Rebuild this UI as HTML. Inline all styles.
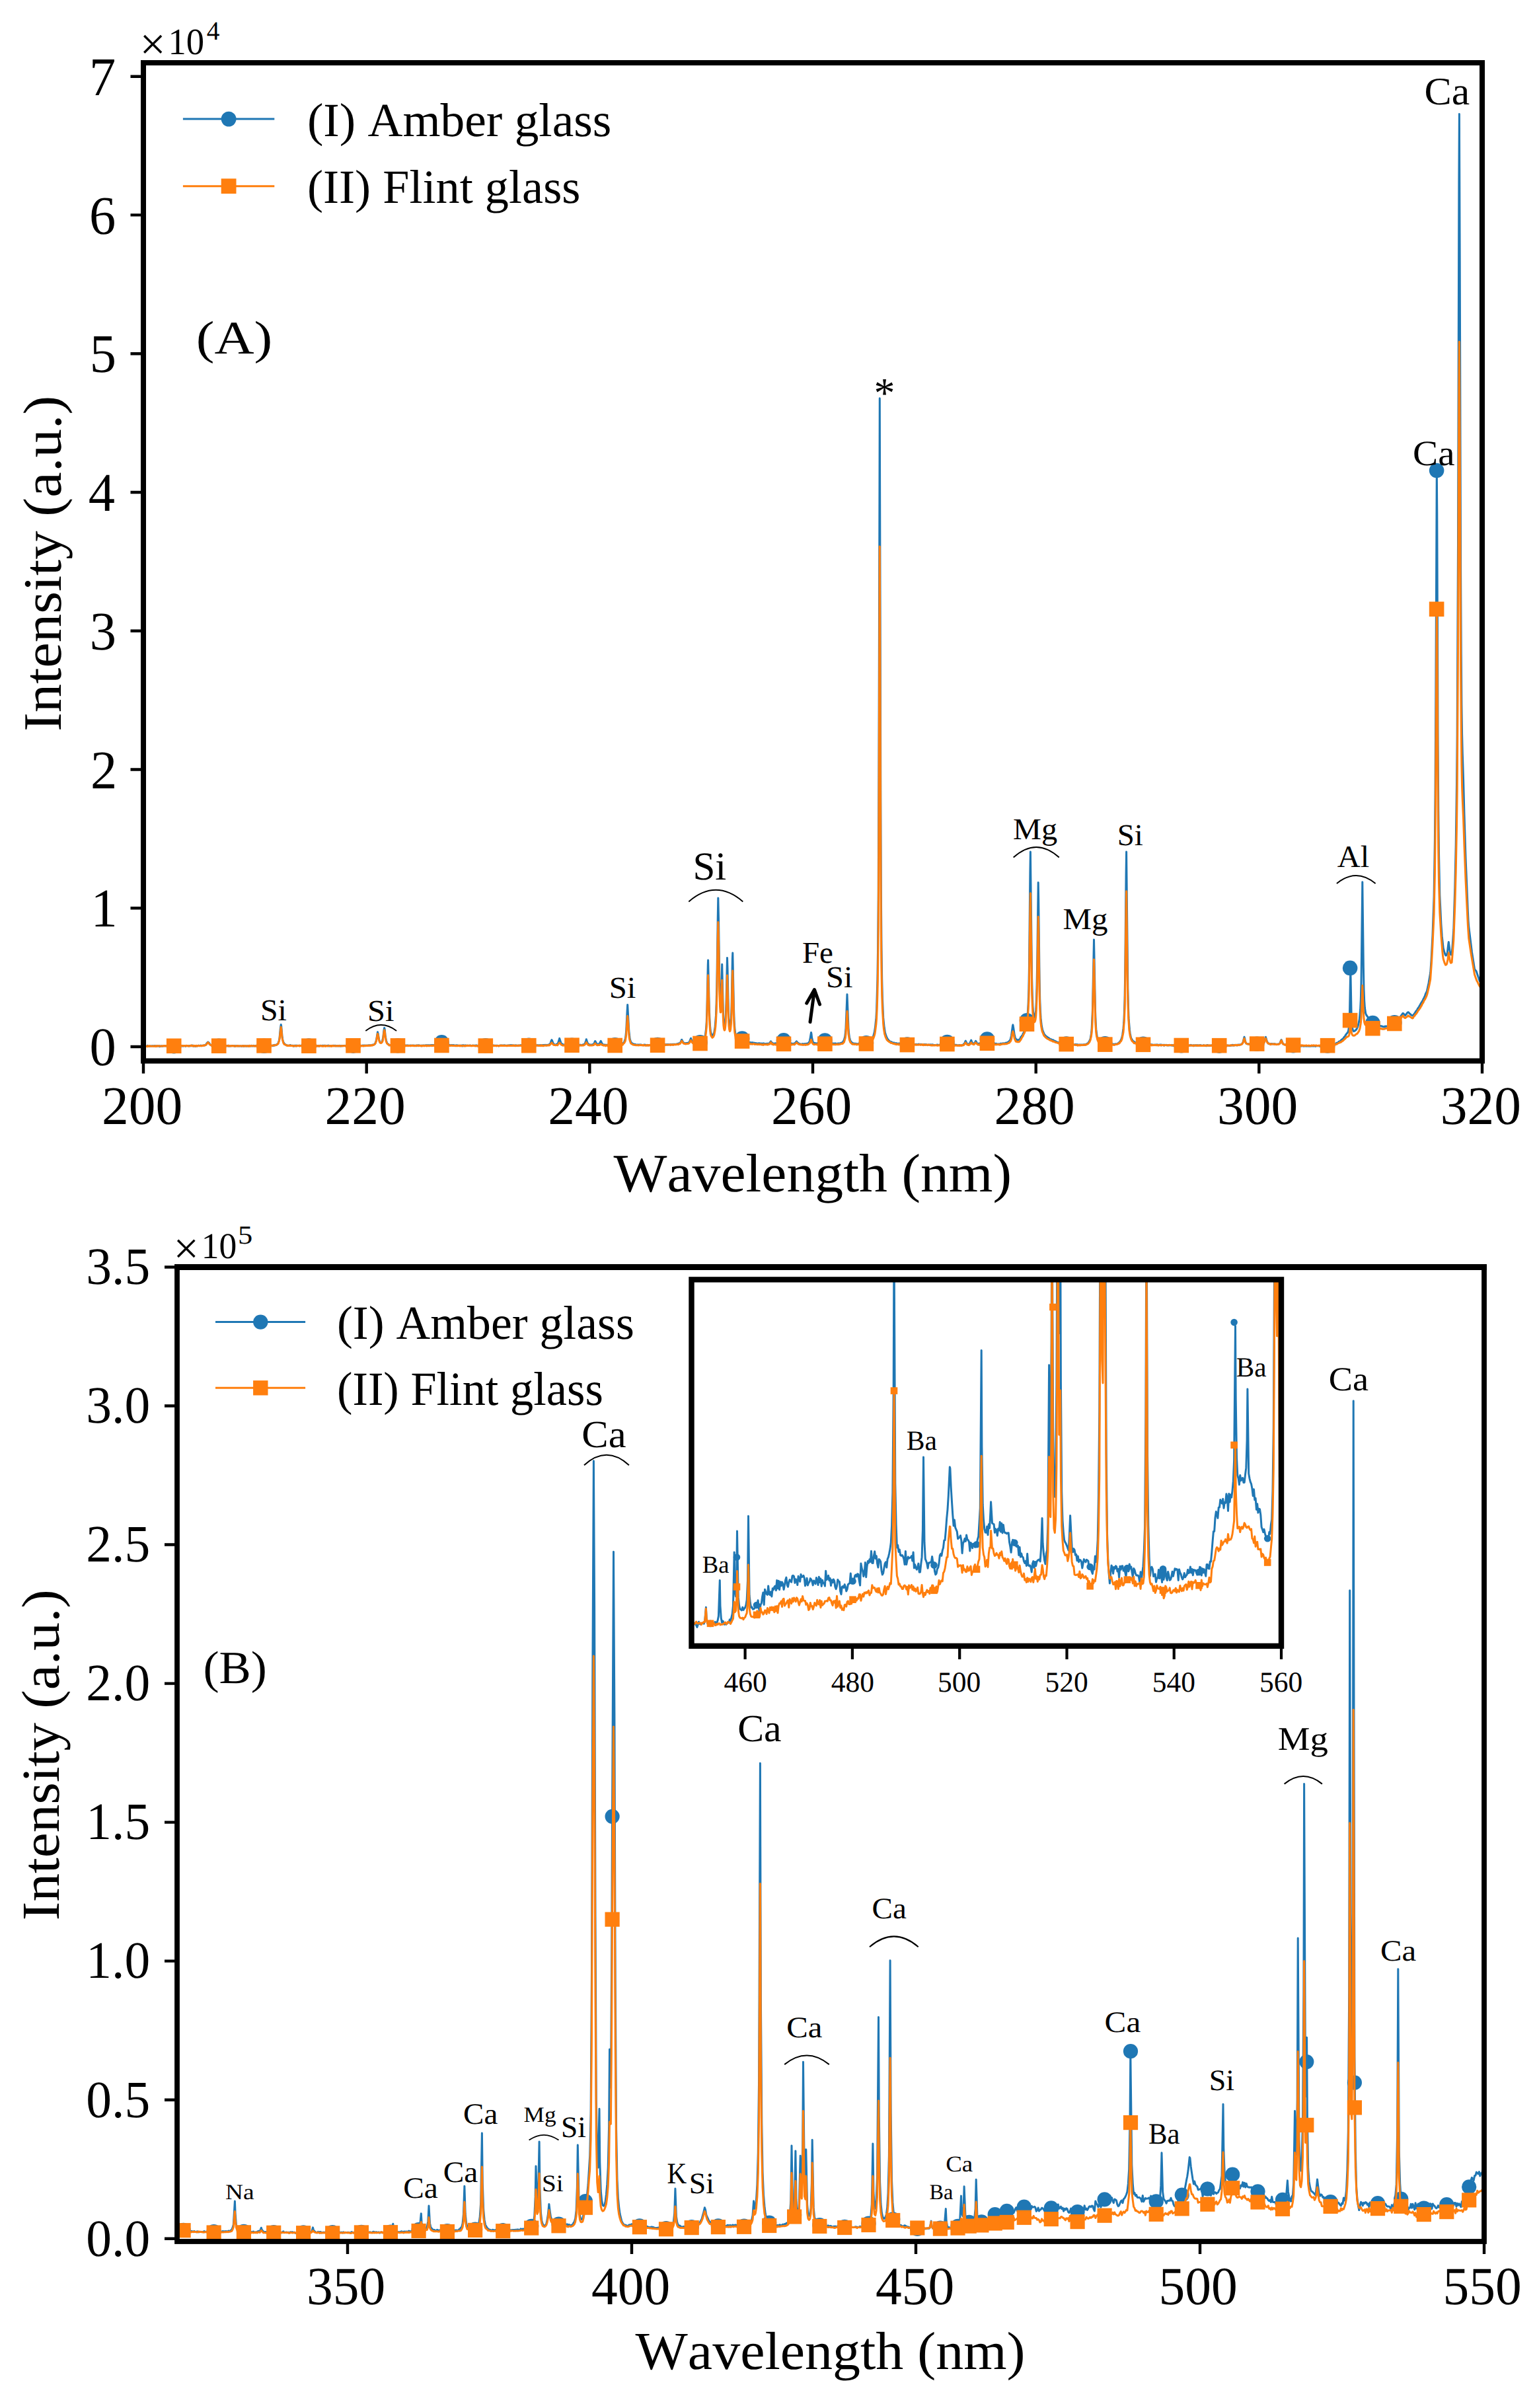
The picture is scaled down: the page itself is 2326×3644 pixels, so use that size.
<!DOCTYPE html>
<html lang="en"><head><meta charset="utf-8"><title>LIBS spectra of amber and flint glass</title>
<style>html,body{margin:0;padding:0;background:#fff}svg{display:block}</style></head>
<body>
<svg width="2326" height="3644" viewBox="0 0 2326 3644" font-family="'Liberation Serif', serif" fill="#000" style="font-kerning:none;text-rendering:geometricPrecision">
<rect width="2326" height="3644" fill="#fff"/>
<clipPath id="ca"><rect x="217.0" y="95.0" width="2026.0" height="1510.5"/></clipPath>
<g clip-path="url(#ca)">
<polyline points="217.0,1582.6 217.7,1583.8 218.4,1583.0 219.0,1583.3 220.4,1583.2 221.1,1583.6 221.7,1583.2 222.4,1583.3 223.1,1582.3 223.8,1583.0 226.5,1583.3 227.8,1583.0 228.5,1583.1 229.2,1582.8 229.8,1583.1 230.5,1583.0 231.2,1582.7 232.5,1583.2 234.6,1582.5 235.2,1583.1 236.6,1582.7 237.3,1583.2 238.6,1582.8 240.0,1583.0 240.6,1582.8 241.3,1583.7 242.0,1582.7 243.3,1583.4 244.0,1582.9 244.7,1582.8 246.0,1583.2 247.4,1582.9 248.1,1582.6 249.4,1582.8 250.1,1582.6 251.4,1583.1 252.1,1582.7 254.1,1583.1 254.8,1582.8 255.5,1583.5 256.2,1582.7 256.8,1582.7 257.5,1583.2 258.2,1582.8 258.9,1583.1 259.5,1582.6 260.2,1583.3 262.2,1582.5 262.9,1583.3 264.3,1582.7 264.9,1582.9 265.6,1582.4 266.3,1583.1 267.0,1582.7 267.6,1583.0 268.3,1582.4 270.4,1583.2 271.0,1582.3 271.7,1582.6 273.1,1582.5 275.1,1582.9 275.8,1582.9 276.4,1582.4 277.1,1583.1 279.8,1582.6 280.5,1583.1 281.2,1583.2 282.5,1582.4 284.5,1582.8 285.9,1582.8 286.6,1582.5 287.2,1582.9 287.9,1582.7 289.9,1582.7 290.6,1582.1 292.0,1582.3 292.6,1583.2 293.3,1582.8 294.0,1582.9 294.7,1582.6 295.3,1583.3 296.0,1582.4 296.7,1582.4 297.4,1583.0 298.7,1582.9 300.7,1582.1 301.4,1582.7 302.1,1582.4 302.8,1582.6 303.4,1582.1 304.1,1582.4 304.8,1582.2 305.5,1582.7 306.1,1582.5 306.8,1582.6 307.5,1581.9 308.8,1582.1 309.5,1582.0 310.2,1581.5 310.9,1581.5 311.5,1581.1 312.9,1578.8 313.6,1578.3 314.2,1577.3 314.9,1577.0 316.3,1578.1 317.6,1580.3 320.3,1582.3 321.7,1582.2 322.4,1582.5 323.7,1582.6 325.1,1582.3 325.7,1582.7 328.4,1582.2 329.1,1583.2 329.8,1582.5 330.5,1582.8 332.5,1582.5 333.8,1582.7 334.5,1582.3 335.2,1582.8 336.5,1582.6 337.2,1582.9 337.9,1582.2 338.6,1582.5 339.2,1582.2 339.9,1582.8 340.6,1582.9 341.9,1582.6 342.6,1582.9 343.3,1582.7 344.0,1582.8 344.6,1582.4 345.3,1583.0 346.0,1582.5 346.7,1583.0 348.7,1583.1 350.0,1582.6 350.7,1582.8 352.1,1582.4 354.8,1583.2 355.4,1582.6 356.1,1583.3 356.8,1582.7 357.5,1582.8 358.1,1582.6 359.5,1583.0 360.2,1582.7 360.8,1583.0 364.9,1582.9 365.6,1583.4 366.2,1582.9 366.9,1583.1 367.6,1582.6 368.3,1582.5 368.9,1583.3 369.6,1582.8 371.0,1583.1 371.7,1582.7 373.0,1583.3 373.7,1582.9 375.0,1582.8 375.7,1583.2 376.4,1582.7 377.1,1582.7 377.7,1583.1 379.1,1582.9 379.8,1583.0 380.4,1582.4 381.8,1583.1 383.1,1582.9 383.8,1582.3 384.5,1582.9 385.8,1582.7 386.5,1582.9 387.2,1582.3 387.9,1583.0 388.5,1582.7 389.9,1582.7 390.6,1583.1 391.2,1582.4 391.9,1582.9 393.3,1583.1 394.6,1582.7 396.6,1582.5 398.0,1582.8 398.7,1582.6 400.0,1582.8 401.4,1582.4 402.7,1582.8 404.1,1582.2 404.7,1582.7 406.1,1582.7 406.8,1582.3 407.4,1583.1 408.8,1582.2 409.5,1582.7 410.1,1582.1 411.5,1582.5 412.2,1582.3 412.8,1582.7 414.2,1581.6 414.9,1582.2 415.5,1581.4 416.2,1581.7 416.9,1581.3 418.2,1581.6 419.6,1580.0 420.3,1579.6 421.0,1578.6 422.3,1574.6 423.0,1571.1 424.3,1556.6 425.2,1550.6 425.7,1552.8 427.0,1568.0 427.7,1573.0 428.4,1576.0 429.1,1577.6 430.4,1579.6 431.8,1580.9 434.5,1582.0 437.2,1582.3 437.8,1582.0 438.5,1582.2 439.2,1581.5 440.5,1582.5 441.2,1582.2 442.6,1582.6 443.2,1582.1 444.6,1583.2 445.3,1582.3 445.9,1582.6 446.6,1582.1 447.3,1582.7 448.0,1582.8 448.6,1582.1 449.3,1582.8 450.7,1582.2 452.0,1582.5 453.4,1582.3 454.0,1582.7 454.7,1582.4 455.4,1582.4 456.1,1582.0 456.7,1582.6 457.4,1582.8 458.1,1582.4 458.8,1582.7 460.8,1582.3 461.5,1582.7 462.1,1582.6 462.8,1583.2 464.2,1582.2 464.8,1582.8 466.2,1582.9 466.9,1582.4 468.2,1582.9 468.9,1582.4 470.2,1582.4 470.9,1582.8 471.6,1582.2 473.6,1582.7 475.0,1582.4 475.7,1582.7 476.3,1582.3 477.0,1582.5 477.7,1582.3 479.0,1582.6 479.7,1583.1 480.4,1582.5 481.1,1582.4 484.4,1582.8 485.1,1582.3 487.1,1582.9 488.5,1582.2 489.8,1582.8 490.5,1582.3 491.2,1582.3 494.6,1582.4 495.2,1582.8 495.9,1582.2 496.6,1582.6 497.3,1582.1 497.9,1583.1 498.6,1582.4 499.3,1582.4 500.0,1582.7 502.0,1582.5 502.7,1582.7 504.7,1582.3 505.4,1582.6 507.4,1582.3 508.1,1582.9 508.7,1582.9 509.4,1582.6 510.1,1582.9 512.1,1582.5 512.8,1582.9 513.5,1582.4 514.1,1583.0 514.8,1582.5 515.5,1583.0 516.2,1582.9 516.8,1582.4 518.2,1582.8 519.5,1582.5 520.9,1582.6 521.6,1582.3 522.3,1582.8 523.6,1582.7 524.3,1582.3 525.6,1582.3 526.3,1582.6 527.7,1582.4 528.3,1582.7 529.0,1582.4 529.7,1582.4 530.4,1582.7 531.7,1582.6 533.1,1581.9 533.7,1582.6 534.4,1582.6 535.1,1583.1 535.8,1582.5 537.1,1582.8 537.8,1582.3 538.5,1582.9 539.8,1582.5 540.5,1582.8 541.2,1582.3 541.8,1582.3 542.5,1582.9 543.2,1582.9 543.9,1582.3 545.2,1582.8 547.9,1582.3 548.6,1582.4 549.3,1582.0 550.6,1582.2 552.0,1582.1 552.6,1582.2 553.3,1582.7 554.0,1582.1 554.7,1582.3 555.3,1581.9 556.0,1582.2 557.4,1582.1 558.0,1581.7 559.4,1582.1 562.8,1581.6 563.4,1581.0 564.1,1581.5 565.5,1580.9 566.1,1580.3 566.8,1580.3 568.2,1578.2 569.5,1573.9 571.5,1561.8 572.2,1564.2 573.6,1573.2 574.9,1577.2 576.3,1578.0 577.6,1577.1 578.3,1576.3 579.7,1570.3 581.0,1558.9 581.7,1555.4 582.4,1558.9 583.0,1566.2 584.4,1574.8 585.7,1578.3 586.4,1579.3 587.1,1579.9 587.8,1580.2 588.4,1581.0 589.8,1581.4 590.5,1581.8 591.1,1581.2 592.5,1581.7 593.2,1581.5 593.8,1582.1 595.2,1581.6 595.9,1581.8 596.5,1582.6 597.2,1582.9 598.6,1581.9 599.2,1582.3 600.6,1582.1 601.3,1582.4 602.6,1582.0 604.6,1582.4 605.3,1582.2 606.0,1582.4 607.3,1581.7 608.0,1582.5 608.7,1582.9 609.4,1582.4 610.7,1582.1 611.4,1582.1 612.1,1582.5 612.7,1582.5 613.4,1582.0 614.1,1582.6 614.8,1582.1 615.4,1582.4 616.1,1582.1 618.1,1582.1 618.8,1582.6 619.5,1582.3 620.8,1582.2 621.5,1582.0 622.9,1582.5 624.9,1582.1 625.6,1582.5 626.3,1582.0 628.3,1582.6 629.6,1582.1 630.3,1582.7 631.0,1582.0 631.7,1581.9 632.3,1582.2 633.0,1582.2 633.7,1581.7 635.0,1582.5 635.7,1582.3 637.1,1582.3 637.7,1582.8 638.4,1582.0 639.1,1582.4 641.1,1582.0 642.5,1582.4 643.8,1581.8 644.5,1582.2 645.2,1581.8 646.5,1582.2 647.2,1581.7 647.9,1582.2 648.5,1581.8 649.2,1582.1 649.9,1581.8 650.6,1582.2 651.2,1582.1 651.9,1581.6 653.9,1581.8 654.6,1581.5 655.3,1581.9 660.0,1580.7 660.7,1580.0 664.1,1579.2 664.7,1578.5 665.4,1578.6 666.8,1577.3 667.4,1576.9 668.8,1577.7 669.5,1577.6 670.1,1578.2 670.8,1578.2 671.5,1578.9 672.8,1578.9 673.5,1579.6 674.2,1579.6 674.9,1580.4 675.6,1580.7 676.9,1580.5 677.6,1581.3 678.3,1581.2 678.9,1581.7 680.3,1581.3 682.3,1582.1 683.0,1581.7 683.7,1581.6 685.0,1581.8 685.7,1582.3 686.4,1581.5 687.0,1582.0 688.4,1581.9 689.1,1582.6 689.7,1582.1 691.8,1581.8 692.4,1582.0 693.1,1582.6 694.5,1582.1 696.5,1582.6 697.2,1582.1 698.5,1582.2 699.2,1582.7 699.9,1581.8 700.5,1583.0 701.9,1581.7 702.6,1582.3 703.2,1582.2 703.9,1582.6 704.6,1581.9 705.3,1582.6 705.9,1582.2 707.3,1582.5 708.0,1582.1 708.6,1582.6 712.0,1582.1 713.4,1582.4 714.7,1582.4 715.4,1582.1 716.1,1582.4 716.7,1582.2 718.1,1582.5 718.8,1582.1 719.4,1582.6 720.8,1581.9 721.5,1582.6 722.1,1582.3 722.8,1582.7 723.5,1582.5 724.2,1582.7 724.9,1582.4 725.5,1582.5 726.9,1581.9 727.6,1582.2 728.2,1582.1 730.9,1582.7 732.3,1581.9 733.6,1582.4 734.3,1581.9 735.0,1582.4 736.3,1582.6 737.7,1582.3 738.4,1581.8 739.0,1582.3 739.7,1582.5 741.1,1582.3 741.7,1582.7 742.4,1582.2 744.4,1582.1 745.1,1582.6 745.8,1582.7 746.5,1581.9 747.1,1582.0 747.8,1582.6 748.5,1582.2 753.2,1582.2 754.6,1583.0 755.2,1582.4 755.9,1582.6 756.6,1582.1 757.3,1582.0 758.6,1582.3 760.0,1581.9 760.6,1582.4 761.3,1581.9 762.7,1582.1 763.3,1581.8 764.0,1582.3 764.7,1581.9 765.4,1582.4 766.7,1582.4 767.4,1582.0 768.1,1582.4 768.7,1582.1 769.4,1582.4 770.1,1581.9 770.8,1581.7 771.4,1582.1 772.1,1581.7 772.8,1582.0 773.5,1581.6 774.8,1582.5 775.5,1581.7 776.9,1582.3 777.5,1582.2 778.2,1582.5 778.9,1582.1 779.6,1582.3 780.2,1581.7 780.9,1581.9 781.6,1582.5 782.9,1582.2 783.6,1582.5 784.3,1582.1 786.3,1582.2 787.7,1581.7 788.3,1581.7 789.0,1582.0 789.7,1581.8 790.4,1582.2 791.0,1581.9 791.7,1582.2 792.4,1581.8 793.1,1582.3 795.1,1581.8 795.8,1582.3 797.1,1581.9 798.5,1582.2 799.1,1581.9 799.8,1582.0 800.5,1581.6 802.5,1582.5 803.9,1581.6 804.5,1581.9 805.2,1581.7 806.6,1582.3 807.2,1581.7 807.9,1581.9 808.6,1581.7 809.3,1582.2 809.9,1581.8 810.6,1582.0 811.3,1581.7 812.0,1582.0 813.3,1582.0 814.0,1581.6 815.3,1582.1 816.7,1582.1 817.4,1581.5 818.0,1582.3 820.1,1581.5 820.7,1581.8 822.8,1581.5 823.4,1581.7 824.1,1581.3 824.8,1581.6 825.5,1581.3 826.2,1581.9 826.8,1581.3 827.5,1581.8 828.2,1581.8 828.9,1581.2 829.5,1581.4 830.2,1580.9 830.9,1581.1 831.6,1580.0 832.2,1579.8 832.9,1579.1 834.3,1574.7 834.9,1573.7 835.6,1574.7 837.0,1578.5 837.6,1579.7 838.3,1580.3 839.0,1580.4 840.3,1581.5 841.0,1580.9 841.7,1580.9 842.4,1580.0 843.0,1580.1 843.7,1579.8 844.4,1579.0 846.7,1571.4 849.1,1578.7 850.5,1579.9 851.1,1581.1 851.8,1580.3 852.5,1581.1 853.2,1580.9 853.8,1581.5 856.5,1581.3 857.2,1581.4 857.9,1581.9 859.9,1581.5 860.6,1581.8 861.9,1581.7 863.3,1582.0 864.0,1581.3 864.6,1581.8 865.3,1581.7 866.0,1581.9 866.7,1581.4 867.3,1581.3 868.0,1581.8 868.7,1581.6 869.4,1581.9 870.0,1581.3 871.4,1581.9 872.1,1581.4 874.8,1581.8 876.1,1581.5 877.5,1581.8 878.2,1581.0 878.8,1581.6 879.5,1581.6 880.2,1581.6 881.5,1581.0 882.2,1581.0 882.9,1580.7 883.6,1580.9 884.9,1579.5 885.6,1578.1 886.9,1574.4 887.3,1572.7 889.0,1577.9 889.6,1579.1 891.0,1580.4 891.7,1581.5 893.0,1580.8 893.7,1581.3 895.0,1581.6 895.7,1580.7 897.1,1580.9 899.1,1579.2 900.4,1575.8 900.8,1575.5 903.1,1579.8 905.2,1580.7 905.8,1579.9 906.5,1580.0 907.2,1579.2 909.2,1575.4 909.9,1576.5 910.6,1578.3 912.6,1581.2 913.3,1581.0 913.9,1581.3 914.6,1581.0 916.0,1581.5 917.3,1581.1 920.0,1581.6 922.7,1581.4 923.4,1581.8 924.7,1581.9 926.1,1581.1 926.8,1581.2 927.5,1581.7 928.1,1581.8 928.8,1581.2 929.5,1581.3 930.2,1581.7 930.8,1581.1 931.5,1581.3 932.2,1581.0 932.9,1581.2 934.2,1581.1 934.9,1581.4 936.2,1581.2 936.9,1580.7 937.6,1581.1 938.3,1581.1 938.9,1580.4 940.3,1579.9 941.0,1579.7 941.6,1580.1 943.7,1578.2 944.3,1577.8 946.4,1571.8 947.0,1567.1 947.7,1559.6 949.1,1530.5 949.7,1520.4 951.8,1560.0 953.1,1571.6 953.8,1574.4 955.1,1577.5 957.2,1579.3 959.2,1580.0 959.9,1580.8 960.5,1580.9 961.2,1580.3 962.6,1581.4 963.9,1581.0 964.6,1581.3 965.3,1581.0 966.6,1581.1 967.3,1581.5 968.6,1580.8 969.3,1581.5 970.0,1581.0 972.7,1581.7 973.4,1581.6 974.0,1581.2 975.4,1581.1 976.7,1581.2 978.1,1581.8 979.5,1581.3 980.8,1581.9 981.5,1581.6 982.2,1581.8 982.8,1581.4 983.5,1581.7 985.5,1581.5 986.2,1581.1 987.6,1582.0 988.2,1581.2 988.9,1581.1 991.6,1581.4 992.3,1581.8 993.6,1581.4 994.3,1581.6 995.0,1580.9 995.7,1581.8 997.0,1581.1 997.7,1581.5 999.0,1581.6 999.7,1581.4 1000.4,1580.8 1002.4,1581.3 1003.1,1580.9 1004.4,1581.3 1006.5,1580.7 1007.1,1580.9 1008.5,1580.4 1009.2,1581.0 1009.8,1581.1 1010.5,1580.5 1013.2,1580.7 1013.9,1580.5 1014.6,1580.7 1015.2,1580.3 1015.9,1580.8 1017.3,1580.4 1017.9,1580.5 1018.6,1580.2 1020.0,1580.4 1020.6,1580.2 1022.0,1580.5 1026.0,1579.5 1026.7,1579.1 1028.1,1579.1 1030.1,1577.2 1031.5,1573.5 1031.8,1573.4 1033.5,1576.7 1034.8,1578.3 1036.2,1578.8 1036.9,1578.6 1037.5,1579.2 1038.9,1578.4 1040.2,1578.5 1040.9,1578.2 1041.6,1578.3 1042.3,1577.9 1043.6,1576.0 1045.5,1571.2 1047.0,1575.2 1047.7,1576.2 1048.3,1576.6 1049.7,1578.1 1050.4,1577.6 1051.7,1578.0 1054.4,1577.7 1055.1,1578.3 1055.8,1577.4 1056.4,1578.0 1057.1,1578.1 1057.8,1577.8 1058.5,1577.9 1059.1,1577.3 1060.5,1577.7 1062.5,1576.9 1063.2,1576.2 1063.9,1575.9 1065.9,1572.3 1067.2,1567.9 1068.6,1556.5 1069.3,1545.7 1069.9,1526.9 1071.3,1460.1 1071.6,1453.1 1073.3,1526.2 1074.0,1543.6 1074.7,1554.5 1075.3,1560.4 1076.0,1563.4 1077.4,1566.9 1078.0,1567.3 1079.4,1566.3 1080.8,1562.4 1082.1,1554.3 1083.5,1536.4 1084.1,1519.8 1084.8,1493.3 1086.2,1392.0 1086.8,1358.9 1087.5,1389.8 1088.9,1486.7 1089.5,1509.9 1090.2,1521.0 1090.9,1520.6 1091.6,1505.8 1092.7,1459.3 1094.3,1528.3 1094.9,1543.3 1095.6,1549.7 1096.3,1552.5 1097.0,1551.6 1097.6,1547.1 1098.3,1537.7 1099.0,1518.1 1100.5,1449.4 1101.0,1464.9 1102.4,1530.4 1103.0,1544.0 1103.7,1551.1 1104.4,1553.8 1105.1,1553.8 1105.7,1549.7 1106.4,1540.4 1107.1,1522.9 1108.4,1450.2 1108.8,1442.0 1110.5,1525.9 1111.1,1544.6 1111.8,1556.0 1113.2,1566.6 1113.8,1569.1 1115.9,1573.1 1116.5,1573.6 1117.9,1573.4 1118.6,1573.7 1119.2,1573.0 1119.9,1573.0 1121.9,1571.4 1123.0,1571.5 1124.0,1571.7 1124.6,1572.7 1125.3,1573.0 1127.3,1575.0 1129.4,1576.5 1131.4,1577.0 1132.1,1577.5 1132.8,1577.4 1133.4,1578.0 1134.1,1577.3 1134.8,1577.7 1135.5,1577.6 1136.1,1578.0 1138.2,1577.6 1138.8,1578.3 1139.5,1577.9 1140.9,1578.5 1141.5,1578.2 1143.6,1578.8 1144.2,1578.6 1146.3,1579.1 1148.3,1578.7 1149.0,1579.1 1149.6,1578.8 1151.0,1579.5 1151.7,1579.1 1152.3,1579.5 1153.7,1579.1 1154.4,1579.5 1155.0,1579.5 1155.7,1578.9 1156.4,1579.5 1159.8,1579.5 1160.4,1580.2 1161.1,1579.2 1161.8,1579.8 1162.5,1579.7 1163.1,1579.1 1164.5,1578.7 1166.5,1575.8 1167.9,1577.6 1169.2,1578.7 1171.9,1579.4 1172.6,1579.3 1173.3,1578.8 1173.9,1579.1 1178.7,1578.4 1179.3,1578.1 1181.4,1576.7 1182.7,1576.3 1184.1,1575.1 1184.8,1575.2 1185.4,1574.4 1186.8,1574.2 1187.5,1575.2 1188.1,1575.5 1188.8,1575.4 1189.5,1576.5 1190.2,1576.7 1192.2,1578.1 1193.5,1578.0 1195.6,1578.9 1196.2,1578.6 1196.9,1578.9 1197.6,1578.9 1198.3,1579.6 1198.9,1579.2 1199.6,1579.6 1200.3,1579.2 1201.6,1579.4 1203.7,1578.0 1205.5,1575.8 1207.0,1577.8 1209.7,1579.8 1210.4,1579.5 1211.8,1580.3 1212.4,1580.3 1213.1,1580.0 1213.8,1580.1 1214.5,1579.5 1215.8,1580.1 1216.5,1580.0 1217.2,1579.5 1217.8,1580.1 1218.5,1579.6 1219.2,1579.6 1219.9,1579.3 1221.2,1579.5 1222.6,1578.9 1223.9,1578.0 1225.3,1575.4 1225.9,1572.4 1227.5,1562.4 1228.0,1564.6 1228.6,1570.1 1230.0,1576.3 1230.7,1577.6 1231.4,1577.8 1232.0,1578.6 1232.7,1578.9 1233.4,1578.6 1234.1,1578.8 1234.7,1579.7 1236.1,1578.9 1236.8,1578.8 1237.4,1579.1 1238.1,1578.5 1238.8,1578.9 1240.8,1578.2 1242.2,1577.5 1242.8,1577.4 1243.5,1576.7 1244.2,1576.8 1245.5,1575.3 1246.2,1575.3 1246.9,1574.7 1248.4,1574.6 1249.6,1574.8 1252.3,1576.1 1253.0,1576.8 1254.3,1577.3 1255.0,1578.1 1255.7,1578.5 1256.3,1577.9 1259.7,1579.4 1260.4,1579.1 1261.1,1579.6 1261.7,1579.0 1262.4,1579.5 1263.8,1578.9 1264.4,1578.9 1265.1,1579.5 1265.8,1579.2 1266.5,1579.7 1268.5,1579.0 1269.2,1579.4 1269.8,1579.1 1271.2,1579.3 1272.5,1578.3 1273.2,1578.4 1274.6,1577.5 1275.2,1577.4 1277.3,1573.8 1278.6,1569.2 1279.3,1564.3 1280.0,1555.8 1282.0,1504.7 1284.0,1555.5 1284.7,1564.5 1285.4,1569.3 1286.7,1574.7 1288.8,1577.4 1290.1,1578.5 1291.5,1579.0 1292.1,1579.0 1292.8,1579.5 1293.5,1579.3 1295.5,1579.3 1297.5,1580.2 1298.9,1579.4 1299.6,1579.3 1300.2,1580.4 1300.9,1579.9 1302.3,1579.9 1302.9,1579.6 1305.0,1579.5 1305.6,1579.8 1307.0,1579.5 1307.7,1578.9 1308.3,1579.4 1309.7,1578.5 1310.4,1578.5 1311.0,1578.1 1311.7,1578.3 1313.7,1576.8 1314.4,1576.8 1315.1,1576.2 1315.8,1576.2 1316.4,1575.7 1319.1,1572.7 1320.5,1570.1 1321.2,1569.4 1323.2,1562.4 1324.5,1554.3 1325.9,1540.2 1326.6,1528.2 1327.9,1481.8 1328.6,1434.4 1329.3,1347.6 1329.9,1176.7 1331.3,602.8 1332.7,1176.4 1333.3,1347.3 1334.0,1434.6 1334.7,1482.0 1335.4,1510.7 1336.7,1539.9 1338.1,1554.3 1339.4,1562.5 1340.8,1567.1 1342.1,1570.3 1343.5,1572.7 1344.1,1573.0 1344.8,1574.3 1346.8,1576.0 1347.5,1577.0 1348.2,1577.2 1348.9,1576.6 1349.5,1576.9 1350.2,1577.7 1351.6,1577.9 1352.2,1578.4 1352.9,1577.9 1353.6,1578.8 1354.3,1578.8 1354.9,1579.5 1355.6,1578.5 1356.3,1579.0 1357.0,1578.7 1357.6,1579.4 1358.3,1579.2 1359.7,1579.4 1360.3,1578.9 1361.0,1579.0 1362.4,1579.7 1363.7,1579.4 1365.7,1579.7 1366.4,1580.1 1367.8,1579.6 1368.4,1580.3 1369.8,1579.9 1370.5,1580.4 1371.1,1580.2 1371.8,1580.6 1372.5,1580.3 1373.2,1580.6 1375.9,1580.4 1376.5,1580.9 1377.2,1579.9 1378.6,1580.7 1379.9,1580.3 1380.6,1580.7 1382.6,1580.3 1383.3,1580.7 1384.0,1580.4 1385.3,1580.6 1386.0,1580.2 1387.4,1580.8 1388.0,1580.5 1390.1,1580.5 1390.7,1580.0 1391.4,1580.5 1392.8,1580.7 1393.4,1580.3 1395.5,1580.9 1396.1,1580.5 1396.8,1580.5 1397.5,1581.0 1399.5,1580.4 1400.2,1581.1 1401.5,1580.6 1402.2,1581.0 1404.2,1581.3 1405.6,1580.9 1406.3,1581.4 1407.6,1580.8 1408.3,1581.1 1409.0,1580.9 1409.6,1581.3 1410.3,1580.9 1411.0,1581.5 1411.7,1580.8 1412.3,1581.4 1413.7,1581.6 1415.7,1581.5 1417.7,1581.1 1418.4,1581.4 1419.1,1581.0 1419.8,1581.5 1421.1,1581.5 1421.8,1581.0 1422.5,1581.4 1423.1,1581.3 1423.8,1580.5 1424.5,1580.3 1425.2,1580.2 1425.8,1580.7 1427.2,1579.6 1428.5,1579.5 1429.2,1578.8 1429.9,1578.7 1430.6,1578.2 1431.2,1576.9 1432.6,1577.2 1433.4,1577.0 1434.0,1576.6 1434.6,1577.0 1435.3,1577.1 1436.0,1577.8 1437.3,1578.5 1438.7,1579.9 1442.7,1580.9 1443.4,1581.4 1444.1,1580.9 1444.8,1580.9 1445.4,1581.4 1446.1,1581.5 1446.8,1581.3 1450.2,1582.1 1451.5,1581.5 1452.2,1582.0 1453.5,1581.7 1454.9,1581.8 1455.6,1581.6 1456.2,1581.9 1456.9,1581.3 1457.6,1581.1 1458.3,1580.1 1459.6,1579.2 1461.0,1575.5 1461.3,1575.2 1463.7,1580.0 1465.7,1580.4 1466.4,1579.6 1467.0,1580.1 1469.7,1574.1 1471.1,1577.5 1471.8,1578.5 1473.1,1579.4 1473.8,1579.4 1474.5,1578.5 1475.1,1578.1 1476.5,1575.3 1477.2,1576.0 1478.5,1578.8 1479.2,1579.3 1480.5,1579.7 1481.9,1578.9 1483.2,1579.1 1484.6,1578.7 1485.3,1577.8 1486.0,1578.2 1486.6,1577.2 1487.3,1577.1 1488.7,1576.0 1489.3,1574.8 1490.0,1574.4 1490.7,1573.1 1491.4,1573.6 1492.7,1572.4 1493.4,1572.3 1494.1,1572.6 1494.7,1573.3 1495.4,1572.9 1498.8,1576.2 1500.1,1577.1 1500.8,1577.1 1501.5,1578.0 1502.2,1578.3 1502.8,1578.2 1504.9,1579.2 1505.5,1579.1 1506.2,1579.6 1507.6,1579.2 1508.9,1580.0 1509.6,1580.1 1510.3,1579.8 1511.6,1580.1 1513.0,1579.9 1513.6,1579.4 1514.3,1579.9 1515.0,1579.1 1515.7,1579.6 1517.0,1579.0 1518.4,1578.8 1519.7,1579.3 1520.4,1578.7 1521.1,1578.9 1522.4,1577.9 1524.4,1577.7 1525.8,1576.8 1526.5,1576.7 1527.1,1575.6 1527.8,1575.2 1529.2,1572.7 1530.5,1567.3 1532.5,1552.1 1532.9,1550.9 1533.9,1556.6 1535.3,1566.5 1536.6,1571.4 1537.3,1572.0 1538.0,1573.0 1538.6,1572.9 1539.3,1573.6 1540.7,1574.0 1542.0,1573.4 1542.7,1572.7 1543.4,1572.6 1544.0,1571.5 1544.7,1569.4 1545.4,1569.2 1546.7,1567.1 1547.4,1566.8 1548.1,1564.4 1549.4,1562.4 1551.5,1556.8 1553.5,1547.7 1554.8,1538.1 1555.5,1530.2 1556.2,1517.1 1556.9,1496.5 1557.5,1461.4 1558.9,1320.1 1559.4,1289.1 1561.6,1480.6 1562.3,1506.7 1562.9,1522.0 1563.6,1531.3 1565.0,1539.0 1565.6,1539.8 1566.3,1538.4 1567.0,1535.2 1567.7,1528.2 1568.3,1516.4 1569.0,1494.6 1569.7,1456.5 1571.2,1335.6 1571.7,1362.2 1573.1,1481.9 1573.7,1512.0 1574.4,1529.3 1575.1,1540.9 1575.8,1547.6 1576.4,1552.7 1577.8,1559.0 1580.5,1565.6 1581.2,1566.0 1581.8,1566.9 1583.9,1568.8 1584.5,1569.0 1585.2,1569.8 1586.6,1570.4 1589.3,1572.4 1591.3,1573.0 1592.0,1573.7 1593.3,1573.7 1594.0,1574.0 1594.7,1574.8 1595.4,1574.9 1600.1,1577.2 1601.4,1577.6 1602.1,1577.5 1602.8,1577.8 1604.1,1577.8 1604.8,1578.5 1606.2,1578.3 1607.5,1578.9 1608.2,1578.5 1609.5,1579.2 1610.2,1578.6 1610.9,1579.5 1611.6,1579.3 1612.2,1579.6 1613.6,1579.4 1614.3,1579.9 1615.6,1579.9 1616.3,1580.2 1617.0,1579.7 1619.0,1580.4 1620.3,1580.3 1621.0,1580.5 1621.7,1580.1 1622.4,1581.1 1623.0,1581.1 1623.7,1580.7 1624.4,1581.1 1625.1,1580.7 1625.7,1580.9 1627.8,1580.5 1629.8,1580.8 1630.5,1580.7 1632.5,1581.3 1633.2,1581.3 1633.8,1580.9 1634.5,1581.7 1635.2,1581.0 1635.9,1581.2 1636.6,1580.9 1637.9,1581.2 1638.6,1581.0 1639.3,1581.5 1639.9,1580.8 1640.6,1580.7 1641.3,1581.2 1642.0,1580.4 1644.0,1580.4 1644.7,1579.6 1646.7,1578.5 1648.7,1575.4 1650.1,1572.0 1651.4,1564.5 1652.1,1558.0 1653.4,1529.2 1655.5,1421.9 1657.5,1529.2 1658.2,1547.2 1658.8,1557.9 1660.2,1568.6 1661.5,1573.2 1662.9,1576.2 1663.6,1576.2 1664.9,1577.8 1666.9,1579.0 1667.6,1578.6 1669.0,1579.8 1669.6,1579.7 1670.3,1580.3 1671.0,1579.5 1672.3,1579.3 1673.0,1579.4 1673.7,1580.2 1675.0,1579.9 1676.4,1580.4 1677.1,1580.1 1677.7,1580.3 1678.4,1580.1 1679.1,1580.5 1681.8,1580.7 1684.5,1580.1 1685.8,1580.2 1686.5,1580.6 1687.9,1579.8 1688.6,1580.3 1690.6,1579.7 1691.9,1579.0 1692.6,1578.3 1693.3,1578.1 1695.3,1575.8 1696.7,1573.1 1698.0,1569.2 1698.7,1566.0 1700.0,1556.2 1700.7,1548.0 1701.4,1533.9 1702.1,1511.9 1702.7,1474.0 1704.1,1322.2 1704.6,1289.0 1706.8,1495.3 1707.5,1524.3 1708.1,1541.4 1709.5,1558.7 1710.2,1563.7 1711.5,1570.2 1712.2,1571.8 1713.5,1573.7 1714.2,1575.5 1714.9,1575.9 1715.6,1575.8 1716.9,1577.1 1717.6,1577.3 1718.3,1577.9 1718.9,1578.1 1720.3,1578.3 1721.0,1578.9 1721.6,1578.4 1722.3,1579.3 1723.0,1579.1 1723.7,1578.3 1724.3,1579.4 1725.0,1579.2 1725.7,1579.7 1727.7,1579.8 1729.1,1579.5 1729.7,1579.8 1730.4,1579.7 1731.1,1580.2 1731.8,1579.8 1732.4,1580.1 1733.1,1580.0 1733.8,1580.5 1734.5,1580.5 1735.1,1580.1 1737.2,1580.8 1739.2,1580.6 1739.9,1580.9 1741.2,1580.7 1741.9,1581.2 1742.6,1580.7 1743.9,1581.0 1744.6,1581.6 1746.6,1581.3 1747.3,1581.4 1748.0,1581.1 1749.3,1581.3 1750.0,1581.7 1750.7,1580.9 1751.4,1581.3 1752.0,1581.1 1752.7,1581.4 1755.4,1581.1 1756.1,1581.4 1756.8,1580.9 1757.4,1581.9 1758.8,1581.2 1760.8,1581.9 1761.5,1581.2 1762.2,1582.0 1762.8,1581.4 1763.5,1581.5 1764.9,1581.2 1765.5,1581.7 1766.9,1581.7 1767.6,1582.0 1768.2,1581.4 1768.9,1581.7 1769.6,1581.6 1770.3,1581.9 1770.9,1581.6 1772.3,1581.7 1773.0,1582.0 1773.6,1581.4 1775.0,1582.4 1775.7,1581.6 1777.0,1582.0 1777.7,1581.1 1779.0,1582.1 1780.4,1581.7 1781.1,1581.9 1781.7,1581.5 1782.4,1581.6 1783.1,1582.1 1784.4,1581.7 1785.8,1582.0 1786.5,1581.7 1787.1,1581.8 1787.8,1582.3 1789.9,1582.0 1790.5,1582.1 1791.2,1581.6 1791.9,1582.2 1792.6,1582.2 1793.2,1581.9 1793.9,1582.5 1795.3,1581.8 1795.9,1582.3 1796.6,1582.2 1797.3,1581.7 1800.0,1582.2 1800.7,1581.9 1801.3,1582.1 1802.0,1581.4 1803.4,1582.1 1804.7,1582.0 1805.4,1582.4 1806.1,1582.3 1806.7,1581.7 1807.4,1582.4 1809.4,1581.7 1810.1,1582.3 1810.8,1581.7 1811.5,1582.2 1812.1,1581.7 1813.5,1582.2 1814.2,1581.9 1815.5,1582.3 1816.2,1581.6 1816.9,1582.2 1817.5,1581.8 1818.9,1582.6 1821.6,1581.7 1822.3,1582.1 1823.6,1582.5 1825.0,1582.1 1825.6,1582.7 1826.3,1581.8 1827.0,1581.9 1827.7,1581.6 1828.3,1582.4 1829.0,1582.2 1829.7,1582.2 1830.4,1582.5 1831.7,1582.5 1832.4,1582.1 1833.7,1581.9 1835.1,1582.6 1835.8,1582.1 1837.8,1581.9 1838.5,1582.4 1839.2,1582.1 1839.8,1582.5 1841.2,1582.1 1842.5,1582.2 1843.2,1582.6 1844.6,1582.2 1845.2,1582.6 1845.9,1582.5 1846.6,1581.7 1847.9,1582.5 1848.6,1582.6 1849.3,1582.0 1850.0,1583.0 1850.6,1582.4 1851.3,1582.2 1852.0,1582.5 1852.7,1582.2 1853.3,1582.6 1854.0,1582.4 1856.7,1582.3 1857.4,1582.0 1858.1,1582.3 1860.1,1582.2 1861.4,1582.5 1862.8,1581.9 1863.5,1582.1 1864.1,1582.0 1864.8,1581.2 1866.2,1581.9 1866.8,1582.0 1867.5,1581.4 1868.2,1581.9 1868.9,1581.4 1869.5,1581.5 1870.2,1581.3 1870.9,1581.7 1871.6,1581.3 1872.2,1581.9 1873.6,1581.0 1874.3,1581.1 1874.9,1581.6 1875.6,1580.9 1877.6,1580.8 1879.0,1580.2 1880.3,1578.7 1881.0,1577.3 1883.0,1569.3 1883.7,1571.2 1884.4,1575.4 1885.7,1578.7 1886.4,1579.4 1889.1,1579.9 1889.8,1579.8 1890.5,1580.5 1891.2,1579.8 1893.9,1580.2 1894.5,1579.7 1895.9,1580.3 1896.6,1579.9 1897.9,1579.9 1898.6,1579.5 1899.3,1579.9 1899.9,1579.8 1900.6,1579.3 1901.3,1580.2 1902.0,1579.8 1904.0,1579.3 1904.7,1580.0 1905.3,1579.6 1908.0,1580.0 1909.4,1579.2 1910.1,1579.5 1910.7,1578.9 1911.4,1578.9 1912.8,1578.2 1915.5,1569.4 1917.5,1576.3 1919.5,1579.1 1920.2,1579.5 1920.9,1579.2 1921.5,1579.9 1922.9,1579.4 1923.6,1580.0 1924.2,1579.6 1925.6,1579.7 1926.3,1580.1 1928.3,1579.6 1929.6,1580.0 1930.3,1580.5 1931.0,1580.1 1931.7,1580.4 1935.7,1579.7 1936.4,1579.0 1937.1,1578.8 1938.4,1574.7 1939.1,1573.6 1939.8,1574.9 1940.5,1577.2 1942.5,1580.6 1943.2,1580.5 1945.2,1580.9 1945.9,1580.6 1946.5,1580.9 1947.2,1581.6 1947.9,1581.5 1948.6,1582.0 1949.2,1581.1 1949.9,1581.6 1950.6,1581.6 1951.3,1582.1 1952.6,1581.7 1954.6,1582.1 1955.3,1581.4 1956.0,1582.1 1956.7,1582.4 1958.7,1582.2 1960.0,1582.5 1961.4,1582.2 1962.1,1582.7 1962.7,1581.9 1963.4,1582.0 1964.1,1583.0 1965.4,1582.3 1966.8,1582.2 1967.5,1583.2 1969.5,1582.7 1970.2,1583.1 1970.8,1582.8 1972.2,1582.8 1972.9,1583.3 1973.5,1582.9 1974.9,1583.1 1975.6,1582.6 1976.2,1583.1 1976.9,1582.6 1977.6,1583.1 1978.3,1582.5 1978.9,1582.5 1979.6,1583.2 1981.0,1582.9 1981.6,1583.2 1982.3,1582.7 1983.0,1582.8 1983.7,1583.2 1985.0,1582.7 1986.4,1583.1 1987.0,1582.5 1987.7,1583.2 1989.1,1582.6 1989.7,1582.7 1990.4,1583.4 1991.1,1583.0 1993.1,1582.7 1995.2,1582.8 1996.5,1582.5 1997.2,1583.3 1997.9,1582.3 1998.5,1583.0 1999.2,1582.6 1999.9,1583.2 2000.6,1582.9 2001.2,1583.1 2001.9,1582.5 2003.9,1582.8 2004.6,1582.7 2005.3,1583.0 2006.6,1582.9 2007.3,1582.4 2008.7,1582.8 2009.3,1582.3 2010.7,1581.9 2011.4,1582.3 2012.7,1581.4 2013.4,1581.9 2014.7,1581.5 2015.4,1581.7 2016.1,1581.5 2017.4,1581.5 2018.1,1581.0 2018.8,1581.2 2019.5,1581.1 2022.8,1578.2 2023.5,1578.5 2024.2,1577.8 2024.9,1577.8 2026.2,1576.3 2026.9,1576.1 2028.9,1575.0 2030.3,1573.2 2030.9,1573.5 2031.6,1572.3 2033.0,1571.4 2033.6,1570.1 2035.7,1567.7 2036.3,1566.3 2037.0,1565.8 2037.7,1564.4 2039.0,1563.2 2039.7,1562.2 2040.4,1560.3 2041.1,1556.8 2041.8,1550.4 2042.4,1537.4 2043.8,1464.5 2045.1,1536.2 2045.8,1549.4 2046.5,1555.1 2047.2,1558.5 2048.5,1560.7 2049.2,1560.0 2049.9,1560.3 2052.6,1558.0 2054.6,1554.0 2055.9,1549.5 2057.3,1542.3 2058.6,1528.0 2059.3,1513.5 2060.0,1488.0 2061.8,1334.8 2063.4,1464.4 2064.0,1497.5 2064.7,1514.8 2065.4,1525.0 2066.7,1533.4 2067.4,1535.3 2072.1,1542.3 2072.8,1543.6 2074.8,1545.4 2076.9,1548.4 2077.5,1548.1 2078.2,1549.1 2078.9,1548.9 2079.6,1549.0 2080.2,1548.7 2080.9,1549.7 2081.6,1550.1 2083.6,1550.4 2085.6,1552.0 2086.3,1551.6 2087.0,1552.0 2087.7,1551.7 2088.3,1552.6 2089.0,1552.4 2090.4,1553.1 2091.0,1552.7 2092.4,1553.6 2093.1,1553.5 2093.8,1554.1 2095.1,1554.0 2095.8,1553.1 2096.5,1553.4 2097.8,1553.0 2099.8,1553.2 2100.5,1552.6 2101.2,1552.5 2101.9,1551.8 2102.5,1550.5 2103.2,1550.5 2103.9,1549.1 2105.9,1547.4 2106.6,1547.1 2107.3,1547.8 2108.6,1547.9 2109.3,1547.1 2110.0,1547.5 2110.6,1547.3 2111.3,1546.2 2112.7,1546.1 2113.3,1545.0 2114.0,1544.6 2114.7,1543.1 2115.4,1543.4 2116.0,1542.3 2116.7,1541.7 2120.1,1537.4 2122.8,1533.5 2123.5,1533.4 2124.8,1535.0 2125.5,1535.2 2126.2,1536.6 2126.8,1536.7 2127.5,1535.3 2128.2,1534.9 2129.5,1532.8 2130.9,1531.8 2131.6,1532.0 2133.6,1534.2 2134.3,1534.5 2134.9,1535.4 2136.3,1536.3 2137.6,1536.9 2138.3,1536.7 2140.3,1534.2 2143.1,1529.9 2143.7,1529.2 2144.4,1528.9 2145.1,1526.9 2147.8,1523.0 2148.5,1521.5 2149.1,1520.9 2149.8,1519.3 2153.2,1513.7 2153.9,1512.0 2155.2,1509.7 2156.6,1506.7 2157.2,1504.5 2159.3,1500.2 2162.0,1487.7 2164.7,1471.8 2166.0,1453.3 2168.0,1414.9 2170.1,1356.3 2171.4,1272.4 2172.1,1190.9 2172.8,1059.3 2174.3,712.1 2174.8,776.9 2176.1,1126.6 2176.8,1228.8 2177.5,1291.0 2178.8,1354.4 2180.9,1398.0 2182.2,1416.7 2184.2,1434.9 2185.6,1440.0 2186.9,1444.0 2187.6,1445.5 2188.3,1446.0 2189.0,1445.4 2189.6,1444.1 2190.3,1441.8 2191.7,1429.5 2192.3,1425.4 2194.4,1441.1 2195.1,1443.8 2195.7,1444.8 2196.4,1444.7 2197.1,1443.3 2198.4,1427.4 2199.8,1406.7 2201.8,1342.1 2203.2,1279.0 2204.5,1186.6 2205.2,1110.5 2206.5,822.0 2207.9,272.6 2208.4,172.4 2209.2,389.9 2210.6,865.5 2211.3,990.9 2211.9,1066.1 2212.6,1112.0 2213.3,1140.7 2214.6,1180.0 2216.0,1233.5 2218.0,1297.4 2221.4,1379.5 2222.1,1393.8 2222.7,1402.0 2227.5,1440.9 2231.5,1466.2 2232.2,1467.5 2233.5,1468.9 2234.2,1469.9 2237.6,1479.7 2238.3,1482.3 2241.0,1487.9 2241.6,1488.5 2243.0,1492.1" fill="none" stroke="#1f77b4" stroke-width="3.0" stroke-linejoin="round"/>
<g fill="#1f77b4"><circle cx="263.2" cy="1583.2" r="11.3"/><circle cx="331.2" cy="1582.7" r="11.3"/><circle cx="399.5" cy="1582.7" r="11.3"/><circle cx="467.4" cy="1582.5" r="11.3"/><circle cx="534.5" cy="1582.6" r="11.3"/><circle cx="602.0" cy="1582.2" r="11.3"/><circle cx="668.4" cy="1577.4" r="11.3"/><circle cx="734.8" cy="1582.3" r="11.3"/><circle cx="800.3" cy="1581.7" r="11.3"/><circle cx="865.5" cy="1581.7" r="11.3"/><circle cx="930.7" cy="1581.2" r="11.3"/><circle cx="995.1" cy="1581.1" r="11.3"/><circle cx="1059.5" cy="1577.4" r="11.3"/><circle cx="1123.1" cy="1571.5" r="11.3"/><circle cx="1186.0" cy="1574.4" r="11.3"/><circle cx="1248.4" cy="1574.6" r="11.3"/><circle cx="1310.9" cy="1578.2" r="11.3"/><circle cx="1372.9" cy="1580.5" r="11.3"/><circle cx="1433.4" cy="1577.0" r="11.3"/><circle cx="1493.9" cy="1572.6" r="11.3"/><circle cx="1554.0" cy="1544.2" r="11.3"/><circle cx="1613.7" cy="1579.5" r="11.3"/><circle cx="1672.3" cy="1579.3" r="11.3"/><circle cx="1730.0" cy="1579.7" r="11.3"/><circle cx="1787.8" cy="1582.3" r="11.3"/><circle cx="1845.2" cy="1582.6" r="11.3"/><circle cx="1902.2" cy="1579.7" r="11.3"/><circle cx="1957.1" cy="1582.3" r="11.3"/><circle cx="2009.1" cy="1582.5" r="11.3"/><circle cx="2043.1" cy="1464.9" r="11.3"/><circle cx="2077.4" cy="1548.1" r="11.3"/><circle cx="2110.3" cy="1547.4" r="11.3"/><circle cx="2174.1" cy="712.0" r="11.3"/></g>
<polyline points="217.0,1583.3 217.7,1582.9 221.7,1583.4 222.4,1583.0 223.1,1583.8 224.4,1582.8 225.1,1583.3 225.8,1583.4 226.5,1582.6 228.5,1583.2 231.2,1583.2 231.9,1582.9 233.2,1583.5 234.6,1583.0 235.9,1583.7 236.6,1582.6 237.9,1583.1 238.6,1583.1 240.0,1582.6 240.6,1583.1 241.3,1582.9 242.0,1583.1 242.7,1582.9 244.0,1583.4 244.7,1582.9 246.0,1582.8 246.7,1583.1 247.4,1582.6 248.1,1582.9 248.7,1582.5 249.4,1583.0 250.1,1582.5 250.8,1582.9 252.1,1582.6 252.8,1583.3 253.5,1583.2 254.1,1582.4 254.8,1583.3 256.8,1582.5 257.5,1583.0 258.2,1582.8 258.9,1583.1 260.2,1582.6 264.9,1583.0 265.6,1582.6 266.3,1583.1 267.6,1582.2 268.3,1582.4 269.0,1582.2 269.7,1583.0 270.4,1582.7 272.4,1583.2 273.1,1583.1 273.7,1582.5 275.8,1582.5 276.4,1582.6 277.1,1583.0 279.1,1582.4 279.8,1582.8 281.2,1582.9 281.8,1582.3 283.9,1582.9 284.5,1582.6 285.2,1583.2 285.9,1582.8 287.2,1582.9 288.6,1582.6 289.3,1581.9 289.9,1582.7 290.6,1582.6 292.0,1583.2 292.6,1582.4 293.3,1582.2 294.0,1583.0 295.3,1582.4 296.0,1582.7 296.7,1583.3 297.4,1582.4 298.0,1582.7 298.7,1582.5 299.4,1582.9 300.1,1582.4 300.7,1582.4 301.4,1582.8 302.1,1582.5 302.8,1582.8 304.1,1582.8 305.5,1582.7 306.1,1582.2 307.5,1582.6 308.2,1581.9 310.2,1581.9 312.2,1580.9 314.2,1578.1 314.9,1577.5 315.6,1578.6 316.3,1579.0 316.9,1580.2 319.7,1582.0 320.3,1581.8 321.0,1582.2 322.4,1582.0 323.7,1582.8 325.1,1582.3 327.1,1583.1 328.4,1582.9 329.1,1582.5 329.8,1582.7 330.5,1582.5 331.1,1582.7 331.8,1582.3 332.5,1582.7 333.2,1582.6 333.8,1582.8 335.2,1582.5 336.5,1582.4 337.2,1582.9 338.6,1582.3 339.2,1582.7 341.3,1582.9 342.6,1582.4 345.3,1583.1 346.0,1582.2 346.7,1582.9 348.7,1582.8 349.4,1582.9 350.7,1582.4 351.4,1583.0 352.1,1582.7 352.7,1582.8 353.4,1582.6 354.1,1583.0 354.8,1582.7 356.1,1583.3 358.1,1583.1 359.5,1582.5 360.2,1583.1 360.8,1582.7 362.9,1583.1 363.5,1582.7 364.2,1582.7 364.9,1582.9 366.2,1582.8 366.9,1583.2 368.9,1582.4 369.6,1583.2 371.0,1582.8 371.7,1583.0 375.0,1582.7 375.7,1583.2 376.4,1582.7 377.1,1583.4 377.7,1582.4 379.1,1583.0 379.8,1582.6 380.4,1582.9 381.8,1582.6 383.1,1582.8 383.8,1582.7 386.5,1583.3 387.2,1582.4 387.9,1582.6 388.5,1583.2 389.2,1582.7 389.9,1582.8 390.6,1583.4 392.6,1582.4 394.6,1582.7 395.3,1582.5 396.0,1583.1 396.6,1582.6 397.3,1582.6 398.0,1583.1 399.3,1582.4 400.0,1582.3 400.7,1582.4 401.4,1582.9 402.7,1582.9 403.4,1582.4 404.1,1582.9 405.4,1583.1 406.1,1582.6 408.1,1582.8 409.5,1582.2 410.1,1582.9 412.8,1582.0 414.2,1582.1 414.9,1581.8 417.6,1581.8 418.2,1581.2 419.6,1580.7 421.0,1579.4 422.3,1575.7 423.0,1572.2 425.2,1554.2 425.7,1556.7 427.0,1570.4 427.7,1574.3 429.1,1578.8 430.4,1580.6 432.4,1581.0 433.1,1581.9 433.8,1581.9 434.5,1582.3 435.1,1582.5 435.8,1582.2 437.2,1582.5 437.8,1582.2 438.5,1582.5 439.2,1582.2 439.9,1582.6 440.5,1582.3 441.2,1582.6 442.6,1582.5 443.2,1583.0 445.9,1582.6 447.3,1583.0 448.6,1582.7 449.3,1582.9 450.0,1582.4 452.0,1582.6 452.7,1583.0 453.4,1582.2 454.0,1582.9 455.4,1582.6 457.4,1583.0 459.4,1582.4 460.1,1582.9 460.8,1582.6 462.8,1582.9 463.5,1582.8 464.2,1583.2 464.8,1582.7 465.5,1582.7 466.2,1582.9 466.9,1582.6 467.5,1582.7 468.2,1583.0 468.9,1582.6 469.6,1582.9 470.2,1582.2 470.9,1583.0 472.3,1582.9 473.6,1582.5 475.0,1582.9 475.7,1582.3 478.4,1583.2 479.7,1582.3 480.4,1583.1 481.1,1583.1 481.7,1582.8 482.4,1583.4 483.1,1582.4 483.8,1583.2 485.8,1582.5 486.5,1582.7 487.1,1583.3 487.8,1583.2 488.5,1582.7 489.2,1583.3 489.8,1582.9 490.5,1583.0 491.9,1582.5 492.5,1583.4 493.2,1582.7 493.9,1582.6 494.6,1583.0 495.9,1583.1 498.6,1582.4 500.0,1583.0 500.6,1582.6 501.3,1583.5 503.3,1582.2 504.0,1583.0 504.7,1582.8 505.4,1583.1 506.0,1582.8 507.4,1583.0 508.1,1582.7 508.7,1582.8 509.4,1582.7 510.8,1583.1 512.1,1582.6 512.8,1583.0 513.5,1582.5 514.8,1582.9 516.8,1583.0 517.5,1582.6 518.2,1582.6 518.9,1582.9 520.2,1582.8 521.6,1582.4 522.3,1582.9 525.0,1582.4 526.3,1583.3 527.0,1582.8 527.7,1583.2 528.3,1582.3 529.0,1582.9 530.4,1582.7 531.7,1582.9 533.1,1582.5 533.7,1582.8 534.4,1582.3 535.8,1583.3 536.4,1582.5 537.1,1583.2 538.5,1582.2 539.8,1583.0 541.8,1582.3 542.5,1582.9 543.2,1582.4 545.2,1582.7 545.9,1582.2 546.6,1583.0 547.2,1582.9 547.9,1582.4 548.6,1582.4 549.3,1583.0 550.6,1582.9 551.3,1582.5 552.0,1582.8 552.6,1582.2 554.0,1582.5 556.0,1582.3 556.7,1582.4 558.0,1582.2 558.7,1582.4 559.4,1582.1 560.7,1582.4 562.1,1581.6 562.8,1581.6 563.4,1582.2 564.1,1581.6 564.8,1581.6 566.1,1580.9 567.5,1579.9 568.2,1578.8 569.5,1575.2 570.9,1566.9 571.5,1564.4 572.2,1566.3 572.9,1571.1 574.3,1576.4 575.6,1578.3 577.0,1578.4 577.6,1577.9 579.0,1575.6 579.7,1572.2 581.0,1561.9 581.7,1558.9 582.4,1561.6 583.0,1567.9 584.4,1576.4 585.7,1579.1 587.8,1580.8 588.4,1581.2 589.1,1582.1 589.8,1581.4 590.5,1581.4 591.8,1582.0 593.2,1581.8 593.8,1582.0 594.5,1581.7 595.2,1582.4 595.9,1582.6 597.2,1582.0 597.9,1582.5 598.6,1582.4 599.9,1582.7 600.6,1582.6 601.3,1582.9 601.9,1582.4 603.3,1582.2 604.0,1582.7 604.6,1582.6 605.3,1582.9 606.0,1582.9 607.3,1581.8 608.0,1582.8 609.4,1582.3 610.0,1582.7 610.7,1582.4 612.1,1582.6 612.7,1582.3 614.1,1582.8 614.8,1582.3 616.8,1582.7 617.5,1582.4 618.1,1582.7 619.5,1582.3 620.2,1582.6 620.8,1582.3 621.5,1582.9 622.2,1582.4 622.9,1582.4 623.6,1582.1 624.2,1582.5 624.9,1582.3 626.3,1582.8 627.6,1582.7 628.3,1582.3 629.0,1582.7 630.3,1582.3 632.3,1582.2 633.0,1582.8 635.0,1582.3 636.4,1582.7 637.1,1582.6 637.7,1582.9 638.4,1582.3 639.1,1583.0 640.4,1582.3 641.1,1582.3 641.8,1582.9 642.5,1582.5 643.8,1582.6 644.5,1582.1 645.8,1582.9 646.5,1582.8 647.2,1582.3 649.2,1582.9 651.2,1582.3 651.9,1582.6 653.3,1582.1 653.9,1582.8 655.3,1582.0 656.0,1582.5 657.3,1582.1 658.0,1582.5 658.7,1582.4 659.3,1582.7 660.0,1582.1 661.4,1582.2 662.0,1582.7 662.7,1581.7 664.1,1582.0 664.7,1581.4 665.4,1582.3 666.1,1581.6 666.8,1582.0 667.4,1580.8 667.8,1582.2 670.1,1581.5 672.2,1582.0 672.8,1581.4 673.5,1582.2 674.9,1581.7 675.6,1582.5 676.2,1582.4 676.9,1582.0 678.3,1582.7 679.6,1581.9 680.3,1582.5 681.0,1582.2 682.3,1582.6 683.0,1582.0 684.3,1582.2 685.0,1582.5 687.0,1582.4 688.4,1582.6 689.1,1582.2 689.7,1582.8 691.1,1582.6 692.4,1582.8 693.8,1582.3 695.1,1582.7 695.8,1582.1 696.5,1582.9 697.2,1582.3 698.5,1582.9 699.9,1582.6 700.5,1582.2 703.2,1583.0 703.9,1582.6 704.6,1582.9 705.3,1582.6 707.3,1582.3 709.3,1582.6 710.0,1582.3 711.3,1582.2 712.0,1582.2 712.7,1582.7 713.4,1582.9 714.0,1582.4 714.7,1582.3 715.4,1582.7 716.1,1582.2 716.7,1582.5 718.1,1582.5 718.8,1582.9 719.4,1583.0 720.1,1582.6 720.8,1582.9 722.1,1582.6 722.8,1583.2 724.2,1582.4 724.9,1583.1 725.5,1582.6 726.9,1583.1 727.6,1582.3 729.6,1582.7 730.3,1582.2 731.6,1582.6 732.3,1582.3 733.6,1582.6 734.3,1582.4 735.0,1582.7 735.7,1582.4 737.7,1582.7 739.0,1582.3 740.4,1582.8 741.1,1582.4 741.7,1582.8 742.4,1582.8 743.8,1582.3 745.1,1582.4 745.8,1582.2 747.1,1582.6 747.8,1582.3 748.5,1582.6 749.8,1582.4 751.2,1582.9 751.9,1582.5 753.2,1582.5 755.2,1582.9 755.9,1582.3 757.9,1582.5 758.6,1582.0 760.0,1582.5 762.0,1582.3 764.7,1582.6 766.0,1582.2 766.7,1582.7 768.1,1582.7 768.7,1582.2 769.4,1582.5 770.1,1582.2 770.8,1582.6 771.4,1582.2 772.1,1582.6 773.5,1582.3 774.8,1582.6 775.5,1582.2 776.2,1582.4 777.5,1581.8 778.2,1582.6 778.9,1582.5 779.6,1582.8 780.2,1582.7 780.9,1582.3 782.9,1582.3 784.3,1582.8 785.0,1582.1 785.6,1582.3 786.3,1582.1 787.0,1582.4 787.7,1582.2 788.3,1582.5 791.0,1582.0 791.7,1582.2 792.4,1583.1 793.1,1582.4 794.4,1582.2 795.8,1582.5 797.8,1582.5 798.5,1582.0 799.8,1582.3 801.2,1581.8 801.8,1582.4 803.9,1582.6 807.2,1582.1 807.9,1582.5 808.6,1582.1 809.3,1582.6 810.6,1582.0 812.0,1582.0 812.6,1581.8 814.0,1582.4 815.3,1582.5 816.0,1582.2 818.7,1582.7 819.4,1581.7 820.7,1582.8 821.4,1582.2 822.8,1582.8 823.4,1582.3 825.5,1581.9 826.2,1582.4 827.5,1582.0 829.5,1581.9 830.2,1581.6 830.9,1582.1 831.6,1581.9 832.2,1580.8 832.9,1580.5 834.3,1578.4 834.9,1577.8 837.0,1580.7 838.3,1581.4 840.3,1581.4 841.0,1581.9 842.4,1581.4 843.0,1581.4 843.7,1581.9 846.4,1578.0 846.7,1577.9 847.8,1578.8 849.1,1580.9 851.8,1582.2 852.5,1582.2 853.2,1581.8 853.8,1582.1 854.5,1581.8 856.5,1582.5 857.2,1582.2 857.9,1581.6 858.6,1582.4 859.9,1582.3 860.6,1581.9 861.9,1582.5 864.0,1582.2 865.3,1581.6 868.0,1582.4 869.4,1581.9 870.7,1582.3 871.4,1582.1 873.4,1582.3 874.8,1582.2 875.4,1581.9 876.8,1582.2 877.5,1581.9 878.8,1581.8 879.5,1582.3 880.2,1581.7 881.5,1582.2 882.2,1581.9 882.9,1582.1 884.2,1581.5 884.9,1580.7 885.6,1580.6 887.3,1577.3 889.0,1580.1 889.6,1580.6 890.3,1581.6 891.0,1581.6 891.7,1582.1 893.0,1581.8 895.7,1582.0 898.4,1581.6 899.8,1579.7 900.8,1578.9 901.8,1580.4 903.8,1581.7 904.5,1581.5 905.2,1581.7 905.8,1581.5 907.2,1581.6 908.5,1580.0 909.2,1579.9 909.9,1580.1 910.6,1581.1 911.2,1581.4 911.9,1581.3 913.3,1582.2 913.9,1581.9 915.3,1582.2 916.0,1581.9 916.6,1582.8 917.3,1582.0 918.0,1581.7 919.3,1582.6 920.0,1581.8 920.7,1581.5 922.0,1582.4 924.7,1581.9 925.4,1582.0 926.1,1582.7 928.1,1581.6 928.8,1582.2 929.5,1582.4 930.8,1581.9 931.5,1582.4 932.2,1581.7 932.9,1582.0 936.2,1581.3 936.9,1581.8 938.3,1581.2 939.6,1581.4 941.6,1580.9 942.3,1581.3 943.0,1580.1 943.7,1579.2 944.3,1578.8 945.7,1576.7 946.4,1574.9 947.7,1566.2 949.1,1544.8 949.7,1537.6 950.4,1544.8 951.8,1565.9 952.4,1571.5 953.1,1574.5 954.5,1578.6 955.1,1579.4 955.8,1579.6 956.5,1580.3 957.2,1580.3 957.8,1581.0 962.6,1581.7 963.9,1581.5 965.9,1581.9 968.0,1581.8 968.6,1581.2 970.0,1581.8 972.7,1581.5 973.4,1582.1 974.0,1581.4 974.7,1582.1 975.4,1581.9 977.4,1582.4 978.1,1581.4 978.8,1581.6 979.5,1582.2 980.1,1582.2 980.8,1581.6 981.5,1582.2 982.8,1581.4 983.5,1581.7 984.2,1581.6 985.5,1582.3 986.2,1582.1 986.9,1582.4 987.6,1581.8 988.2,1582.2 988.9,1581.9 990.3,1582.1 990.9,1581.8 992.3,1582.1 993.0,1581.7 994.3,1582.2 995.0,1581.6 995.7,1582.2 996.3,1581.8 997.0,1581.7 998.4,1581.9 999.7,1581.8 1000.4,1581.9 1001.1,1581.4 1001.7,1581.8 1002.4,1581.8 1003.1,1581.2 1004.4,1581.9 1005.1,1581.5 1006.5,1581.4 1007.1,1580.9 1007.8,1581.5 1008.5,1581.0 1009.8,1581.0 1010.5,1581.3 1011.2,1581.3 1013.9,1580.7 1014.6,1581.6 1015.2,1580.8 1017.3,1581.3 1017.9,1580.9 1018.6,1581.4 1019.3,1580.6 1020.0,1581.1 1022.0,1580.6 1022.7,1581.0 1023.3,1580.5 1024.0,1580.5 1024.7,1580.2 1026.7,1580.7 1028.1,1579.5 1028.8,1579.7 1029.4,1579.3 1030.8,1576.9 1031.5,1576.3 1031.8,1575.2 1034.2,1578.9 1034.8,1578.8 1035.5,1579.6 1036.2,1579.4 1037.5,1580.0 1038.9,1579.5 1040.2,1579.6 1042.3,1579.2 1043.6,1577.9 1045.5,1574.2 1046.3,1575.5 1047.0,1577.1 1048.3,1578.6 1049.0,1578.5 1049.7,1578.8 1050.4,1578.4 1051.0,1579.0 1053.7,1578.7 1054.4,1579.1 1055.1,1578.4 1056.4,1579.3 1057.1,1579.1 1058.5,1579.3 1059.1,1578.8 1059.8,1579.2 1060.5,1578.4 1061.2,1578.8 1062.5,1577.4 1063.2,1577.6 1063.9,1576.9 1064.5,1575.9 1065.2,1575.4 1066.6,1572.7 1067.9,1566.7 1068.6,1561.3 1069.3,1552.5 1069.9,1536.7 1071.3,1481.2 1071.6,1475.8 1073.3,1535.6 1074.0,1550.7 1074.7,1559.7 1075.3,1564.9 1076.0,1567.3 1076.7,1568.7 1078.0,1570.4 1078.7,1569.6 1079.4,1569.4 1080.8,1566.3 1082.1,1559.4 1082.8,1553.8 1083.5,1544.7 1084.1,1531.1 1084.8,1508.2 1086.2,1423.6 1086.8,1395.4 1087.5,1421.8 1088.9,1503.4 1089.5,1522.8 1090.2,1532.0 1090.9,1532.0 1091.6,1520.7 1092.7,1483.2 1094.3,1539.1 1094.9,1551.7 1095.6,1557.0 1096.3,1559.1 1097.0,1558.4 1097.6,1554.7 1098.3,1547.1 1099.0,1531.3 1100.5,1475.9 1102.4,1540.9 1103.0,1552.7 1103.7,1558.2 1104.4,1560.7 1105.1,1560.0 1105.7,1556.9 1106.4,1549.3 1107.1,1534.9 1108.4,1475.3 1108.8,1469.1 1110.5,1537.5 1111.1,1552.7 1111.8,1561.9 1113.2,1570.4 1114.5,1574.6 1116.5,1576.5 1118.6,1577.2 1119.2,1576.6 1119.9,1576.7 1121.3,1575.6 1121.9,1576.2 1123.0,1575.5 1124.0,1575.7 1125.3,1577.0 1126.0,1577.0 1126.7,1577.5 1127.3,1578.5 1128.0,1578.4 1129.4,1579.6 1130.1,1579.4 1131.4,1579.9 1132.1,1579.1 1132.8,1579.9 1134.8,1579.2 1135.5,1579.9 1136.1,1579.4 1136.8,1580.1 1137.5,1579.9 1138.8,1580.2 1140.2,1579.6 1140.9,1579.6 1142.2,1580.5 1143.6,1580.2 1144.9,1580.3 1146.3,1580.7 1146.9,1580.4 1147.6,1580.5 1148.3,1580.2 1149.0,1580.8 1149.6,1580.4 1151.7,1580.2 1152.3,1581.0 1153.0,1581.0 1153.7,1580.7 1155.0,1581.4 1155.7,1580.4 1156.4,1580.7 1157.1,1580.6 1157.7,1580.8 1158.4,1580.5 1159.8,1580.8 1160.4,1580.3 1161.1,1581.1 1161.8,1580.6 1162.5,1581.0 1163.1,1580.1 1163.8,1580.3 1164.5,1580.2 1165.2,1579.7 1166.5,1577.2 1168.5,1580.4 1169.2,1579.5 1169.9,1580.6 1170.6,1581.0 1172.6,1580.4 1173.3,1580.9 1173.9,1581.0 1174.6,1580.6 1175.3,1581.0 1177.3,1580.5 1178.0,1580.9 1180.0,1580.4 1180.7,1580.8 1182.1,1580.2 1182.7,1580.3 1183.4,1579.5 1184.1,1579.8 1184.8,1579.6 1185.4,1579.8 1187.5,1579.6 1188.1,1580.1 1188.8,1579.7 1189.5,1580.4 1190.2,1580.0 1191.5,1580.6 1192.2,1580.1 1194.2,1580.9 1194.9,1580.5 1195.6,1581.0 1196.2,1580.7 1196.9,1581.1 1197.6,1580.8 1198.3,1581.1 1199.6,1580.4 1200.3,1580.3 1201.0,1580.8 1201.6,1580.7 1202.3,1580.9 1203.7,1579.4 1204.3,1579.2 1205.5,1577.6 1207.0,1579.4 1207.7,1579.6 1208.4,1580.3 1209.1,1580.4 1209.7,1580.2 1210.4,1580.8 1211.1,1580.7 1212.4,1581.1 1213.1,1580.6 1213.8,1581.3 1214.5,1581.0 1215.1,1581.3 1216.5,1581.3 1218.5,1580.6 1219.2,1581.4 1219.9,1580.8 1221.2,1581.0 1223.2,1580.5 1223.9,1580.2 1224.6,1579.2 1225.3,1579.1 1226.6,1576.0 1227.5,1573.2 1229.3,1578.7 1230.7,1580.2 1232.0,1580.8 1235.4,1580.3 1236.1,1580.9 1236.8,1580.9 1237.4,1580.6 1238.1,1581.0 1238.8,1580.4 1239.5,1580.4 1240.1,1580.9 1241.5,1580.2 1242.8,1580.5 1244.2,1580.1 1244.9,1580.3 1245.5,1580.0 1247.6,1580.1 1248.4,1579.7 1248.9,1580.0 1249.6,1579.8 1250.3,1580.4 1250.9,1580.0 1253.0,1580.0 1256.3,1580.8 1258.4,1580.4 1259.7,1580.6 1260.4,1580.5 1261.1,1580.7 1263.1,1580.6 1264.4,1580.9 1265.1,1580.7 1265.8,1580.8 1266.5,1580.1 1267.1,1580.2 1267.8,1580.7 1269.2,1580.4 1269.8,1580.7 1270.5,1580.0 1271.9,1580.2 1272.5,1579.7 1273.9,1579.6 1274.6,1579.1 1275.2,1579.4 1277.3,1577.3 1279.3,1570.5 1280.0,1564.6 1282.0,1530.3 1284.0,1564.7 1285.4,1573.4 1286.7,1577.1 1288.8,1579.2 1290.1,1580.2 1292.1,1579.9 1292.8,1580.5 1293.5,1580.6 1294.2,1580.1 1294.8,1580.1 1295.5,1580.7 1296.2,1580.6 1296.9,1581.0 1298.2,1580.2 1298.9,1580.3 1299.6,1580.8 1300.2,1580.5 1300.9,1580.7 1301.6,1580.4 1302.3,1580.6 1303.6,1580.1 1304.3,1580.3 1306.3,1580.0 1307.0,1580.2 1308.3,1580.0 1309.0,1579.5 1311.7,1579.6 1313.1,1578.7 1314.4,1578.5 1317.8,1576.7 1318.5,1576.1 1319.1,1574.3 1319.8,1574.5 1321.8,1571.4 1323.2,1567.2 1323.9,1564.7 1324.5,1560.8 1325.9,1549.8 1326.6,1540.9 1327.2,1526.9 1327.9,1505.0 1328.6,1468.6 1329.3,1401.8 1329.9,1269.5 1331.3,827.0 1332.7,1269.1 1333.3,1401.4 1334.0,1468.5 1334.7,1505.2 1335.4,1526.7 1336.7,1549.7 1337.4,1556.7 1338.7,1564.9 1340.1,1569.4 1342.1,1573.6 1342.8,1574.0 1343.5,1575.1 1344.1,1575.3 1345.5,1576.7 1346.2,1576.6 1348.2,1578.4 1348.9,1578.0 1350.2,1578.6 1350.9,1579.1 1352.2,1579.6 1352.9,1579.2 1353.6,1579.7 1354.3,1579.6 1354.9,1580.4 1355.6,1579.7 1357.0,1580.7 1359.0,1579.9 1359.7,1581.0 1361.0,1580.4 1361.7,1580.9 1363.7,1580.6 1364.4,1581.0 1365.1,1580.7 1365.7,1580.9 1367.8,1580.5 1368.4,1580.7 1369.1,1580.4 1369.8,1581.2 1371.1,1580.7 1371.8,1580.8 1372.5,1581.6 1373.2,1580.8 1373.8,1581.0 1374.5,1580.3 1375.2,1581.0 1375.9,1580.8 1376.5,1581.2 1377.2,1580.8 1377.9,1581.7 1379.2,1581.1 1379.9,1581.4 1380.6,1580.8 1381.3,1581.0 1381.9,1580.6 1382.6,1581.4 1384.0,1580.9 1384.7,1581.2 1385.3,1580.8 1386.7,1581.2 1388.0,1580.9 1390.1,1581.2 1392.1,1580.5 1392.8,1581.4 1394.1,1581.1 1394.8,1580.7 1395.5,1581.3 1396.1,1580.5 1396.8,1580.5 1397.5,1581.7 1398.2,1580.9 1398.8,1580.9 1400.2,1581.6 1400.9,1581.1 1401.5,1581.3 1402.2,1580.9 1403.6,1581.6 1404.2,1580.9 1405.6,1581.0 1406.3,1581.4 1406.9,1581.3 1409.0,1582.1 1409.6,1581.5 1410.3,1582.1 1411.0,1581.5 1411.7,1582.0 1412.3,1581.7 1414.4,1582.1 1415.0,1582.0 1415.7,1581.5 1417.1,1581.9 1417.7,1581.7 1418.4,1582.2 1419.1,1582.3 1419.8,1582.1 1420.4,1581.6 1421.1,1582.0 1423.1,1581.9 1423.8,1581.5 1425.2,1581.9 1425.8,1581.8 1426.5,1581.5 1427.2,1581.6 1428.5,1580.8 1431.9,1580.3 1432.6,1579.6 1433.4,1580.0 1434.0,1579.8 1435.3,1580.0 1436.7,1580.9 1437.3,1580.2 1438.0,1581.3 1438.7,1581.1 1439.4,1581.7 1440.0,1581.4 1440.7,1582.0 1441.4,1581.4 1442.7,1582.4 1443.4,1581.6 1444.1,1582.6 1445.4,1581.9 1446.1,1582.3 1446.8,1581.9 1448.1,1582.4 1448.8,1582.0 1450.2,1582.4 1450.8,1582.1 1452.2,1582.6 1452.9,1582.4 1453.5,1581.6 1454.2,1581.6 1454.9,1582.5 1455.6,1581.9 1456.2,1581.7 1456.9,1581.9 1457.6,1581.5 1458.3,1581.7 1458.9,1581.1 1461.0,1578.0 1461.3,1577.8 1463.0,1580.3 1463.7,1580.9 1465.0,1581.4 1465.7,1580.7 1466.4,1581.6 1467.7,1580.6 1469.7,1577.7 1471.1,1579.6 1472.4,1580.3 1473.1,1580.3 1473.8,1580.8 1476.5,1577.6 1477.8,1579.4 1479.2,1580.1 1479.9,1580.9 1481.2,1580.7 1481.9,1581.3 1482.6,1580.5 1483.2,1580.8 1483.9,1580.5 1484.6,1580.8 1485.3,1580.9 1486.6,1580.3 1487.3,1580.5 1488.0,1579.8 1489.3,1579.9 1490.0,1579.3 1491.4,1579.0 1493.4,1579.1 1494.1,1578.7 1495.4,1578.8 1496.1,1579.3 1497.4,1579.3 1498.1,1580.0 1499.5,1579.4 1500.1,1580.2 1502.2,1580.6 1502.8,1580.3 1504.9,1580.9 1505.5,1580.6 1507.6,1580.9 1508.2,1580.4 1508.9,1580.8 1510.3,1580.4 1510.9,1580.8 1511.6,1580.5 1512.3,1581.0 1513.0,1580.5 1513.6,1581.2 1514.3,1580.5 1515.7,1580.6 1516.3,1580.1 1518.4,1579.8 1520.4,1580.0 1521.1,1579.4 1522.4,1579.9 1524.4,1579.4 1525.1,1578.7 1525.8,1578.7 1526.5,1578.1 1527.1,1578.2 1527.8,1577.7 1528.5,1576.5 1529.2,1576.3 1530.5,1572.9 1531.9,1564.5 1532.9,1560.7 1533.9,1564.4 1535.3,1571.9 1537.3,1576.0 1538.0,1576.3 1538.6,1576.0 1539.3,1576.8 1540.7,1576.5 1541.3,1576.8 1542.0,1576.7 1542.7,1576.3 1544.7,1573.7 1546.7,1569.9 1548.1,1567.9 1548.8,1565.9 1549.4,1565.0 1550.8,1562.0 1552.1,1558.0 1554.2,1548.9 1555.5,1538.8 1556.9,1513.3 1557.5,1485.2 1558.9,1375.9 1559.4,1351.8 1561.6,1500.6 1562.3,1521.2 1562.9,1533.1 1564.3,1544.5 1565.6,1546.8 1566.3,1545.7 1567.0,1543.2 1567.7,1538.1 1568.3,1528.7 1569.0,1512.0 1569.7,1481.6 1571.2,1387.3 1571.7,1408.0 1573.1,1502.0 1573.7,1525.5 1574.4,1539.9 1575.1,1548.6 1575.8,1554.0 1577.1,1560.7 1579.8,1567.1 1583.2,1570.6 1585.2,1572.2 1587.3,1572.9 1588.6,1574.1 1589.3,1573.8 1590.0,1574.0 1590.6,1575.0 1592.0,1575.0 1593.3,1576.2 1594.0,1575.8 1594.7,1576.3 1596.0,1576.6 1596.7,1577.3 1597.4,1577.5 1598.7,1577.6 1599.4,1578.0 1600.1,1578.0 1600.8,1578.4 1601.4,1578.5 1602.1,1579.0 1603.5,1578.8 1604.1,1579.3 1605.5,1579.3 1607.5,1580.0 1608.2,1579.3 1608.9,1579.7 1609.5,1579.5 1610.2,1580.1 1610.9,1580.0 1612.2,1580.1 1612.9,1580.6 1613.6,1580.0 1614.3,1580.5 1614.9,1580.4 1615.6,1580.8 1616.3,1580.2 1617.0,1581.1 1617.6,1580.3 1618.3,1581.0 1619.7,1581.1 1620.3,1580.6 1621.0,1581.2 1622.4,1581.3 1623.0,1581.0 1623.7,1581.0 1624.4,1581.4 1625.7,1580.9 1627.8,1581.6 1628.4,1581.0 1629.8,1581.8 1630.5,1581.6 1631.1,1582.2 1631.8,1581.4 1632.5,1581.8 1633.8,1581.2 1634.5,1581.9 1635.2,1581.3 1636.6,1581.8 1637.2,1581.2 1638.6,1581.7 1639.3,1581.3 1640.6,1581.6 1642.0,1580.9 1642.6,1581.5 1643.3,1581.3 1644.0,1580.5 1644.7,1580.8 1645.3,1580.2 1646.7,1579.6 1648.7,1577.1 1650.1,1574.0 1651.4,1568.2 1652.1,1563.0 1652.8,1554.1 1653.4,1539.4 1655.5,1451.9 1657.5,1539.2 1658.2,1554.2 1658.8,1562.8 1659.5,1568.0 1660.9,1573.9 1661.5,1575.0 1662.2,1577.1 1663.6,1577.6 1664.2,1578.6 1666.3,1580.2 1666.9,1579.8 1669.0,1579.8 1669.6,1580.4 1670.3,1580.4 1671.0,1581.1 1671.7,1580.7 1673.7,1580.3 1675.7,1581.0 1677.7,1581.1 1678.4,1580.8 1679.8,1581.6 1680.4,1581.5 1681.1,1580.5 1682.5,1581.3 1683.8,1581.0 1685.2,1581.0 1685.8,1581.6 1687.9,1580.7 1688.6,1580.7 1689.2,1580.2 1689.9,1580.5 1691.3,1580.1 1691.9,1579.5 1692.6,1579.6 1693.3,1578.5 1694.0,1578.8 1696.0,1575.9 1696.7,1575.5 1698.0,1572.1 1700.0,1562.3 1701.4,1544.0 1702.1,1526.3 1702.7,1496.0 1704.1,1374.7 1704.6,1348.7 1706.1,1473.8 1706.8,1513.2 1707.5,1536.3 1708.8,1558.4 1710.2,1567.5 1711.5,1572.1 1712.9,1575.1 1715.6,1577.7 1716.2,1578.8 1716.9,1578.5 1720.3,1579.6 1721.6,1579.3 1722.3,1579.7 1723.0,1579.6 1723.7,1580.2 1725.0,1580.2 1725.7,1580.5 1727.0,1580.4 1727.7,1580.1 1728.4,1580.6 1729.1,1580.3 1729.7,1580.9 1731.1,1580.5 1731.8,1580.7 1732.4,1581.5 1733.1,1580.9 1733.8,1580.8 1734.5,1581.4 1737.2,1580.8 1737.9,1581.5 1738.5,1581.4 1739.2,1580.8 1740.6,1580.9 1741.2,1581.3 1741.9,1581.1 1742.6,1582.0 1743.3,1581.3 1744.6,1581.8 1745.3,1581.8 1746.0,1581.3 1746.6,1581.2 1747.3,1581.7 1748.0,1581.6 1748.7,1581.3 1749.3,1581.7 1751.4,1581.3 1752.7,1582.3 1753.4,1581.7 1754.1,1581.5 1756.1,1581.9 1756.8,1581.6 1758.8,1581.7 1759.5,1581.4 1761.5,1582.0 1763.5,1581.4 1764.9,1581.8 1765.5,1581.6 1766.9,1581.9 1767.6,1581.7 1768.2,1582.0 1769.6,1581.3 1770.9,1581.6 1772.3,1581.6 1773.0,1582.1 1774.3,1582.0 1776.3,1581.3 1777.7,1582.1 1778.4,1581.8 1781.1,1581.7 1781.7,1582.0 1783.1,1581.6 1784.4,1581.7 1785.1,1582.0 1785.8,1581.7 1787.1,1582.1 1789.9,1582.1 1790.5,1581.5 1793.2,1582.0 1793.9,1581.7 1795.9,1582.2 1796.6,1581.7 1798.6,1581.7 1799.3,1582.6 1800.0,1582.0 1800.7,1581.7 1801.3,1581.9 1802.0,1582.4 1802.7,1581.9 1803.4,1581.9 1804.7,1582.3 1805.4,1582.2 1806.1,1582.8 1806.7,1582.0 1807.4,1582.3 1809.4,1582.1 1810.1,1581.7 1810.8,1582.3 1811.5,1582.1 1812.1,1582.6 1812.8,1582.3 1813.5,1582.6 1814.2,1581.9 1815.5,1582.3 1816.2,1581.9 1816.9,1582.4 1817.5,1582.2 1818.9,1582.4 1820.9,1582.2 1822.3,1582.5 1822.9,1581.8 1824.3,1582.3 1825.0,1582.1 1825.6,1582.4 1826.3,1582.1 1827.0,1582.5 1827.7,1582.1 1829.0,1582.2 1829.7,1582.0 1830.4,1582.2 1831.0,1581.8 1832.4,1582.6 1833.1,1582.5 1833.7,1581.8 1834.4,1582.4 1835.1,1582.1 1835.8,1582.4 1836.4,1581.9 1839.2,1582.3 1839.8,1581.9 1841.2,1582.8 1841.9,1581.9 1842.5,1582.0 1843.2,1582.6 1843.9,1582.2 1845.2,1582.2 1845.9,1581.9 1846.6,1582.0 1847.3,1582.5 1848.6,1582.1 1849.3,1582.1 1850.0,1582.4 1850.6,1582.0 1851.3,1582.5 1852.0,1582.1 1852.7,1582.7 1854.0,1581.8 1854.7,1581.9 1856.0,1583.0 1856.7,1582.2 1857.4,1581.9 1858.7,1582.1 1859.4,1582.4 1860.1,1582.2 1861.4,1582.3 1862.8,1581.6 1864.1,1582.1 1864.8,1581.9 1865.5,1582.1 1866.8,1581.7 1867.5,1582.1 1868.2,1581.6 1868.9,1581.8 1869.5,1581.3 1870.2,1581.8 1870.9,1581.5 1871.6,1581.7 1872.2,1581.3 1872.9,1581.8 1873.6,1581.4 1874.9,1581.5 1875.6,1581.2 1877.6,1580.9 1879.0,1580.4 1880.3,1579.1 1881.0,1577.8 1881.7,1576.1 1882.4,1573.0 1883.0,1571.4 1885.1,1578.0 1886.4,1579.3 1887.8,1579.8 1888.4,1579.7 1889.1,1580.3 1889.8,1579.9 1891.2,1580.2 1893.2,1579.8 1893.9,1580.0 1896.6,1579.6 1898.6,1580.1 1899.3,1579.5 1899.9,1580.0 1900.6,1579.6 1901.3,1579.8 1902.0,1579.5 1904.0,1580.4 1904.7,1579.7 1906.0,1580.0 1906.7,1579.9 1907.4,1579.5 1909.4,1579.7 1910.7,1579.1 1911.4,1579.1 1912.1,1578.4 1912.8,1578.1 1914.1,1575.4 1915.5,1571.4 1917.5,1577.1 1918.8,1578.9 1919.5,1578.9 1921.5,1579.9 1922.2,1579.5 1922.9,1580.6 1923.6,1580.2 1924.9,1580.0 1927.6,1580.1 1928.3,1580.5 1929.6,1580.0 1930.3,1580.6 1931.0,1580.4 1931.7,1580.8 1932.3,1580.4 1933.0,1580.6 1933.7,1580.2 1934.4,1580.6 1935.0,1580.2 1935.7,1580.3 1937.1,1578.9 1939.1,1574.4 1939.8,1575.5 1941.1,1579.5 1942.5,1580.3 1943.8,1580.7 1944.5,1581.4 1945.9,1580.7 1947.2,1581.5 1948.6,1581.5 1949.9,1582.3 1950.6,1581.4 1951.3,1581.8 1954.0,1581.8 1954.6,1581.3 1955.3,1581.8 1956.0,1581.6 1956.7,1581.8 1957.3,1581.5 1958.7,1582.4 1959.4,1581.4 1960.7,1581.8 1961.4,1582.4 1962.1,1581.7 1963.4,1582.2 1964.1,1582.2 1964.8,1581.8 1965.4,1582.3 1966.8,1582.3 1967.5,1582.0 1968.1,1582.4 1968.8,1582.1 1969.5,1582.3 1970.2,1581.7 1970.8,1582.4 1972.9,1582.1 1973.5,1582.7 1974.2,1582.3 1975.6,1582.2 1976.2,1582.4 1976.9,1582.0 1977.6,1582.0 1978.9,1582.6 1981.0,1582.0 1981.6,1582.6 1982.3,1582.5 1983.0,1582.8 1985.0,1581.8 1986.4,1582.3 1987.0,1582.4 1987.7,1581.8 1990.4,1582.5 1991.8,1581.8 1992.5,1582.4 1994.5,1582.4 1995.2,1582.1 1995.8,1582.6 1996.5,1582.3 1997.2,1582.5 1997.9,1582.1 1999.2,1582.5 1999.9,1582.4 2001.2,1581.9 2003.3,1582.6 2004.6,1582.7 2007.3,1582.0 2008.0,1582.5 2009.3,1582.2 2010.7,1582.6 2012.0,1581.7 2012.7,1582.4 2013.4,1581.7 2014.7,1581.8 2016.8,1581.7 2017.4,1581.2 2019.5,1581.3 2020.8,1580.6 2021.5,1580.7 2022.8,1579.7 2023.5,1579.9 2024.2,1579.1 2026.9,1578.0 2027.6,1577.0 2028.2,1577.7 2028.9,1577.1 2029.6,1577.1 2030.3,1576.2 2031.6,1575.2 2032.3,1575.2 2033.0,1574.2 2033.6,1573.9 2035.0,1572.2 2035.7,1572.0 2037.7,1569.4 2038.4,1569.0 2039.0,1569.3 2039.7,1568.6 2040.4,1568.4 2041.1,1567.8 2041.8,1565.9 2042.4,1562.3 2043.8,1544.5 2045.1,1561.7 2045.8,1564.7 2047.2,1567.0 2047.8,1566.7 2048.5,1567.3 2049.9,1567.0 2053.2,1564.4 2053.9,1564.3 2056.6,1560.4 2058.0,1556.6 2058.6,1553.1 2059.3,1548.7 2060.0,1540.2 2061.8,1491.3 2063.4,1531.3 2064.0,1541.5 2064.7,1546.8 2065.4,1549.3 2066.1,1550.8 2067.4,1552.1 2068.1,1552.2 2068.8,1552.7 2069.4,1552.2 2070.1,1553.0 2070.8,1553.3 2071.5,1553.3 2073.5,1554.7 2074.2,1554.7 2076.2,1555.7 2076.9,1555.5 2077.5,1556.4 2078.2,1556.1 2079.6,1556.1 2080.9,1556.5 2082.3,1556.1 2083.6,1556.7 2085.0,1556.7 2085.6,1556.4 2086.3,1556.9 2087.0,1556.5 2087.7,1556.4 2088.3,1556.9 2089.0,1556.3 2089.7,1557.0 2091.0,1556.8 2091.7,1557.2 2092.4,1557.0 2093.1,1557.4 2094.4,1557.1 2095.1,1557.3 2095.8,1556.6 2097.1,1556.6 2098.5,1556.1 2099.2,1556.3 2099.8,1555.8 2101.2,1555.9 2101.9,1555.1 2103.2,1554.9 2103.9,1553.6 2104.6,1553.1 2105.2,1552.2 2105.9,1552.3 2106.6,1551.5 2107.3,1551.5 2107.9,1551.1 2111.3,1548.2 2112.0,1548.4 2113.3,1546.7 2114.0,1546.4 2114.7,1546.6 2115.4,1546.0 2116.0,1544.9 2116.7,1545.0 2117.4,1543.7 2118.1,1543.7 2120.8,1539.7 2122.8,1537.3 2123.5,1537.1 2124.8,1539.6 2125.5,1540.2 2126.8,1540.5 2127.5,1539.7 2129.5,1538.4 2130.9,1536.9 2132.2,1538.1 2132.9,1537.8 2133.6,1538.5 2135.6,1539.7 2136.3,1540.4 2137.0,1540.3 2137.6,1541.0 2138.3,1540.6 2139.0,1539.1 2140.3,1537.5 2141.0,1537.2 2141.7,1535.4 2142.4,1535.1 2143.1,1534.3 2145.1,1531.4 2146.4,1529.0 2147.1,1528.4 2149.8,1524.4 2150.5,1522.6 2151.2,1522.2 2152.5,1519.0 2153.9,1517.3 2155.2,1514.0 2156.6,1512.2 2158.6,1507.9 2159.9,1504.2 2162.6,1492.7 2164.7,1481.9 2166.7,1453.2 2168.0,1429.4 2170.1,1383.4 2171.4,1322.7 2172.1,1264.3 2172.8,1170.4 2174.3,921.9 2174.8,968.7 2176.1,1218.6 2176.8,1290.8 2177.5,1335.6 2178.8,1380.8 2180.9,1415.7 2182.9,1440.6 2183.6,1447.1 2184.2,1451.0 2186.3,1457.7 2187.6,1460.3 2189.0,1459.7 2189.6,1458.4 2191.0,1451.8 2192.3,1441.7 2194.4,1454.5 2195.1,1456.5 2195.7,1457.2 2197.1,1456.4 2199.8,1422.8 2201.8,1369.9 2203.2,1318.9 2204.5,1250.6 2205.2,1195.4 2206.5,986.1 2207.9,589.5 2208.4,517.3 2209.2,673.1 2210.6,1015.1 2211.3,1103.9 2211.9,1158.1 2212.6,1191.5 2213.3,1210.9 2214.6,1239.6 2216.0,1281.0 2218.0,1331.2 2221.4,1400.5 2222.7,1419.7 2226.1,1442.7 2231.5,1474.7 2234.9,1484.2 2236.2,1486.3 2238.3,1491.0 2241.6,1496.3 2242.3,1496.8 2243.0,1498.5" fill="none" stroke="#ff7f0e" stroke-width="3.0" stroke-linejoin="round"/>
<g fill="#ff7f0e"><rect x="251.9" y="1571.5" width="22.6" height="22.6"/><rect x="319.9" y="1571.4" width="22.6" height="22.6"/><rect x="388.2" y="1571.1" width="22.6" height="22.6"/><rect x="456.1" y="1571.4" width="22.6" height="22.6"/><rect x="523.2" y="1571.0" width="22.6" height="22.6"/><rect x="590.7" y="1571.1" width="22.6" height="22.6"/><rect x="657.1" y="1570.7" width="22.6" height="22.6"/><rect x="723.5" y="1571.3" width="22.6" height="22.6"/><rect x="789.0" y="1570.9" width="22.6" height="22.6"/><rect x="854.2" y="1570.4" width="22.6" height="22.6"/><rect x="919.4" y="1570.7" width="22.6" height="22.6"/><rect x="983.8" y="1570.4" width="22.6" height="22.6"/><rect x="1048.2" y="1567.7" width="22.6" height="22.6"/><rect x="1111.8" y="1564.3" width="22.6" height="22.6"/><rect x="1174.7" y="1568.5" width="22.6" height="22.6"/><rect x="1237.1" y="1568.4" width="22.6" height="22.6"/><rect x="1299.6" y="1568.2" width="22.6" height="22.6"/><rect x="1361.6" y="1569.8" width="22.6" height="22.6"/><rect x="1422.1" y="1568.7" width="22.6" height="22.6"/><rect x="1482.6" y="1567.5" width="22.6" height="22.6"/><rect x="1542.7" y="1538.4" width="22.6" height="22.6"/><rect x="1602.4" y="1568.8" width="22.6" height="22.6"/><rect x="1661.0" y="1569.3" width="22.6" height="22.6"/><rect x="1718.7" y="1569.5" width="22.6" height="22.6"/><rect x="1776.5" y="1570.7" width="22.6" height="22.6"/><rect x="1833.9" y="1570.9" width="22.6" height="22.6"/><rect x="1890.9" y="1568.3" width="22.6" height="22.6"/><rect x="1945.8" y="1570.3" width="22.6" height="22.6"/><rect x="1997.8" y="1570.9" width="22.6" height="22.6"/><rect x="2031.8" y="1532.8" width="22.6" height="22.6"/><rect x="2066.1" y="1544.9" width="22.6" height="22.6"/><rect x="2099.0" y="1537.7" width="22.6" height="22.6"/><rect x="2162.8" y="910.5" width="22.6" height="22.6"/></g>
</g>
<rect x="217.0" y="95.0" width="2026.0" height="1510.5" fill="none" stroke="#000" stroke-width="8.0"/>
<path d="M217.0 1605.5 v19 M554.7 1605.5 v19 M892.3 1605.5 v19 M1230.0 1605.5 v19 M1567.7 1605.5 v19 M1905.3 1605.5 v19 M2243.0 1605.5 v19 M217.0 1584.0 h-19.5 M217.0 1374.2 h-19.5 M217.0 1164.5 h-19.5 M217.0 954.7 h-19.5 M217.0 745.0 h-19.5 M217.0 535.2 h-19.5 M217.0 325.4 h-19.5 M217.0 115.7 h-19.5" stroke="#000" stroke-width="4.4" fill="none"/>
<text transform="translate(154.0,1701.0) scale(0.9875,1)" font-size="82.5">200</text>
<text transform="translate(491.6,1701.0) scale(0.9875,1)" font-size="82.5">220</text>
<text transform="translate(829.3,1701.0) scale(0.9875,1)" font-size="82.5">240</text>
<text transform="translate(1167.0,1701.0) scale(0.9875,1)" font-size="82.5">260</text>
<text transform="translate(1504.6,1701.0) scale(0.9875,1)" font-size="82.5">280</text>
<text transform="translate(1842.1,1701.0) scale(0.9875,1)" font-size="82.5">300</text>
<text transform="translate(2179.8,1701.0) scale(0.9875,1)" font-size="82.5">320</text>
<text transform="translate(135.6,1612.2) scale(0.9758,1)" font-size="82.5">0</text>
<text transform="translate(137.4,1402.4) scale(0.9758,1)" font-size="82.5">1</text>
<text transform="translate(137.0,1192.7) scale(0.9758,1)" font-size="82.5">2</text>
<text transform="translate(135.7,982.9) scale(0.9758,1)" font-size="82.5">3</text>
<text transform="translate(133.8,773.2) scale(0.9758,1)" font-size="82.5">4</text>
<text transform="translate(135.7,563.4) scale(0.9758,1)" font-size="82.5">5</text>
<text transform="translate(134.9,353.6) scale(0.9758,1)" font-size="82.5">6</text>
<text transform="translate(134.9,143.9) scale(0.9758,1)" font-size="82.5">7</text>
<text transform="translate(928.5,1803.0) scale(1.0462,1)" font-size="82">Wavelength (nm)</text>
<text transform="translate(91.7,1107.1) rotate(-90) scale(1.0584,1)" font-size="82">Intensity (a.u.)</text>
<text transform="translate(211.5,90.0) scale(0.9997,1)" font-size="69.6">×</text><text transform="translate(254.5,82.0) scale(0.9680,1)" font-size="56.5">10</text><text transform="translate(312.8,59.5) scale(0.9842,1)" font-size="40">4</text>
<path d="M276.9 180.1 H415.3" stroke="#1f77b4" stroke-width="3"/><circle cx="346.1" cy="180.1" r="11.4" fill="#1f77b4"/><path d="M276.9 281.7 H415.3" stroke="#ff7f0e" stroke-width="3"/><rect x="334.70000000000005" y="270.3" width="22.8" height="22.8" fill="#ff7f0e"/><text transform="translate(464.9,205.6) scale(1.0191,1)" font-size="72">(I) Amber glass</text><text transform="translate(464.9,306.7) scale(1.0037,1)" font-size="72">(II) Flint glass</text>
<text transform="translate(296.7,535.0) scale(1.1720,1)" font-size="71">(A)</text>
<text transform="translate(393.9,1543.7) scale(1.0433,1)" font-size="46">Si</text>
<text transform="translate(555.9,1545.2) scale(1.0549,1)" font-size="46">Si</text>
<text transform="translate(921.7,1510.0) scale(1.0607,1)" font-size="46">Si</text>
<text transform="translate(1048.4,1331.2) scale(1.0160,1)" font-size="60">Si</text>
<text transform="translate(1213.9,1457.3) scale(1.0237,1)" font-size="46">Fe</text>
<text transform="translate(1249.9,1494.4) scale(1.0549,1)" font-size="46">Si</text>
<text transform="translate(1533.1,1269.5) scale(1.0502,1)" font-size="46">Mg</text>
<text transform="translate(1608.4,1405.7) scale(1.0632,1)" font-size="46">Mg</text>
<text transform="translate(1690.7,1279.2) scale(1.0200,1)" font-size="46">Si</text>
<text transform="translate(2023.8,1312.0) scale(1.0285,1)" font-size="47">Al</text>
<text transform="translate(2138.1,704.0) scale(1.0573,1)" font-size="54">Ca</text>
<text transform="translate(2155.5,157.8) scale(1.0479,1)" font-size="59">Ca</text>
<text x="1322.6" y="616.0" font-size="64">*</text>
<path d="M553.3 1560 Q576.7 1542 600.1 1560" fill="none" stroke="#000" stroke-width="1.8"/>
<path d="M1042.3 1364.4 Q1083.3 1329.1999999999998 1124.3 1364.4" fill="none" stroke="#000" stroke-width="2.0"/>
<path d="M1533.7 1297.6 Q1568.25 1266.4 1602.8 1297.6" fill="none" stroke="#000" stroke-width="2.0"/>
<path d="M2022.9 1337 Q2052.25 1313 2081.6 1337" fill="none" stroke="#000" stroke-width="2.0"/>
<path d="M1226 1546.6 L1232.3 1500 M1220.7 1518.2 L1232.5 1497.6 L1240.6 1520" fill="none" stroke="#000" stroke-width="5" stroke-linecap="round" stroke-linejoin="round"/>
<clipPath id="cb"><rect x="268.0" y="1917.5" width="1978.0" height="1474.5"/></clipPath>
<g clip-path="url(#cb)">
<polyline points="268.0,3372.6 269.4,3372.2 270.8,3372.6 272.1,3373.8 273.5,3374.1 274.9,3374.5 276.3,3374.3 277.6,3375.0 279.0,3374.9 280.4,3376.5 281.8,3375.1 283.1,3376.3 284.5,3376.3 285.9,3376.9 287.3,3377.0 288.6,3376.6 290.0,3376.4 291.4,3376.9 292.8,3376.9 294.1,3376.5 295.5,3377.3 296.9,3377.7 298.3,3376.7 299.6,3377.3 301.0,3377.9 302.4,3377.4 303.8,3377.2 305.2,3377.6 306.5,3377.7 307.9,3377.0 309.3,3376.6 310.7,3377.1 312.0,3377.4 313.4,3376.9 314.8,3376.7 316.2,3377.2 317.5,3376.8 318.9,3376.6 320.3,3377.2 321.7,3377.5 323.0,3376.9 324.4,3377.0 325.8,3376.6 327.2,3377.8 328.5,3377.5 329.9,3377.6 331.3,3378.0 332.7,3377.1 334.0,3376.9 335.4,3377.5 336.8,3376.4 338.2,3376.7 339.6,3376.7 340.9,3376.8 342.3,3376.4 343.7,3377.5 345.1,3376.3 346.4,3376.1 347.8,3376.9 349.2,3375.2 350.6,3374.3 351.9,3371.4 353.3,3366.4 355.4,3331.0 356.1,3349.3 357.4,3366.7 358.8,3371.5 360.2,3374.3 361.6,3375.2 362.9,3376.4 364.3,3376.0 365.7,3376.5 367.1,3377.1 368.4,3376.8 369.8,3376.6 371.2,3376.4 372.6,3378.2 374.0,3377.0 375.3,3377.3 376.7,3377.6 378.1,3378.1 379.5,3377.0 380.8,3378.3 382.2,3377.4 383.6,3377.0 385.0,3378.5 386.3,3377.8 387.7,3378.3 389.1,3377.4 390.5,3376.6 391.8,3376.1 393.2,3377.2 395.3,3371.2 396.0,3373.6 397.3,3375.6 398.7,3377.0 400.1,3377.9 401.5,3377.5 402.8,3377.8 404.2,3377.9 405.6,3378.2 407.0,3377.7 408.4,3377.8 409.7,3378.0 411.1,3378.1 412.5,3378.6 413.9,3378.3 415.2,3377.4 416.6,3378.1 418.0,3378.8 419.4,3377.4 420.7,3377.8 422.1,3377.0 423.5,3378.1 424.9,3378.4 426.2,3378.9 427.6,3377.5 429.0,3376.9 430.4,3378.6 431.7,3378.5 433.1,3377.9 434.5,3378.6 435.9,3378.3 437.2,3378.4 438.6,3378.1 440.0,3377.7 441.4,3378.2 442.8,3377.8 444.1,3378.5 445.5,3378.1 446.9,3379.4 448.3,3379.0 449.6,3377.9 451.0,3378.6 452.4,3378.0 453.8,3378.1 455.1,3377.7 456.5,3377.9 457.9,3377.8 459.3,3378.4 460.6,3378.7 462.0,3378.7 463.4,3378.6 464.8,3378.9 466.1,3378.5 467.5,3378.2 468.9,3377.9 470.3,3377.8 471.6,3377.6 473.5,3370.9 474.4,3374.7 475.8,3376.5 477.2,3377.5 478.5,3378.4 479.9,3378.7 481.3,3377.4 482.7,3378.1 484.0,3377.6 485.4,3377.4 486.8,3378.9 488.2,3378.3 489.5,3378.3 490.9,3378.2 492.3,3378.2 493.7,3378.4 495.0,3378.4 496.4,3379.2 497.8,3378.6 499.2,3378.9 500.5,3378.4 501.9,3378.7 503.3,3378.1 504.7,3378.0 506.0,3378.3 507.4,3378.3 508.8,3378.4 510.2,3378.6 511.6,3378.5 512.9,3378.7 514.3,3378.2 515.7,3378.4 517.1,3378.1 518.4,3379.0 519.8,3377.9 521.2,3378.7 522.6,3378.7 523.9,3378.4 525.3,3378.6 526.7,3378.2 528.1,3378.6 529.4,3378.8 530.8,3378.7 532.2,3377.6 533.6,3378.3 534.9,3378.9 536.3,3378.3 537.7,3379.0 539.1,3377.3 540.4,3379.0 541.8,3378.0 543.2,3377.9 544.6,3378.9 546.0,3378.0 547.3,3377.7 548.7,3377.9 550.1,3378.0 551.5,3377.7 552.8,3378.1 554.2,3378.0 555.6,3378.2 557.0,3377.8 558.3,3378.6 559.7,3377.7 561.1,3378.3 562.5,3378.6 563.8,3377.9 565.2,3377.2 566.6,3377.6 568.0,3378.3 569.3,3377.7 570.7,3378.2 572.1,3378.1 573.5,3377.9 574.8,3379.1 576.2,3377.9 577.6,3378.5 579.0,3378.3 580.4,3378.6 581.7,3378.6 583.1,3378.3 584.5,3377.4 585.9,3376.9 587.2,3377.6 588.6,3376.9 590.0,3377.3 591.4,3377.5 592.7,3375.1 594.8,3365.2 595.5,3371.0 596.9,3375.0 598.2,3376.2 599.6,3377.5 601.0,3378.1 602.4,3377.6 603.7,3377.7 605.1,3377.8 606.5,3377.1 607.9,3376.8 609.2,3377.8 610.6,3377.3 612.0,3377.1 613.4,3377.2 614.8,3376.9 616.1,3377.5 617.5,3376.9 618.9,3376.1 620.3,3376.6 621.6,3377.2 623.0,3376.5 624.4,3376.0 625.8,3376.3 627.1,3376.6 628.5,3375.3 629.9,3376.4 631.3,3375.1 632.6,3374.7 634.0,3373.9 635.4,3369.2 637.3,3349.7 638.1,3363.7 639.5,3370.2 640.9,3373.1 642.3,3374.5 643.6,3373.7 645.0,3372.2 646.4,3369.2 647.8,3361.4 649.0,3338.1 650.5,3364.2 651.9,3370.7 653.3,3372.3 654.7,3373.9 656.0,3374.3 657.4,3374.5 658.8,3375.5 660.2,3375.4 661.5,3374.3 662.9,3374.9 664.3,3375.3 665.7,3375.0 667.0,3375.5 668.4,3375.1 669.8,3375.7 671.2,3375.2 672.5,3376.2 673.9,3374.7 675.3,3375.7 676.7,3376.2 678.0,3375.5 679.4,3375.6 680.8,3375.3 682.2,3376.0 683.6,3375.2 684.9,3373.5 686.3,3375.9 687.7,3375.1 689.1,3375.3 690.4,3374.9 691.8,3375.7 693.2,3375.1 694.6,3373.8 695.9,3373.4 697.3,3371.3 698.7,3370.2 700.1,3364.7 701.4,3350.9 702.9,3308.3 704.2,3350.0 705.6,3363.8 706.9,3369.3 708.3,3371.4 709.7,3373.0 711.1,3374.1 712.4,3374.0 713.8,3372.9 715.2,3373.6 716.6,3375.5 718.0,3373.8 719.3,3373.7 720.7,3372.1 722.1,3371.1 723.5,3367.8 724.8,3364.0 726.2,3355.1 727.6,3334.2 729.4,3228.1 730.3,3303.3 731.7,3344.0 733.1,3359.5 734.5,3366.6 735.8,3369.1 737.2,3371.5 738.6,3372.8 740.0,3373.9 741.3,3374.3 742.7,3374.7 744.1,3376.0 745.5,3374.3 746.8,3374.6 748.2,3375.1 749.6,3374.6 751.0,3374.9 752.4,3375.0 753.7,3376.4 755.1,3375.3 756.5,3374.9 757.9,3374.4 759.2,3374.2 760.6,3374.4 762.0,3375.7 763.4,3376.2 764.7,3374.8 766.1,3375.0 767.5,3374.5 768.9,3375.0 770.2,3374.8 771.6,3375.6 773.0,3374.6 774.4,3375.0 775.7,3374.5 777.1,3374.4 778.5,3374.6 779.9,3374.3 781.2,3374.4 782.6,3374.0 784.0,3374.0 785.4,3374.4 786.8,3374.3 788.1,3372.9 789.5,3373.7 790.9,3373.0 792.3,3373.1 793.6,3373.3 795.0,3373.2 796.4,3372.4 797.8,3372.0 799.1,3371.4 800.5,3371.9 801.9,3371.0 803.3,3370.1 804.6,3368.2 806.0,3368.1 807.4,3362.5 808.8,3353.3 810.1,3324.9 811.0,3277.9 812.9,3337.4 814.3,3330.9 816.1,3240.9 817.0,3312.0 818.4,3347.8 819.8,3360.8 821.2,3365.3 822.5,3367.8 823.9,3368.6 825.3,3367.5 826.7,3365.5 828.0,3359.9 829.4,3350.6 830.9,3335.5 832.2,3346.1 833.5,3355.1 834.9,3358.8 836.3,3361.2 837.7,3362.4 839.0,3362.8 840.4,3363.0 841.8,3363.3 843.2,3364.4 844.5,3365.7 845.9,3365.4 847.3,3366.4 848.7,3365.9 850.0,3366.8 851.4,3367.0 852.8,3366.5 854.2,3366.7 855.6,3367.5 856.9,3366.3 858.3,3365.8 859.7,3367.9 861.1,3366.4 862.4,3367.7 863.8,3367.5 865.2,3367.0 866.6,3366.8 867.9,3364.0 869.3,3361.8 870.7,3357.2 872.1,3344.6 873.4,3309.0 874.3,3245.9 876.2,3337.0 877.6,3353.0 878.9,3357.4 880.3,3358.7 881.7,3358.0 883.1,3350.8 884.4,3341.7 885.8,3331.3 887.2,3329.5 888.6,3320.6 890.0,3305.5 891.3,3285.1 892.7,3262.1 894.1,3198.6 895.5,2982.6 896.8,2540.4 898.4,2210.8 899.6,2430.0 901.0,2900.4 902.3,3178.7 903.7,3266.8 905.1,3280.2 907.0,3191.2 907.8,3272.3 909.2,3315.0 910.6,3329.9 912.0,3337.1 913.3,3338.2 914.7,3337.3 916.1,3331.6 917.5,3320.5 918.8,3305.4 920.2,3280.2 921.6,3217.2 922.5,3101.2 924.4,3159.1 925.7,2958.7 926.5,2748.3 928.5,2348.3 929.9,2593.3 931.2,2998.6 932.6,3222.4 934.0,3298.3 935.4,3326.3 936.7,3339.6 938.1,3350.1 939.5,3355.9 940.9,3361.6 942.2,3363.8 943.6,3366.0 945.0,3367.1 946.4,3367.0 947.7,3367.8 949.1,3368.2 950.5,3368.5 951.9,3366.9 953.2,3366.7 954.6,3366.7 956.0,3365.7 957.4,3366.9 958.8,3367.3 960.1,3367.6 961.5,3367.3 962.9,3367.6 964.3,3368.4 965.6,3367.9 967.0,3368.1 968.4,3368.6 969.8,3368.3 971.1,3369.2 972.5,3369.2 973.9,3369.1 975.3,3369.5 976.6,3369.3 978.0,3370.4 979.4,3369.2 980.8,3370.5 982.1,3370.3 983.5,3371.1 984.9,3370.2 986.3,3369.9 987.6,3370.2 989.0,3370.4 990.4,3371.7 991.8,3371.4 993.2,3371.4 994.5,3371.8 995.9,3370.9 997.3,3371.5 998.7,3371.8 1000.0,3371.6 1001.4,3372.5 1002.8,3372.6 1004.2,3372.6 1005.5,3372.0 1006.9,3372.2 1008.3,3372.1 1009.7,3371.9 1011.0,3373.0 1012.4,3372.5 1013.8,3371.9 1015.2,3372.2 1016.5,3370.8 1017.9,3367.6 1019.3,3362.5 1020.7,3349.3 1021.9,3312.1 1023.4,3354.0 1024.8,3362.9 1026.2,3367.0 1027.6,3368.0 1028.9,3368.1 1030.3,3369.4 1031.7,3369.9 1033.1,3369.8 1034.4,3369.6 1035.8,3369.8 1037.2,3370.0 1038.6,3369.8 1039.9,3370.8 1041.3,3370.4 1042.7,3369.8 1044.1,3370.3 1045.4,3370.3 1046.8,3370.0 1048.2,3369.6 1049.6,3368.9 1050.9,3369.0 1052.3,3367.9 1053.7,3366.5 1055.1,3366.6 1056.4,3364.8 1057.8,3364.0 1059.2,3363.1 1060.6,3360.5 1062.0,3358.1 1063.3,3353.2 1064.7,3348.2 1066.4,3340.8 1067.5,3343.8 1068.8,3351.6 1070.2,3355.0 1071.6,3357.8 1073.0,3361.2 1074.3,3362.0 1075.7,3364.7 1077.1,3364.7 1078.5,3366.5 1079.8,3366.1 1081.2,3367.8 1082.6,3368.6 1084.0,3367.4 1085.3,3366.7 1086.7,3368.3 1088.1,3367.8 1089.5,3368.2 1090.8,3368.5 1092.2,3368.1 1093.6,3367.6 1095.0,3369.1 1096.4,3368.1 1097.7,3368.2 1099.1,3369.1 1100.5,3367.5 1101.9,3367.2 1103.2,3368.6 1104.6,3367.2 1106.0,3367.9 1107.4,3367.9 1108.7,3367.0 1110.1,3367.5 1111.5,3367.5 1112.9,3367.0 1114.2,3367.3 1115.6,3367.6 1117.0,3368.9 1118.4,3369.0 1119.7,3367.8 1121.1,3368.8 1122.5,3368.3 1123.9,3368.9 1125.2,3368.4 1126.6,3368.8 1128.0,3367.2 1129.4,3368.3 1130.8,3367.4 1132.1,3366.9 1133.5,3365.2 1134.9,3365.2 1136.3,3362.5 1137.6,3359.3 1139.0,3352.5 1140.6,3330.8 1141.8,3342.6 1143.1,3340.0 1144.5,3329.1 1145.9,3305.6 1147.3,3257.2 1148.6,3145.1 1150.4,2668.2 1151.4,3027.1 1152.8,3212.8 1154.1,3287.5 1155.5,3321.1 1156.9,3338.2 1158.3,3350.1 1159.6,3356.3 1161.0,3360.2 1162.4,3362.6 1163.8,3363.0 1165.2,3365.3 1166.5,3365.8 1167.9,3367.1 1169.3,3368.6 1170.7,3368.8 1172.0,3367.3 1173.4,3367.8 1174.8,3368.6 1176.2,3367.3 1177.5,3368.6 1178.9,3367.1 1180.3,3366.7 1181.7,3367.6 1183.0,3367.5 1184.4,3366.2 1185.8,3366.9 1187.2,3365.6 1188.5,3366.2 1189.9,3364.5 1191.3,3363.9 1192.7,3362.5 1194.0,3359.6 1195.4,3351.5 1196.8,3329.6 1198.0,3247.1 1199.6,3333.7 1200.9,3344.0 1202.3,3335.2 1203.9,3254.9 1205.1,3328.4 1206.4,3347.2 1207.8,3348.3 1209.2,3340.7 1211.2,3262.2 1211.9,3302.3 1213.3,3309.2 1214.7,3249.3 1215.5,3120.3 1217.4,3300.4 1218.8,3307.0 1219.8,3252.8 1221.6,3336.5 1222.9,3350.0 1224.3,3353.1 1225.7,3351.2 1227.1,3341.5 1228.4,3303.3 1229.2,3238.2 1231.2,3340.9 1232.6,3355.3 1234.0,3359.8 1235.3,3363.5 1236.7,3365.5 1238.1,3365.6 1239.5,3367.0 1240.8,3367.3 1242.2,3367.3 1243.6,3367.8 1245.0,3368.4 1246.3,3368.5 1247.7,3368.7 1249.1,3368.0 1250.5,3369.0 1251.8,3369.1 1253.2,3367.9 1254.6,3369.3 1256.0,3368.4 1257.3,3368.6 1258.7,3369.4 1260.1,3370.1 1261.5,3369.3 1262.8,3369.2 1264.2,3369.1 1265.6,3369.7 1267.0,3369.2 1268.4,3369.1 1269.7,3370.4 1271.1,3369.2 1272.5,3369.9 1273.9,3370.3 1275.2,3370.2 1276.6,3369.2 1278.0,3369.6 1279.4,3371.0 1280.7,3370.1 1282.1,3370.2 1283.5,3370.3 1284.9,3370.4 1286.2,3370.9 1287.6,3369.7 1289.0,3370.6 1290.4,3370.4 1291.7,3370.5 1293.1,3370.5 1294.5,3369.7 1295.9,3369.9 1297.2,3370.3 1298.6,3370.4 1300.0,3370.1 1301.4,3369.3 1302.8,3369.6 1304.1,3369.4 1305.5,3369.5 1306.9,3369.2 1308.3,3368.7 1309.6,3369.3 1311.0,3367.0 1312.4,3367.5 1313.8,3366.2 1315.1,3363.3 1316.5,3360.5 1317.9,3353.6 1319.3,3335.6 1320.9,3244.0 1322.0,3317.4 1323.4,3339.5 1324.8,3342.1 1326.1,3329.3 1327.5,3294.6 1329.5,3052.4 1330.3,3201.0 1331.6,3302.1 1333.0,3334.7 1334.4,3348.6 1335.8,3354.6 1337.2,3357.4 1338.5,3357.3 1339.9,3355.4 1341.3,3351.1 1342.7,3340.5 1344.0,3318.9 1345.4,3262.3 1347.1,2966.8 1348.2,3198.2 1349.5,3298.7 1350.9,3332.9 1352.3,3348.2 1353.7,3357.0 1355.0,3361.4 1356.4,3363.8 1357.8,3364.4 1359.2,3366.3 1360.5,3367.3 1361.9,3367.5 1363.3,3367.3 1364.7,3368.9 1366.0,3368.7 1367.4,3369.4 1368.8,3367.7 1370.2,3368.2 1371.6,3369.0 1372.9,3369.9 1374.3,3369.8 1375.7,3371.4 1377.1,3370.5 1378.4,3371.6 1379.8,3371.8 1381.2,3371.7 1382.6,3371.8 1383.9,3371.6 1385.3,3371.7 1386.7,3372.1 1388.1,3373.2 1389.4,3372.1 1390.8,3372.7 1392.2,3371.8 1393.6,3373.4 1394.9,3374.8 1396.3,3373.1 1397.7,3371.1 1399.1,3372.3 1400.4,3372.8 1401.8,3372.0 1403.2,3372.2 1404.6,3372.0 1406.0,3372.3 1407.3,3370.7 1409.2,3361.1 1410.1,3368.6 1411.5,3372.1 1412.8,3372.0 1414.2,3371.7 1415.6,3372.1 1417.0,3372.3 1418.3,3372.4 1419.7,3370.8 1421.1,3372.5 1422.5,3371.9 1423.8,3371.1 1425.2,3372.3 1426.6,3371.7 1428.0,3370.2 1429.3,3367.1 1431.3,3342.5 1432.1,3360.1 1433.5,3368.6 1434.8,3371.6 1436.2,3370.5 1437.6,3371.7 1439.0,3372.9 1440.4,3371.7 1441.7,3372.8 1443.1,3372.1 1444.5,3371.2 1445.9,3371.7 1447.2,3369.5 1448.6,3370.5 1450.0,3368.0 1451.4,3365.6 1452.7,3359.9 1454.5,3323.1 1455.5,3349.4 1456.9,3353.6 1458.2,3339.9 1459.1,3308.7 1461.0,3354.3 1462.4,3359.7 1463.7,3362.2 1465.1,3362.6 1466.5,3363.1 1467.9,3361.1 1469.2,3362.9 1470.6,3361.9 1472.0,3361.3 1473.4,3359.6 1474.8,3356.0 1476.1,3342.6 1477.2,3298.3 1478.9,3352.9 1480.3,3358.3 1481.6,3361.3 1483.0,3360.9 1484.4,3362.4 1485.8,3362.3 1487.1,3361.7 1488.5,3360.5 1489.9,3359.5 1491.3,3359.7 1492.6,3356.3 1494.0,3361.8 1495.4,3364.2 1496.8,3359.3 1498.1,3358.4 1499.5,3353.8 1500.9,3350.9 1502.3,3359.3 1503.6,3348.8 1505.0,3350.6 1506.4,3351.9 1507.8,3352.4 1509.2,3346.4 1510.5,3351.8 1511.9,3352.6 1513.3,3350.3 1514.7,3353.6 1516.0,3348.1 1517.4,3349.0 1518.8,3347.2 1520.2,3346.4 1521.5,3349.4 1522.9,3342.6 1524.3,3348.1 1525.7,3342.8 1527.0,3349.0 1528.4,3343.5 1529.8,3346.3 1531.2,3343.7 1532.5,3345.2 1533.9,3348.8 1535.3,3345.7 1536.7,3342.3 1538.0,3340.5 1539.4,3345.6 1540.8,3347.0 1542.2,3343.8 1543.6,3342.1 1544.9,3343.2 1546.3,3343.8 1547.7,3339.5 1549.1,3339.2 1550.4,3339.9 1551.8,3344.3 1553.2,3341.7 1554.6,3342.4 1555.9,3345.7 1557.3,3339.7 1558.7,3341.8 1560.1,3343.4 1561.4,3338.5 1562.8,3340.2 1564.2,3340.0 1565.6,3339.2 1566.9,3340.8 1568.3,3346.3 1569.7,3344.3 1571.1,3341.0 1572.4,3346.0 1573.8,3344.2 1575.2,3343.6 1576.6,3341.2 1578.0,3341.9 1579.3,3343.3 1580.7,3345.9 1582.1,3342.8 1583.5,3343.5 1584.8,3345.0 1586.2,3340.8 1587.6,3342.7 1589.0,3345.7 1590.3,3340.2 1591.7,3343.8 1593.1,3341.4 1594.5,3346.6 1595.8,3342.4 1597.2,3344.5 1598.6,3344.3 1600.0,3346.5 1601.3,3336.0 1602.7,3342.2 1604.1,3341.3 1605.5,3339.2 1606.8,3342.6 1608.2,3341.1 1609.6,3346.2 1611.0,3342.3 1612.4,3344.0 1613.7,3341.8 1615.1,3342.8 1616.5,3347.1 1617.9,3348.5 1619.2,3346.4 1620.6,3342.1 1622.0,3343.1 1623.4,3343.5 1624.7,3350.1 1626.1,3352.1 1627.5,3347.1 1628.9,3346.6 1630.2,3347.6 1631.6,3345.4 1633.0,3347.1 1634.4,3350.0 1635.7,3348.6 1637.1,3345.3 1638.5,3344.8 1639.9,3344.5 1641.2,3337.8 1642.6,3343.7 1644.0,3342.0 1645.4,3344.4 1646.8,3342.2 1648.1,3339.3 1649.5,3338.7 1650.9,3340.0 1652.3,3338.0 1653.6,3338.4 1655.0,3342.9 1656.4,3346.0 1657.8,3330.9 1659.1,3334.2 1660.5,3336.0 1661.9,3339.8 1663.3,3337.9 1664.6,3330.3 1666.0,3340.3 1667.4,3333.2 1668.8,3329.4 1670.1,3330.5 1671.5,3328.2 1672.9,3329.7 1674.3,3322.4 1675.6,3330.6 1677.0,3330.7 1678.4,3325.7 1679.8,3322.6 1681.2,3327.6 1682.5,3325.7 1683.9,3330.9 1685.3,3333.7 1686.7,3328.0 1688.0,3328.6 1689.4,3329.7 1690.8,3335.8 1692.2,3338.6 1693.5,3337.7 1694.9,3334.2 1696.3,3331.0 1697.7,3329.9 1699.0,3333.7 1700.4,3327.9 1701.8,3326.5 1703.2,3324.0 1704.5,3321.0 1705.9,3316.6 1707.3,3304.7 1708.7,3282.1 1710.0,3209.8 1710.8,3106.0 1712.8,3276.1 1714.2,3304.1 1715.6,3320.0 1716.9,3318.3 1718.3,3322.9 1719.7,3321.4 1721.1,3325.2 1722.4,3325.6 1723.8,3325.2 1725.2,3326.1 1726.6,3327.7 1727.9,3331.6 1729.3,3322.5 1730.7,3331.7 1732.1,3328.7 1733.4,3326.4 1734.8,3327.3 1736.2,3327.1 1737.6,3326.7 1738.9,3325.8 1740.3,3329.1 1741.7,3323.1 1743.1,3334.1 1744.4,3331.7 1745.8,3333.9 1747.2,3335.1 1748.6,3333.5 1750.0,3331.0 1751.3,3336.9 1752.7,3336.8 1754.1,3331.2 1755.5,3326.5 1756.8,3307.9 1758.0,3257.7 1759.6,3316.6 1761.0,3327.8 1762.3,3329.3 1763.7,3331.1 1765.1,3334.3 1766.5,3330.4 1767.8,3330.5 1769.2,3330.0 1770.6,3330.2 1772.0,3326.2 1773.3,3330.2 1774.7,3330.9 1776.1,3336.3 1777.5,3338.6 1778.8,3337.9 1780.2,3334.7 1781.6,3333.8 1783.0,3331.0 1784.4,3325.3 1785.7,3324.3 1787.1,3325.6 1788.5,3322.0 1789.9,3320.1 1791.2,3315.0 1792.6,3314.9 1794.0,3307.9 1795.4,3299.9 1796.7,3293.8 1798.1,3284.3 1800.2,3264.5 1800.9,3265.5 1802.2,3278.7 1803.6,3288.4 1805.0,3297.5 1806.4,3305.0 1807.7,3301.0 1809.1,3306.2 1810.5,3307.6 1811.9,3309.0 1813.2,3313.9 1814.6,3313.3 1816.0,3312.9 1817.4,3311.7 1818.8,3315.0 1820.1,3323.9 1821.5,3316.9 1822.9,3315.9 1824.3,3313.8 1825.6,3315.7 1827.0,3311.4 1828.4,3314.4 1829.8,3314.9 1831.1,3316.1 1832.5,3322.3 1833.9,3316.7 1835.3,3317.4 1836.6,3320.3 1838.0,3317.4 1839.4,3317.7 1840.8,3319.7 1842.1,3318.3 1843.5,3317.8 1844.9,3314.3 1846.3,3312.4 1847.6,3302.9 1849.0,3292.8 1851.0,3184.3 1851.8,3251.0 1853.2,3290.1 1854.5,3300.9 1855.9,3307.3 1857.3,3309.6 1858.7,3309.7 1860.0,3305.4 1861.4,3311.3 1862.8,3304.0 1864.2,3306.6 1865.5,3295.6 1866.3,3288.6 1868.3,3303.1 1869.7,3303.7 1871.0,3303.9 1872.4,3309.7 1873.8,3307.1 1875.2,3307.9 1876.5,3311.8 1877.9,3307.0 1879.3,3308.2 1880.7,3302.4 1882.0,3309.1 1883.4,3303.3 1884.8,3310.0 1886.2,3304.4 1887.6,3308.9 1888.9,3309.9 1890.3,3309.8 1891.7,3310.4 1893.1,3309.9 1894.4,3309.9 1895.8,3316.1 1897.2,3319.2 1898.6,3323.3 1899.9,3317.5 1901.3,3314.7 1902.7,3315.8 1904.1,3316.6 1905.4,3318.0 1906.8,3319.2 1908.2,3319.3 1909.6,3318.6 1910.9,3325.2 1912.3,3319.7 1913.7,3326.4 1915.1,3324.1 1916.4,3326.3 1917.8,3326.6 1919.2,3329.4 1920.6,3330.7 1922.0,3329.3 1923.3,3332.5 1924.7,3324.2 1926.1,3332.0 1927.5,3332.6 1928.8,3332.2 1930.2,3333.4 1931.6,3336.9 1933.0,3331.0 1934.3,3329.4 1935.7,3333.9 1937.1,3329.7 1938.5,3332.6 1939.8,3329.6 1941.2,3328.8 1942.6,3328.5 1944.0,3328.1 1945.3,3329.6 1946.7,3320.8 1948.4,3299.8 1949.5,3316.9 1950.8,3324.1 1952.2,3329.0 1953.6,3331.3 1955.0,3324.1 1956.4,3321.8 1957.7,3303.7 1959.5,3194.4 1960.5,3257.2 1961.9,3260.7 1963.2,3178.1 1964.2,2933.0 1966.0,3237.6 1967.4,3275.3 1968.7,3285.1 1970.1,3265.8 1971.5,3207.6 1972.9,3014.3 1973.6,2699.6 1975.6,3172.6 1977.6,3083.3 1978.4,3205.3 1979.7,3281.2 1981.1,3301.4 1982.5,3309.4 1983.9,3314.9 1985.2,3316.3 1986.6,3317.3 1988.0,3318.8 1989.4,3320.3 1990.8,3322.0 1992.1,3312.3 1993.5,3298.0 1994.9,3309.6 1996.3,3320.4 1997.6,3323.1 1999.0,3320.8 2000.4,3321.7 2001.8,3325.1 2003.1,3324.7 2004.5,3329.0 2005.9,3325.9 2007.3,3329.9 2008.6,3328.4 2010.0,3328.6 2011.4,3329.7 2012.8,3334.2 2014.1,3330.9 2015.5,3328.0 2016.9,3329.1 2018.3,3330.0 2019.6,3328.4 2021.0,3328.7 2022.4,3329.3 2023.8,3334.5 2025.2,3333.1 2026.5,3334.6 2027.9,3336.4 2029.3,3338.0 2030.7,3334.0 2032.0,3335.0 2033.4,3326.0 2034.8,3329.9 2036.2,3325.3 2037.5,3314.8 2038.9,3283.9 2040.3,3226.1 2041.7,3009.9 2042.7,2406.8 2044.4,3104.9 2045.8,3134.2 2047.2,2894.0 2048.2,2119.9 2049.9,3112.4 2051.3,3255.6 2052.7,3310.2 2054.0,3328.3 2055.4,3337.8 2056.8,3344.6 2058.2,3337.6 2059.6,3332.2 2060.9,3333.5 2062.3,3337.9 2063.7,3333.4 2065.1,3334.6 2066.4,3332.6 2067.8,3333.2 2069.2,3336.4 2070.6,3334.8 2071.9,3340.5 2073.3,3332.9 2074.7,3335.2 2076.1,3332.7 2077.4,3332.6 2078.8,3335.9 2080.2,3335.3 2081.6,3337.0 2082.9,3339.8 2084.3,3334.5 2085.7,3333.4 2087.1,3336.3 2088.4,3331.3 2089.8,3333.5 2091.2,3333.2 2092.6,3337.1 2094.0,3340.3 2095.3,3334.3 2096.7,3335.3 2098.1,3337.7 2099.5,3339.1 2100.8,3339.1 2102.2,3339.1 2103.6,3340.3 2105.0,3344.3 2106.3,3336.8 2107.7,3342.0 2109.1,3337.3 2110.5,3332.8 2111.8,3322.4 2113.2,3305.4 2114.6,3228.8 2115.8,2979.8 2117.3,3255.8 2118.7,3304.6 2120.1,3326.6 2121.5,3339.7 2122.8,3334.0 2124.2,3333.3 2125.6,3334.7 2127.0,3339.8 2128.4,3339.0 2129.7,3338.2 2131.1,3343.8 2132.5,3341.0 2133.9,3341.0 2135.2,3335.3 2136.6,3341.2 2138.0,3335.4 2139.4,3339.5 2140.7,3343.9 2142.1,3333.7 2143.5,3342.0 2144.9,3337.8 2146.2,3335.0 2147.6,3340.8 2149.0,3342.5 2150.4,3336.6 2151.7,3339.1 2153.1,3342.4 2154.5,3342.0 2155.9,3340.1 2157.2,3336.5 2158.6,3339.7 2160.0,3337.1 2161.4,3334.4 2162.8,3335.3 2164.1,3334.8 2165.5,3335.2 2166.9,3342.5 2168.3,3335.0 2169.6,3337.2 2171.0,3338.3 2172.4,3340.6 2173.8,3341.8 2175.1,3340.5 2176.5,3337.5 2177.9,3340.4 2179.3,3339.3 2180.6,3338.7 2182.0,3335.2 2183.4,3337.6 2184.8,3337.1 2186.1,3333.2 2187.5,3337.3 2188.9,3334.8 2190.3,3339.0 2191.6,3335.3 2193.0,3335.7 2194.4,3335.6 2195.8,3337.3 2197.2,3338.7 2198.5,3336.8 2199.9,3337.3 2201.3,3333.4 2202.7,3333.7 2204.0,3339.2 2205.4,3334.4 2206.8,3337.3 2208.2,3334.8 2209.5,3337.3 2210.9,3339.7 2212.3,3331.6 2213.7,3331.6 2215.0,3334.4 2216.4,3334.6 2217.8,3329.5 2219.2,3329.6 2220.5,3323.1 2221.9,3315.8 2223.3,3308.8 2224.7,3308.8 2226.0,3299.5 2227.4,3295.3 2228.8,3297.2 2230.2,3299.7 2231.6,3292.4 2232.9,3292.3 2234.3,3287.1 2235.7,3288.7 2237.1,3289.7 2238.4,3286.5 2239.8,3292.9 2241.2,3288.8 2242.6,3289.2 2243.9,3283.1 2245.3,3285.4 2246.7,3294.8 2248.1,3283.0" fill="none" stroke="#1f77b4" stroke-width="3.0" stroke-linejoin="round"/>
<g fill="#1f77b4"><circle cx="277.6" cy="3374.9" r="11.1"/><circle cx="323.6" cy="3377.0" r="11.1"/><circle cx="368.9" cy="3376.8" r="11.1"/><circle cx="414.2" cy="3378.0" r="11.1"/><circle cx="459.1" cy="3378.3" r="11.1"/><circle cx="503.2" cy="3378.2" r="11.1"/><circle cx="546.9" cy="3377.8" r="11.1"/><circle cx="591.0" cy="3377.5" r="11.1"/><circle cx="633.6" cy="3374.1" r="11.1"/><circle cx="676.9" cy="3376.1" r="11.1"/><circle cx="719.1" cy="3373.7" r="11.1"/><circle cx="761.2" cy="3375.0" r="11.1"/><circle cx="804.2" cy="3368.8" r="11.1"/><circle cx="845.5" cy="3365.5" r="11.1"/><circle cx="885.9" cy="3331.2" r="11.1"/><circle cx="926.6" cy="2748.8" r="11.1"/><circle cx="967.9" cy="3368.4" r="11.1"/><circle cx="1008.0" cy="3372.1" r="11.1"/><circle cx="1046.7" cy="3370.1" r="11.1"/><circle cx="1086.9" cy="3368.3" r="11.1"/><circle cx="1126.0" cy="3368.6" r="11.1"/><circle cx="1164.2" cy="3363.7" r="11.1"/><circle cx="1202.1" cy="3352.0" r="11.1"/><circle cx="1240.3" cy="3367.2" r="11.1"/><circle cx="1278.2" cy="3369.8" r="11.1"/><circle cx="1314.5" cy="3364.7" r="11.1"/><circle cx="1351.2" cy="3358.3" r="11.1"/><circle cx="1388.3" cy="3373.0" r="11.1"/><circle cx="1422.9" cy="3371.6" r="11.1"/><circle cx="1449.5" cy="3368.9" r="11.1"/><circle cx="1466.7" cy="3362.8" r="11.1"/><circle cx="1485.4" cy="3362.3" r="11.1"/><circle cx="1505.7" cy="3351.2" r="11.1"/><circle cx="1523.7" cy="3345.8" r="11.1"/><circle cx="1549.8" cy="3339.6" r="11.1"/><circle cx="1590.8" cy="3341.4" r="11.1"/><circle cx="1630.6" cy="3347.0" r="11.1"/><circle cx="1671.6" cy="3328.3" r="11.1"/><circle cx="1711.0" cy="3104.2" r="11.1"/><circle cx="1749.7" cy="3331.4" r="11.1"/><circle cx="1788.7" cy="3321.7" r="11.1"/><circle cx="1827.4" cy="3312.3" r="11.1"/><circle cx="1865.2" cy="3290.7" r="11.1"/><circle cx="1903.5" cy="3316.3" r="11.1"/><circle cx="1941.0" cy="3328.9" r="11.1"/><circle cx="1977.3" cy="3120.1" r="11.1"/><circle cx="2013.6" cy="3332.2" r="11.1"/><circle cx="2049.9" cy="3151.6" r="11.1"/><circle cx="2085.0" cy="3334.0" r="11.1"/><circle cx="2120.2" cy="3327.6" r="11.1"/><circle cx="2154.8" cy="3341.5" r="11.1"/><circle cx="2189.3" cy="3336.0" r="11.1"/><circle cx="2223.2" cy="3309.3" r="11.1"/></g>
<polyline points="268.0,3373.6 269.4,3373.6 270.8,3374.0 272.1,3374.3 273.5,3374.5 274.9,3375.1 276.3,3375.4 277.6,3375.1 279.0,3376.1 280.4,3376.2 281.8,3376.8 283.1,3377.3 284.5,3377.6 285.9,3377.9 287.3,3377.6 288.6,3377.9 290.0,3377.8 291.4,3377.2 292.8,3377.7 294.1,3377.3 295.5,3377.6 296.9,3377.4 298.3,3378.0 299.6,3377.7 301.0,3376.8 302.4,3377.5 303.8,3377.4 305.2,3377.7 306.5,3377.5 307.9,3378.2 309.3,3378.1 310.7,3377.7 312.0,3377.6 313.4,3378.0 314.8,3378.0 316.2,3378.0 317.5,3378.0 318.9,3378.4 320.3,3378.4 321.7,3378.0 323.0,3378.6 324.4,3378.3 325.8,3378.2 327.2,3378.4 328.5,3377.9 329.9,3378.1 331.3,3378.0 332.7,3378.4 334.0,3378.3 335.4,3377.8 336.8,3377.9 338.2,3378.1 339.6,3377.8 340.9,3377.8 342.3,3377.8 343.7,3377.2 345.1,3377.8 346.4,3377.4 347.8,3377.1 349.2,3376.9 350.6,3376.4 351.9,3374.2 353.3,3370.5 355.4,3346.5 356.1,3359.2 357.4,3370.6 358.8,3374.8 360.2,3376.0 361.6,3377.6 362.9,3377.4 364.3,3378.2 365.7,3378.0 367.1,3377.8 368.4,3378.2 369.8,3378.4 371.2,3378.1 372.6,3378.4 374.0,3378.5 375.3,3378.5 376.7,3377.9 378.1,3378.2 379.5,3378.3 380.8,3378.9 382.2,3378.3 383.6,3379.0 385.0,3378.3 386.3,3378.9 387.7,3377.8 389.1,3379.0 390.5,3378.0 391.8,3377.9 393.2,3378.5 395.3,3375.2 396.0,3376.1 397.3,3377.5 398.7,3378.9 400.1,3378.6 401.5,3378.9 402.8,3378.9 404.2,3378.8 405.6,3378.0 407.0,3378.6 408.4,3378.7 409.7,3378.8 411.1,3378.4 412.5,3378.4 413.9,3379.0 415.2,3378.2 416.6,3379.1 418.0,3378.8 419.4,3378.6 420.7,3378.1 422.1,3378.9 423.5,3378.6 424.9,3378.3 426.2,3378.5 427.6,3378.4 429.0,3378.4 430.4,3378.7 431.7,3378.6 433.1,3378.5 434.5,3378.8 435.9,3378.2 437.2,3379.5 438.6,3379.1 440.0,3378.3 441.4,3378.7 442.8,3379.0 444.1,3378.7 445.5,3378.4 446.9,3379.0 448.3,3378.6 449.6,3378.9 451.0,3378.9 452.4,3378.9 453.8,3378.5 455.1,3379.2 456.5,3379.0 457.9,3378.6 459.3,3379.3 460.6,3379.4 462.0,3378.6 463.4,3378.8 464.8,3378.9 466.1,3378.8 467.5,3379.1 468.9,3377.6 470.3,3378.8 471.6,3378.2 473.5,3375.6 474.4,3377.2 475.8,3377.7 477.2,3378.6 478.5,3378.5 479.9,3379.0 481.3,3378.2 482.7,3378.8 484.0,3379.4 485.4,3378.6 486.8,3379.1 488.2,3378.7 489.5,3378.9 490.9,3378.8 492.3,3378.9 493.7,3379.2 495.0,3379.4 496.4,3378.6 497.8,3379.0 499.2,3378.8 500.5,3379.1 501.9,3379.6 503.3,3379.4 504.7,3378.4 506.0,3379.2 507.4,3379.0 508.8,3379.4 510.2,3379.1 511.6,3379.0 512.9,3379.0 514.3,3378.9 515.7,3379.1 517.1,3379.1 518.4,3378.9 519.8,3378.7 521.2,3378.9 522.6,3378.2 523.9,3378.8 525.3,3378.8 526.7,3379.1 528.1,3378.5 529.4,3379.2 530.8,3379.4 532.2,3379.2 533.6,3378.6 534.9,3379.2 536.3,3378.4 537.7,3378.8 539.1,3379.3 540.4,3378.9 541.8,3378.2 543.2,3379.1 544.6,3379.2 546.0,3378.6 547.3,3378.3 548.7,3378.4 550.1,3378.9 551.5,3378.7 552.8,3378.6 554.2,3378.3 555.6,3378.0 557.0,3378.8 558.3,3378.3 559.7,3378.9 561.1,3378.5 562.5,3379.1 563.8,3379.0 565.2,3378.6 566.6,3379.0 568.0,3378.4 569.3,3378.9 570.7,3378.7 572.1,3378.7 573.5,3378.8 574.8,3378.6 576.2,3378.3 577.6,3377.6 579.0,3379.1 580.4,3378.5 581.7,3378.7 583.1,3378.9 584.5,3378.5 585.9,3378.9 587.2,3378.5 588.6,3378.0 590.0,3379.0 591.4,3377.9 592.7,3377.2 594.8,3373.4 595.5,3375.2 596.9,3377.3 598.2,3378.1 599.6,3377.8 601.0,3378.8 602.4,3378.2 603.7,3378.5 605.1,3378.9 606.5,3378.6 607.9,3378.6 609.2,3378.2 610.6,3379.0 612.0,3378.6 613.4,3378.6 614.8,3377.8 616.1,3378.6 617.5,3377.8 618.9,3378.7 620.3,3377.9 621.6,3378.0 623.0,3377.7 624.4,3378.0 625.8,3378.3 627.1,3378.0 628.5,3376.9 629.9,3377.1 631.3,3377.2 632.6,3376.2 634.0,3375.9 635.4,3374.0 637.3,3362.5 638.1,3369.4 639.5,3373.4 640.9,3375.8 642.3,3375.8 643.6,3375.4 645.0,3374.4 646.4,3374.4 647.8,3369.0 649.0,3355.6 650.5,3371.3 651.9,3374.1 653.3,3375.5 654.7,3375.9 656.0,3376.7 657.4,3376.5 658.8,3376.9 660.2,3376.6 661.5,3376.7 662.9,3376.9 664.3,3377.3 665.7,3376.3 667.0,3376.5 668.4,3376.6 669.8,3377.2 671.2,3377.1 672.5,3376.4 673.9,3376.7 675.3,3377.3 676.7,3377.0 678.0,3377.0 679.4,3377.1 680.8,3377.3 682.2,3376.6 683.6,3376.8 684.9,3377.0 686.3,3377.5 687.7,3377.1 689.1,3376.8 690.4,3376.4 691.8,3376.7 693.2,3376.0 694.6,3376.0 695.9,3375.9 697.3,3375.8 698.7,3373.6 700.1,3370.4 701.4,3361.7 702.9,3332.2 704.2,3359.3 705.6,3369.1 706.9,3373.2 708.3,3373.6 709.7,3375.1 711.1,3375.8 712.4,3376.0 713.8,3376.4 715.2,3375.7 716.6,3375.7 718.0,3375.1 719.3,3374.9 720.7,3374.4 722.1,3373.4 723.5,3372.4 724.8,3369.6 726.2,3363.6 727.6,3349.9 729.4,3279.0 730.3,3329.1 731.7,3356.0 733.1,3366.3 734.5,3371.3 735.8,3372.9 737.2,3373.6 738.6,3375.5 740.0,3375.6 741.3,3375.7 742.7,3376.4 744.1,3376.3 745.5,3376.2 746.8,3376.7 748.2,3376.2 749.6,3376.2 751.0,3376.9 752.4,3376.4 753.7,3376.1 755.1,3376.5 756.5,3376.3 757.9,3376.2 759.2,3376.5 760.6,3376.1 762.0,3376.3 763.4,3376.8 764.7,3376.2 766.1,3376.1 767.5,3376.1 768.9,3376.6 770.2,3376.2 771.6,3375.8 773.0,3376.2 774.4,3375.8 775.7,3375.7 777.1,3376.2 778.5,3375.9 779.9,3376.2 781.2,3375.7 782.6,3376.0 784.0,3376.1 785.4,3375.8 786.8,3375.7 788.1,3375.3 789.5,3375.1 790.9,3375.5 792.3,3375.2 793.6,3374.6 795.0,3374.3 796.4,3374.2 797.8,3373.1 799.1,3373.3 800.5,3373.3 801.9,3372.6 803.3,3371.9 804.6,3371.5 806.0,3370.8 807.4,3367.4 808.8,3361.1 810.1,3342.4 811.0,3313.2 812.9,3350.5 814.3,3347.4 816.1,3289.1 817.0,3334.9 818.4,3357.4 819.8,3364.9 821.2,3368.4 822.5,3369.3 823.9,3369.8 825.3,3369.2 826.7,3367.4 828.0,3363.7 829.4,3356.3 830.9,3344.4 832.2,3354.0 833.5,3360.8 834.9,3363.3 836.3,3364.2 837.7,3365.2 839.0,3365.4 840.4,3365.7 841.8,3367.0 843.2,3367.2 844.5,3368.6 845.9,3368.1 847.3,3367.9 848.7,3368.9 850.0,3369.2 851.4,3369.1 852.8,3368.6 854.2,3368.4 855.6,3367.9 856.9,3368.3 858.3,3369.5 859.7,3369.9 861.1,3369.1 862.4,3368.8 863.8,3369.7 865.2,3369.1 866.6,3368.6 867.9,3367.4 869.3,3365.8 870.7,3362.1 872.1,3353.8 873.4,3330.5 874.3,3289.5 876.2,3348.8 877.6,3359.3 878.9,3362.5 880.3,3362.8 881.7,3362.0 883.1,3356.9 884.4,3348.5 885.8,3340.7 887.2,3339.6 888.6,3331.2 890.0,3316.6 891.3,3299.0 892.7,3283.1 894.1,3236.6 895.5,3077.4 896.8,2750.8 898.4,2506.1 899.6,2672.5 901.0,3023.5 902.3,3234.0 903.7,3302.5 905.1,3317.6 907.0,3293.1 907.8,3321.9 909.2,3338.9 910.6,3344.1 912.0,3346.0 913.3,3345.6 914.7,3343.5 916.1,3339.9 917.5,3335.0 918.8,3325.3 920.2,3308.7 921.6,3272.5 922.5,3210.9 924.4,3214.3 925.7,3061.0 926.5,2904.3 928.5,2613.0 929.9,2796.8 931.2,3095.5 932.6,3261.7 934.0,3320.6 935.4,3341.8 936.7,3351.0 938.1,3356.8 939.5,3361.2 940.9,3364.0 942.2,3365.9 943.6,3367.8 945.0,3367.8 946.4,3369.3 947.7,3369.3 949.1,3369.5 950.5,3369.7 951.9,3369.1 953.2,3368.7 954.6,3368.2 956.0,3368.1 957.4,3368.9 958.8,3368.7 960.1,3369.8 961.5,3369.5 962.9,3369.6 964.3,3369.8 965.6,3370.6 967.0,3370.8 968.4,3369.9 969.8,3370.8 971.1,3371.3 972.5,3371.2 973.9,3370.9 975.3,3370.7 976.6,3371.3 978.0,3371.0 979.4,3371.5 980.8,3371.5 982.1,3371.5 983.5,3372.1 984.9,3372.0 986.3,3372.3 987.6,3372.6 989.0,3372.2 990.4,3372.8 991.8,3372.6 993.2,3373.0 994.5,3372.9 995.9,3373.1 997.3,3372.6 998.7,3373.0 1000.0,3373.1 1001.4,3372.6 1002.8,3374.3 1004.2,3373.7 1005.5,3374.3 1006.9,3373.4 1008.3,3373.3 1009.7,3373.2 1011.0,3373.3 1012.4,3373.6 1013.8,3372.6 1015.2,3372.8 1016.5,3372.4 1017.9,3371.3 1019.3,3367.9 1020.7,3360.6 1021.9,3339.1 1023.4,3362.6 1024.8,3367.9 1026.2,3370.2 1027.6,3370.2 1028.9,3371.2 1030.3,3371.5 1031.7,3371.2 1033.1,3371.4 1034.4,3371.6 1035.8,3371.8 1037.2,3371.6 1038.6,3371.9 1039.9,3372.2 1041.3,3371.3 1042.7,3371.9 1044.1,3371.5 1045.4,3371.0 1046.8,3371.1 1048.2,3370.0 1049.6,3371.1 1050.9,3370.6 1052.3,3369.9 1053.7,3368.9 1055.1,3368.8 1056.4,3368.2 1057.8,3366.1 1059.2,3365.4 1060.6,3363.3 1062.0,3360.5 1063.3,3357.4 1064.7,3352.1 1066.4,3346.4 1067.5,3348.9 1068.8,3354.4 1070.2,3359.1 1071.6,3361.6 1073.0,3364.0 1074.3,3365.6 1075.7,3365.6 1077.1,3367.0 1078.5,3367.6 1079.8,3368.8 1081.2,3369.0 1082.6,3369.4 1084.0,3370.0 1085.3,3369.6 1086.7,3370.2 1088.1,3370.1 1089.5,3370.6 1090.8,3369.8 1092.2,3369.9 1093.6,3370.0 1095.0,3370.5 1096.4,3370.3 1097.7,3369.7 1099.1,3370.1 1100.5,3369.9 1101.9,3369.8 1103.2,3370.2 1104.6,3369.2 1106.0,3370.3 1107.4,3369.4 1108.7,3369.4 1110.1,3369.9 1111.5,3369.2 1112.9,3369.2 1114.2,3369.5 1115.6,3369.9 1117.0,3369.6 1118.4,3369.4 1119.7,3369.8 1121.1,3369.3 1122.5,3369.6 1123.9,3369.7 1125.2,3369.4 1126.6,3370.1 1128.0,3369.9 1129.4,3369.3 1130.8,3369.1 1132.1,3368.3 1133.5,3367.8 1134.9,3367.3 1136.3,3365.9 1137.6,3363.8 1139.0,3359.4 1140.6,3345.0 1141.8,3351.6 1143.1,3349.9 1144.5,3341.4 1145.9,3324.0 1147.3,3288.0 1148.6,3204.3 1150.4,2850.4 1151.4,3116.7 1152.8,3255.9 1154.1,3310.4 1155.5,3335.6 1156.9,3349.6 1158.3,3355.7 1159.6,3361.3 1161.0,3364.4 1162.4,3367.3 1163.8,3367.7 1165.2,3368.6 1166.5,3369.5 1167.9,3369.6 1169.3,3369.5 1170.7,3370.2 1172.0,3370.5 1173.4,3369.7 1174.8,3370.0 1176.2,3370.0 1177.5,3369.0 1178.9,3369.6 1180.3,3369.5 1181.7,3369.1 1183.0,3369.1 1184.4,3368.7 1185.8,3368.6 1187.2,3368.8 1188.5,3368.5 1189.9,3368.0 1191.3,3367.4 1192.7,3366.3 1194.0,3364.1 1195.4,3359.2 1196.8,3343.5 1198.0,3288.2 1199.6,3347.2 1200.9,3354.4 1202.3,3349.7 1203.9,3300.6 1205.1,3343.9 1206.4,3356.7 1207.8,3356.4 1209.2,3351.5 1211.2,3289.7 1211.9,3320.2 1213.3,3327.1 1214.7,3285.7 1215.5,3194.5 1217.4,3323.6 1218.8,3328.1 1219.8,3292.9 1221.6,3348.6 1222.9,3357.4 1224.3,3359.5 1225.7,3357.8 1227.1,3350.1 1228.4,3322.1 1229.2,3272.9 1231.2,3350.7 1232.6,3359.9 1234.0,3364.7 1235.3,3366.5 1236.7,3367.7 1238.1,3368.4 1239.5,3368.7 1240.8,3369.1 1242.2,3369.7 1243.6,3369.2 1245.0,3369.9 1246.3,3369.3 1247.7,3370.0 1249.1,3370.3 1250.5,3370.0 1251.8,3369.9 1253.2,3370.6 1254.6,3370.4 1256.0,3369.9 1257.3,3370.8 1258.7,3370.8 1260.1,3370.5 1261.5,3371.0 1262.8,3371.5 1264.2,3371.3 1265.6,3370.6 1267.0,3370.5 1268.4,3370.6 1269.7,3370.7 1271.1,3371.3 1272.5,3370.6 1273.9,3370.5 1275.2,3371.1 1276.6,3370.5 1278.0,3371.0 1279.4,3370.8 1280.7,3370.7 1282.1,3371.4 1283.5,3370.3 1284.9,3371.1 1286.2,3370.9 1287.6,3371.0 1289.0,3370.6 1290.4,3370.6 1291.7,3370.7 1293.1,3370.2 1294.5,3370.6 1295.9,3370.8 1297.2,3371.6 1298.6,3370.6 1300.0,3370.6 1301.4,3370.7 1302.8,3370.6 1304.1,3370.0 1305.5,3369.7 1306.9,3369.2 1308.3,3369.3 1309.6,3369.7 1311.0,3369.0 1312.4,3369.1 1313.8,3367.6 1315.1,3366.5 1316.5,3364.8 1317.9,3360.3 1319.3,3349.2 1320.9,3293.0 1322.0,3337.7 1323.4,3350.8 1324.8,3352.6 1326.1,3345.5 1327.5,3324.3 1329.5,3179.0 1330.3,3267.7 1331.6,3329.2 1333.0,3348.6 1334.4,3356.7 1335.8,3359.9 1337.2,3361.5 1338.5,3361.3 1339.9,3360.7 1341.3,3357.4 1342.7,3350.6 1344.0,3337.4 1345.4,3300.9 1347.1,3114.2 1348.2,3260.2 1349.5,3323.5 1350.9,3347.1 1352.3,3355.9 1353.7,3361.2 1355.0,3364.0 1356.4,3365.1 1357.8,3366.1 1359.2,3368.0 1360.5,3368.6 1361.9,3369.0 1363.3,3369.4 1364.7,3370.3 1366.0,3369.4 1367.4,3370.3 1368.8,3371.0 1370.2,3371.2 1371.6,3370.3 1372.9,3370.4 1374.3,3371.4 1375.7,3371.2 1377.1,3371.0 1378.4,3371.9 1379.8,3371.7 1381.2,3371.1 1382.6,3371.8 1383.9,3371.8 1385.3,3372.1 1386.7,3372.1 1388.1,3371.3 1389.4,3372.2 1390.8,3372.5 1392.2,3372.2 1393.6,3370.9 1394.9,3371.8 1396.3,3372.2 1397.7,3371.9 1399.1,3371.7 1400.4,3371.9 1401.8,3372.9 1403.2,3371.7 1404.6,3371.9 1406.0,3371.0 1407.3,3371.2 1409.2,3361.9 1410.1,3368.5 1411.5,3371.8 1412.8,3371.0 1414.2,3372.3 1415.6,3372.0 1417.0,3372.4 1418.3,3371.8 1419.7,3371.9 1421.1,3371.9 1422.5,3372.2 1423.8,3373.4 1425.2,3373.4 1426.6,3372.4 1428.0,3373.0 1429.3,3372.2 1431.3,3372.3 1432.1,3373.1 1433.5,3372.9 1434.8,3372.9 1436.2,3372.7 1437.6,3372.3 1439.0,3371.8 1440.4,3371.4 1441.7,3372.6 1443.1,3372.3 1444.5,3371.0 1445.9,3371.3 1447.2,3371.4 1448.6,3372.5 1450.0,3371.3 1451.4,3370.0 1452.7,3368.9 1454.5,3357.2 1455.5,3364.4 1456.9,3363.6 1458.2,3355.0 1459.1,3336.2 1461.0,3363.2 1462.4,3367.1 1463.7,3368.3 1465.1,3368.5 1466.5,3368.7 1467.9,3368.3 1469.2,3369.5 1470.6,3368.4 1472.0,3367.9 1473.4,3366.3 1474.8,3365.1 1476.1,3356.9 1477.2,3331.9 1478.9,3361.9 1480.3,3365.7 1481.6,3367.4 1483.0,3367.7 1484.4,3367.6 1485.8,3367.3 1487.1,3368.2 1488.5,3367.0 1489.9,3367.9 1491.3,3363.6 1492.6,3364.1 1494.0,3367.3 1495.4,3367.5 1496.8,3361.5 1498.1,3364.6 1499.5,3364.5 1500.9,3366.0 1502.3,3365.2 1503.6,3363.2 1505.0,3363.3 1506.4,3365.7 1507.8,3361.6 1509.2,3363.0 1510.5,3365.0 1511.9,3361.1 1513.3,3363.0 1514.7,3360.9 1516.0,3363.1 1517.4,3361.1 1518.8,3364.5 1520.2,3360.5 1521.5,3363.7 1522.9,3360.3 1524.3,3364.9 1525.7,3360.1 1527.0,3358.3 1528.4,3358.4 1529.8,3356.8 1531.2,3360.7 1532.5,3355.5 1533.9,3355.2 1535.3,3360.0 1536.7,3359.0 1538.0,3358.3 1539.4,3357.0 1540.8,3356.3 1542.2,3361.2 1543.6,3355.5 1544.9,3357.1 1546.3,3358.5 1547.7,3354.9 1549.1,3357.3 1550.4,3354.5 1551.8,3355.6 1553.2,3357.2 1554.6,3354.5 1555.9,3355.1 1557.3,3357.6 1558.7,3359.6 1560.1,3357.6 1561.4,3355.5 1562.8,3357.1 1564.2,3353.4 1565.6,3356.2 1566.9,3356.7 1568.3,3356.6 1569.7,3359.3 1571.1,3358.2 1572.4,3359.5 1573.8,3363.0 1575.2,3362.2 1576.6,3357.9 1578.0,3360.4 1579.3,3360.2 1580.7,3362.5 1582.1,3360.7 1583.5,3358.0 1584.8,3359.0 1586.2,3360.0 1587.6,3356.0 1589.0,3358.8 1590.3,3359.1 1591.7,3356.1 1593.1,3361.2 1594.5,3356.8 1595.8,3359.7 1597.2,3358.9 1598.6,3358.5 1600.0,3356.8 1601.3,3356.9 1602.7,3356.6 1604.1,3356.9 1605.5,3354.8 1606.8,3354.4 1608.2,3356.2 1609.6,3356.2 1611.0,3358.4 1612.4,3359.8 1613.7,3356.8 1615.1,3357.9 1616.5,3356.5 1617.9,3361.5 1619.2,3353.3 1620.6,3360.6 1622.0,3358.4 1623.4,3356.8 1624.7,3361.3 1626.1,3360.0 1627.5,3362.8 1628.9,3361.9 1630.2,3363.0 1631.6,3359.4 1633.0,3359.3 1634.4,3360.5 1635.7,3357.3 1637.1,3356.7 1638.5,3358.9 1639.9,3359.0 1641.2,3358.7 1642.6,3358.7 1644.0,3355.1 1645.4,3356.7 1646.8,3357.4 1648.1,3356.8 1649.5,3355.1 1650.9,3356.4 1652.3,3354.8 1653.6,3355.1 1655.0,3352.2 1656.4,3352.2 1657.8,3356.5 1659.1,3353.9 1660.5,3351.9 1661.9,3353.7 1663.3,3351.0 1664.6,3351.5 1666.0,3350.6 1667.4,3351.4 1668.8,3350.3 1670.1,3349.5 1671.5,3352.8 1672.9,3351.4 1674.3,3351.1 1675.6,3345.8 1677.0,3347.9 1678.4,3347.4 1679.8,3347.7 1681.2,3349.5 1682.5,3350.5 1683.9,3348.1 1685.3,3350.9 1686.7,3347.9 1688.0,3350.9 1689.4,3351.6 1690.8,3352.7 1692.2,3353.0 1693.5,3352.1 1694.9,3348.7 1696.3,3346.5 1697.7,3352.1 1699.0,3348.7 1700.4,3346.9 1701.8,3348.7 1703.2,3346.7 1704.5,3344.4 1705.9,3345.0 1707.3,3333.4 1708.7,3320.3 1710.0,3276.7 1710.8,3212.0 1712.8,3316.7 1714.2,3329.0 1715.6,3339.5 1716.9,3341.4 1718.3,3345.5 1719.7,3344.9 1721.1,3346.7 1722.4,3346.8 1723.8,3348.4 1725.2,3348.5 1726.6,3346.3 1727.9,3345.9 1729.3,3346.6 1730.7,3348.7 1732.1,3347.0 1733.4,3352.3 1734.8,3345.9 1736.2,3347.8 1737.6,3347.3 1738.9,3345.7 1740.3,3349.0 1741.7,3346.8 1743.1,3349.6 1744.4,3348.2 1745.8,3350.2 1747.2,3349.2 1748.6,3347.4 1750.0,3351.6 1751.3,3351.8 1752.7,3351.6 1754.1,3350.4 1755.5,3345.7 1756.8,3351.5 1758.0,3354.0 1759.6,3351.2 1761.0,3352.6 1762.3,3350.5 1763.7,3349.1 1765.1,3350.7 1766.5,3349.9 1767.8,3351.7 1769.2,3347.7 1770.6,3349.1 1772.0,3345.9 1773.3,3346.1 1774.7,3349.7 1776.1,3348.8 1777.5,3348.1 1778.8,3346.8 1780.2,3350.6 1781.6,3346.9 1783.0,3342.6 1784.4,3345.2 1785.7,3343.7 1787.1,3342.6 1788.5,3343.2 1789.9,3337.4 1791.2,3336.6 1792.6,3334.3 1794.0,3330.3 1795.4,3326.5 1796.7,3326.6 1798.1,3315.0 1800.2,3305.5 1800.9,3305.6 1802.2,3314.8 1803.6,3320.7 1805.0,3320.7 1806.4,3324.5 1807.7,3326.4 1809.1,3327.3 1810.5,3327.1 1811.9,3327.5 1813.2,3333.3 1814.6,3332.2 1816.0,3332.6 1817.4,3332.2 1818.8,3332.4 1820.1,3337.3 1821.5,3332.1 1822.9,3335.5 1824.3,3334.8 1825.6,3336.7 1827.0,3336.8 1828.4,3333.0 1829.8,3335.9 1831.1,3335.9 1832.5,3333.7 1833.9,3332.8 1835.3,3338.8 1836.6,3336.5 1838.0,3336.2 1839.4,3332.9 1840.8,3331.6 1842.1,3336.0 1843.5,3334.8 1844.9,3332.4 1846.3,3329.6 1847.6,3328.0 1849.0,3315.9 1851.0,3256.9 1851.8,3297.7 1853.2,3320.1 1854.5,3324.9 1855.9,3326.6 1857.3,3333.1 1858.7,3332.2 1860.0,3328.4 1861.4,3333.4 1862.8,3324.3 1864.2,3320.0 1865.5,3320.0 1866.3,3308.4 1868.3,3320.6 1869.7,3320.5 1871.0,3324.0 1872.4,3325.6 1873.8,3325.2 1875.2,3323.7 1876.5,3325.0 1877.9,3325.0 1879.3,3327.4 1880.7,3323.7 1882.0,3325.2 1883.4,3322.6 1884.8,3326.7 1886.2,3327.5 1887.6,3329.2 1888.9,3327.4 1890.3,3329.7 1891.7,3331.3 1893.1,3327.7 1894.4,3328.1 1895.8,3332.8 1897.2,3334.5 1898.6,3330.9 1899.9,3334.6 1901.3,3328.0 1902.7,3333.6 1904.1,3331.7 1905.4,3336.0 1906.8,3334.0 1908.2,3332.6 1909.6,3334.5 1910.9,3337.0 1912.3,3332.3 1913.7,3336.1 1915.1,3338.6 1916.4,3340.0 1917.8,3340.1 1919.2,3337.8 1920.6,3342.4 1922.0,3341.6 1923.3,3343.9 1924.7,3340.8 1926.1,3343.5 1927.5,3341.4 1928.8,3341.7 1930.2,3343.6 1931.6,3341.0 1933.0,3340.3 1934.3,3343.9 1935.7,3340.2 1937.1,3334.7 1938.5,3341.5 1939.8,3339.7 1941.2,3343.4 1942.6,3340.1 1944.0,3341.9 1945.3,3338.8 1946.7,3338.7 1948.4,3332.0 1949.5,3334.5 1950.8,3339.6 1952.2,3341.6 1953.6,3339.1 1955.0,3339.4 1956.4,3332.5 1957.7,3322.5 1959.5,3257.5 1960.5,3295.4 1961.9,3299.0 1963.2,3241.7 1964.2,3104.6 1966.0,3282.4 1967.4,3307.0 1968.7,3309.8 1970.1,3300.2 1971.5,3264.3 1972.9,3153.0 1973.6,2967.7 1975.6,3242.4 1977.6,3211.8 1978.4,3271.3 1979.7,3305.2 1981.1,3315.2 1982.5,3322.1 1983.9,3323.6 1985.2,3325.3 1986.6,3325.4 1988.0,3324.8 1989.4,3329.3 1990.8,3326.6 1992.1,3322.4 1993.5,3309.9 1994.9,3321.3 1996.3,3329.9 1997.6,3332.6 1999.0,3332.8 2000.4,3338.6 2001.8,3338.8 2003.1,3338.8 2004.5,3338.5 2005.9,3338.5 2007.3,3340.2 2008.6,3336.4 2010.0,3341.2 2011.4,3340.5 2012.8,3338.4 2014.1,3339.2 2015.5,3340.9 2016.9,3340.3 2018.3,3339.6 2019.6,3341.6 2021.0,3340.9 2022.4,3344.4 2023.8,3343.0 2025.2,3346.6 2026.5,3345.5 2027.9,3346.1 2029.3,3341.7 2030.7,3344.6 2032.0,3342.5 2033.4,3343.2 2034.8,3339.1 2036.2,3334.6 2037.5,3327.3 2038.9,3307.3 2040.3,3270.5 2041.7,3133.6 2042.7,2758.7 2044.4,3191.5 2045.8,3206.8 2047.2,3064.6 2048.2,2587.3 2049.9,3192.4 2051.3,3280.0 2052.7,3314.3 2054.0,3330.8 2055.4,3336.9 2056.8,3341.3 2058.2,3341.1 2059.6,3340.3 2060.9,3343.3 2062.3,3345.4 2063.7,3345.2 2065.1,3343.7 2066.4,3348.5 2067.8,3342.9 2069.2,3343.2 2070.6,3348.4 2071.9,3341.5 2073.3,3346.6 2074.7,3343.7 2076.1,3340.9 2077.4,3345.9 2078.8,3346.0 2080.2,3344.3 2081.6,3343.9 2082.9,3341.9 2084.3,3342.2 2085.7,3341.8 2087.1,3341.5 2088.4,3340.5 2089.8,3342.3 2091.2,3340.8 2092.6,3342.1 2094.0,3344.6 2095.3,3340.0 2096.7,3346.3 2098.1,3343.2 2099.5,3346.5 2100.8,3345.0 2102.2,3345.1 2103.6,3344.9 2105.0,3344.1 2106.3,3348.4 2107.7,3341.3 2109.1,3345.0 2110.5,3344.6 2111.8,3340.0 2113.2,3319.2 2114.6,3276.8 2115.8,3121.3 2117.3,3294.9 2118.7,3325.6 2120.1,3338.4 2121.5,3343.8 2122.8,3345.3 2124.2,3344.9 2125.6,3347.1 2127.0,3349.9 2128.4,3346.4 2129.7,3351.2 2131.1,3349.5 2132.5,3346.0 2133.9,3348.0 2135.2,3348.2 2136.6,3348.5 2138.0,3346.9 2139.4,3349.0 2140.7,3352.7 2142.1,3348.6 2143.5,3354.9 2144.9,3353.1 2146.2,3346.4 2147.6,3347.4 2149.0,3350.3 2150.4,3349.6 2151.7,3349.4 2153.1,3347.7 2154.5,3351.1 2155.9,3351.3 2157.2,3350.9 2158.6,3349.5 2160.0,3349.1 2161.4,3350.1 2162.8,3347.8 2164.1,3351.0 2165.5,3349.0 2166.9,3350.0 2168.3,3350.4 2169.6,3346.1 2171.0,3348.8 2172.4,3349.9 2173.8,3347.8 2175.1,3349.6 2176.5,3346.5 2177.9,3345.8 2179.3,3345.3 2180.6,3349.0 2182.0,3347.2 2183.4,3343.3 2184.8,3346.9 2186.1,3344.0 2187.5,3343.4 2188.9,3348.6 2190.3,3343.6 2191.6,3344.3 2193.0,3343.9 2194.4,3342.4 2195.8,3344.7 2197.2,3345.4 2198.5,3344.4 2199.9,3346.2 2201.3,3344.6 2202.7,3349.3 2204.0,3342.3 2205.4,3346.6 2206.8,3344.6 2208.2,3345.0 2209.5,3345.4 2210.9,3345.3 2212.3,3344.7 2213.7,3347.2 2215.0,3344.5 2216.4,3340.6 2217.8,3344.0 2219.2,3343.4 2220.5,3334.6 2221.9,3333.1 2223.3,3329.2 2224.7,3328.9 2226.0,3325.1 2227.4,3321.0 2228.8,3319.8 2230.2,3320.5 2231.6,3322.5 2232.9,3320.6 2234.3,3321.5 2235.7,3315.2 2237.1,3318.3 2238.4,3317.3 2239.8,3315.9 2241.2,3315.8 2242.6,3314.3 2243.9,3315.8 2245.3,3316.9 2246.7,3310.7 2248.1,3315.1" fill="none" stroke="#ff7f0e" stroke-width="3.0" stroke-linejoin="round"/>
<g fill="#ff7f0e"><rect x="266.5" y="3364.1" width="22.2" height="22.2"/><rect x="312.5" y="3367.4" width="22.2" height="22.2"/><rect x="357.8" y="3367.2" width="22.2" height="22.2"/><rect x="403.1" y="3367.7" width="22.2" height="22.2"/><rect x="448.0" y="3368.1" width="22.2" height="22.2"/><rect x="492.1" y="3368.3" width="22.2" height="22.2"/><rect x="535.8" y="3367.3" width="22.2" height="22.2"/><rect x="579.9" y="3367.1" width="22.2" height="22.2"/><rect x="622.5" y="3364.9" width="22.2" height="22.2"/><rect x="665.8" y="3365.9" width="22.2" height="22.2"/><rect x="708.0" y="3363.8" width="22.2" height="22.2"/><rect x="750.1" y="3365.1" width="22.2" height="22.2"/><rect x="793.1" y="3360.5" width="22.2" height="22.2"/><rect x="834.4" y="3357.2" width="22.2" height="22.2"/><rect x="874.8" y="3329.6" width="22.2" height="22.2"/><rect x="915.5" y="2893.5" width="22.2" height="22.2"/><rect x="956.8" y="3359.1" width="22.2" height="22.2"/><rect x="996.9" y="3362.2" width="22.2" height="22.2"/><rect x="1035.6" y="3360.0" width="22.2" height="22.2"/><rect x="1075.8" y="3359.0" width="22.2" height="22.2"/><rect x="1114.9" y="3358.7" width="22.2" height="22.2"/><rect x="1153.1" y="3356.9" width="22.2" height="22.2"/><rect x="1191.0" y="3343.4" width="22.2" height="22.2"/><rect x="1229.2" y="3357.9" width="22.2" height="22.2"/><rect x="1267.1" y="3359.9" width="22.2" height="22.2"/><rect x="1303.4" y="3355.9" width="22.2" height="22.2"/><rect x="1340.1" y="3348.9" width="22.2" height="22.2"/><rect x="1377.2" y="3360.4" width="22.2" height="22.2"/><rect x="1411.8" y="3361.5" width="22.2" height="22.2"/><rect x="1438.4" y="3360.6" width="22.2" height="22.2"/><rect x="1455.6" y="3357.6" width="22.2" height="22.2"/><rect x="1474.3" y="3356.3" width="22.2" height="22.2"/><rect x="1494.6" y="3353.4" width="22.2" height="22.2"/><rect x="1512.6" y="3351.8" width="22.2" height="22.2"/><rect x="1538.7" y="3344.7" width="22.2" height="22.2"/><rect x="1579.7" y="3347.0" width="22.2" height="22.2"/><rect x="1619.5" y="3351.0" width="22.2" height="22.2"/><rect x="1660.5" y="3341.6" width="22.2" height="22.2"/><rect x="1699.9" y="3201.0" width="22.2" height="22.2"/><rect x="1738.6" y="3339.7" width="22.2" height="22.2"/><rect x="1777.6" y="3331.2" width="22.2" height="22.2"/><rect x="1816.3" y="3324.6" width="22.2" height="22.2"/><rect x="1854.1" y="3300.1" width="22.2" height="22.2"/><rect x="1892.4" y="3321.4" width="22.2" height="22.2"/><rect x="1929.9" y="3331.7" width="22.2" height="22.2"/><rect x="1966.2" y="3204.8" width="22.2" height="22.2"/><rect x="2002.5" y="3327.8" width="22.2" height="22.2"/><rect x="2038.8" y="3178.3" width="22.2" height="22.2"/><rect x="2073.9" y="3331.0" width="22.2" height="22.2"/><rect x="2109.1" y="3327.7" width="22.2" height="22.2"/><rect x="2143.7" y="3340.0" width="22.2" height="22.2"/><rect x="2178.2" y="3336.0" width="22.2" height="22.2"/><rect x="2212.1" y="3318.3" width="22.2" height="22.2"/></g>
</g>
<rect x="268.0" y="1917.5" width="1978.0" height="1474.5" fill="none" stroke="#000" stroke-width="7.8"/>
<path d="M264.1 1917.4 H2249.9" stroke="#000" stroke-width="9"/>
<path d="M526.0 3392.0 v19 M956.0 3392.0 v19 M1386.0 3392.0 v19 M1816.0 3392.0 v19 M2246.0 3392.0 v19 M268.0 3387.7 h-19 M268.0 3177.7 h-19 M268.0 2967.6 h-19 M268.0 2757.6 h-19 M268.0 2547.6 h-19 M268.0 2337.5 h-19 M268.0 2127.5 h-19 M268.0 1917.5 h-19" stroke="#000" stroke-width="4.4" fill="none"/>
<text transform="translate(464.0,3486.7) scale(0.9755,1)" font-size="81.5">350</text>
<text transform="translate(895.1,3486.7) scale(0.9755,1)" font-size="81.5">400</text>
<text transform="translate(1325.1,3486.7) scale(0.9755,1)" font-size="81.5">450</text>
<text transform="translate(1753.6,3486.7) scale(0.9755,1)" font-size="81.5">500</text>
<text transform="translate(2183.6,3486.7) scale(0.9755,1)" font-size="81.5">550</text>
<text transform="translate(130.3,3413.5) scale(0.9750,1)" font-size="79.5">0.0</text>
<text transform="translate(130.3,3203.5) scale(0.9750,1)" font-size="79.5">0.5</text>
<text transform="translate(130.3,2993.4) scale(0.9750,1)" font-size="79.5">1.0</text>
<text transform="translate(130.3,2783.4) scale(0.9750,1)" font-size="79.5">1.5</text>
<text transform="translate(130.3,2573.4) scale(0.9750,1)" font-size="79.5">2.0</text>
<text transform="translate(130.3,2363.3) scale(0.9750,1)" font-size="79.5">2.5</text>
<text transform="translate(130.3,2153.3) scale(0.9750,1)" font-size="79.5">3.0</text>
<text transform="translate(130.3,1943.3) scale(0.9750,1)" font-size="79.5">3.5</text>
<text transform="translate(961.6,3585.3) scale(1.0368,1)" font-size="81">Wavelength (nm)</text>
<text transform="translate(88.5,2906.3) rotate(-90) scale(1.0557,1)" font-size="81">Intensity (a.u.)</text>
<text transform="translate(262.6,1912.2) scale(0.9997,1)" font-size="68.208">×</text><text transform="translate(304.7,1904.4) scale(0.9680,1)" font-size="55.37">10</text><text transform="translate(360.1,1882.4) scale(1.1357,1)" font-size="39.2">5</text>
<path d="M326 2000.6 H462.1" stroke="#1f77b4" stroke-width="3"/><circle cx="394.3" cy="2000.6" r="11.2" fill="#1f77b4"/><path d="M326 2100.3 H462.1" stroke="#ff7f0e" stroke-width="3"/><rect x="383.1" y="2089.1000000000004" width="22.4" height="22.4" fill="#ff7f0e"/><text transform="translate(510.0,2025.6) scale(0.9955,1)" font-size="72">(I) Amber glass</text><text transform="translate(510.0,2125.8) scale(0.9779,1)" font-size="72">(II) Flint glass</text>
<text transform="translate(307.5,2546.7) scale(1.0338,1)" font-size="70">(B)</text>
<text transform="translate(340.9,3327.6) scale(1.1355,1)" font-size="33">Na</text>
<text transform="translate(610.2,3326.4) scale(1.0520,1)" font-size="45">Ca</text>
<text transform="translate(670.7,3302.2) scale(1.0520,1)" font-size="45">Ca</text>
<text transform="translate(701.1,3214.0) scale(1.0436,1)" font-size="45">Ca</text>
<text transform="translate(792.6,3211.3) scale(1.0686,1)" font-size="33">Mg</text>
<text transform="translate(820.0,3316.2) scale(1.0880,1)" font-size="36">Si</text>
<text transform="translate(848.9,3234.2) scale(1.0100,1)" font-size="45">Si</text>
<text transform="translate(1009.6,3303.7) scale(0.9141,1)" font-size="45">K</text>
<text transform="translate(1042.8,3319.3) scale(1.0219,1)" font-size="45">Si</text>
<text transform="translate(880.3,2189.9) scale(1.0431,1)" font-size="58">Ca</text>
<text transform="translate(1116.2,2634.5) scale(1.0317,1)" font-size="58">Ca</text>
<text transform="translate(1190.3,3083.1) scale(1.0836,1)" font-size="45">Ca</text>
<text transform="translate(1319.6,2902.8) scale(1.0457,1)" font-size="45">Ca</text>
<text transform="translate(1406.4,3327.9) scale(0.9757,1)" font-size="33">Ba</text>
<text transform="translate(1431.2,3286.1) scale(1.0861,1)" font-size="34">Ca</text>
<text transform="translate(1671.6,3075.0) scale(1.0920,1)" font-size="45">Ca</text>
<text transform="translate(1737.9,3244.0) scale(0.9506,1)" font-size="45">Ba</text>
<text transform="translate(1829.7,3163.2) scale(1.0219,1)" font-size="45">Si</text>
<text transform="translate(1933.7,2647.7) scale(1.0959,1)" font-size="50">Mg</text>
<text transform="translate(2010.8,2104.4) scale(1.0638,1)" font-size="51">Ca</text>
<text transform="translate(2088.9,2966.8) scale(1.0836,1)" font-size="45">Ca</text>
<path d="M800.6 3238.6 Q823.05 3223.0000000000005 845.5 3238.6" fill="none" stroke="#000" stroke-width="1.8"/>
<path d="M884 2217.2 Q917.95 2186.4000000000005 951.9 2217.2" fill="none" stroke="#000" stroke-width="2.0"/>
<path d="M1187.2 3124.1 Q1221.0 3096.9 1254.8 3124.1" fill="none" stroke="#000" stroke-width="2.0"/>
<path d="M1316 2946.2 Q1352.85 2914.6000000000004 1389.7 2946.2" fill="none" stroke="#000" stroke-width="2.0"/>
<path d="M1943.6 2699.6 Q1972.25 2676.4 2000.9 2699.6" fill="none" stroke="#000" stroke-width="2.0"/>
<rect x="1046.5" y="1936.4" width="892.5" height="554.5" fill="#fff"/>
<clipPath id="ci"><rect x="1046.5" y="1936.4" width="892.5" height="554.5"/></clipPath>
<g clip-path="url(#ci)">
<polyline points="1048.4,2459.0 1049.7,2456.5 1051.0,2457.9 1052.3,2455.8 1053.6,2459.4 1054.9,2462.5 1056.2,2458.7 1057.5,2454.3 1058.8,2457.1 1060.1,2458.2 1061.4,2456.3 1062.7,2456.7 1064.0,2456.4 1065.3,2457.1 1066.6,2453.5 1068.4,2432.3 1069.2,2448.8 1070.5,2456.5 1071.8,2456.4 1073.1,2455.8 1074.4,2456.7 1075.7,2457.1 1077.0,2457.2 1078.3,2453.7 1079.6,2457.5 1080.9,2456.1 1082.2,2454.4 1083.5,2457.0 1084.8,2455.6 1086.1,2452.3 1087.4,2445.6 1089.3,2391.5 1090.0,2430.3 1091.3,2448.8 1092.6,2455.4 1093.9,2453.0 1095.2,2455.8 1096.5,2458.3 1097.8,2455.7 1099.1,2458.1 1100.4,2456.7 1101.7,2454.6 1103.0,2455.6 1104.3,2450.9 1105.6,2453.1 1106.9,2447.5 1108.2,2442.3 1109.5,2429.7 1111.2,2348.9 1112.1,2406.7 1113.4,2415.9 1114.7,2385.8 1115.5,2317.1 1117.3,2417.4 1118.5,2429.2 1119.8,2434.8 1121.1,2435.7 1122.4,2436.8 1123.7,2432.3 1125.0,2436.4 1126.3,2434.2 1127.6,2432.7 1128.9,2429.1 1130.2,2421.2 1131.5,2391.7 1132.5,2294.2 1134.1,2414.2 1135.4,2426.1 1136.7,2432.7 1138.0,2432.0 1139.3,2435.2 1140.6,2435.1 1141.9,2433.7 1143.2,2431.1 1144.5,2428.9 1145.8,2429.4 1147.1,2421.8 1148.4,2434.0 1149.7,2439.3 1151.0,2428.5 1152.3,2426.3 1153.6,2416.4 1154.9,2409.9 1156.2,2428.5 1157.5,2405.3 1158.8,2409.2 1160.1,2412.1 1161.4,2413.3 1162.7,2400.0 1164.0,2412.0 1165.3,2413.7 1166.6,2408.7 1167.9,2415.9 1169.2,2403.8 1170.5,2405.7 1171.8,2401.7 1173.1,2400.0 1174.4,2406.7 1175.7,2391.6 1177.0,2403.8 1178.3,2392.2 1179.6,2405.7 1180.9,2393.7 1182.2,2399.8 1183.5,2394.1 1184.8,2397.3 1186.1,2405.4 1187.4,2398.5 1188.7,2391.0 1189.9,2387.1 1191.2,2398.3 1192.5,2401.3 1193.8,2394.3 1195.1,2390.6 1196.4,2393.1 1197.7,2394.2 1199.0,2384.8 1200.3,2384.2 1201.6,2385.6 1202.9,2395.4 1204.2,2389.7 1205.5,2391.3 1206.8,2398.5 1208.1,2385.3 1209.4,2390.0 1210.7,2393.4 1212.0,2382.6 1213.3,2386.4 1214.6,2386.0 1215.9,2384.3 1217.2,2387.7 1218.5,2399.8 1219.8,2395.5 1221.1,2388.3 1222.4,2399.1 1223.7,2395.2 1225.0,2393.9 1226.3,2388.6 1227.6,2390.2 1228.9,2393.2 1230.2,2398.9 1231.5,2392.0 1232.8,2393.6 1234.1,2396.9 1235.4,2387.6 1236.7,2392.0 1238.0,2398.5 1239.3,2386.3 1240.6,2394.4 1241.9,2388.9 1243.2,2400.4 1244.5,2391.2 1245.8,2395.9 1247.1,2395.4 1248.4,2400.2 1249.7,2377.2 1251.0,2390.7 1252.3,2388.9 1253.6,2384.3 1254.9,2391.7 1256.2,2388.4 1257.5,2399.5 1258.8,2391.0 1260.1,2394.8 1261.3,2390.0 1262.6,2392.2 1263.9,2401.5 1265.2,2404.6 1266.5,2400.1 1267.8,2390.5 1269.1,2392.9 1270.4,2393.6 1271.7,2408.2 1273.0,2412.7 1274.3,2401.5 1275.6,2400.5 1276.9,2402.7 1278.2,2397.8 1279.5,2401.5 1280.8,2407.9 1282.1,2405.0 1283.4,2397.6 1284.7,2396.6 1286.0,2395.9 1287.3,2381.0 1288.6,2394.1 1289.9,2390.4 1291.2,2395.6 1292.5,2390.7 1293.8,2384.5 1295.1,2383.1 1296.4,2386.0 1297.7,2381.7 1299.0,2382.4 1300.3,2392.3 1301.6,2399.1 1302.9,2365.9 1304.2,2373.2 1305.5,2377.1 1306.8,2385.5 1308.1,2381.3 1309.4,2364.6 1310.7,2386.7 1312.0,2371.0 1313.3,2362.5 1314.6,2365.1 1315.9,2359.9 1317.2,2363.4 1318.5,2347.3 1319.8,2365.3 1321.1,2365.5 1322.4,2354.5 1323.7,2347.7 1325.0,2358.6 1326.3,2354.6 1327.6,2366.0 1328.9,2372.0 1330.2,2359.5 1331.5,2360.8 1332.7,2363.2 1334.0,2376.7 1335.3,2382.9 1336.6,2380.8 1337.9,2373.1 1339.2,2366.0 1340.5,2363.8 1341.8,2372.1 1343.1,2359.4 1344.4,2356.3 1345.7,2350.6 1347.0,2344.1 1348.3,2334.5 1349.6,2308.2 1350.9,2258.6 1352.2,2099.6 1353.0,1871.0 1354.8,2245.4 1356.1,2307.0 1357.4,2342.0 1358.7,2338.2 1360.0,2348.4 1361.3,2345.0 1362.6,2353.3 1363.9,2354.3 1365.2,2353.4 1366.5,2355.4 1367.8,2358.9 1369.1,2367.5 1370.4,2347.4 1371.7,2367.6 1373.0,2361.2 1374.3,2356.0 1375.6,2358.1 1376.9,2357.5 1378.2,2356.8 1379.5,2354.7 1380.8,2362.1 1382.1,2348.9 1383.4,2373.0 1384.7,2367.6 1386.0,2372.6 1387.3,2375.1 1388.6,2371.7 1389.9,2366.1 1391.2,2379.2 1392.5,2379.0 1393.8,2366.6 1395.1,2356.4 1396.4,2315.3 1397.5,2205.0 1399.0,2334.4 1400.3,2359.2 1401.6,2362.3 1402.9,2366.4 1404.1,2373.3 1405.4,2364.9 1406.7,2364.9 1408.0,2364.1 1409.3,2364.4 1410.6,2355.5 1411.9,2364.3 1413.2,2366.0 1414.5,2377.7 1415.8,2382.9 1417.1,2381.3 1418.4,2374.2 1419.7,2372.4 1421.0,2366.1 1422.3,2353.7 1423.6,2351.4 1424.9,2354.3 1426.2,2346.4 1427.5,2342.3 1428.8,2330.9 1430.1,2330.7 1431.4,2315.3 1432.7,2297.8 1434.0,2284.3 1435.3,2263.3 1437.3,2220.0 1437.9,2222.0 1439.2,2251.0 1440.5,2272.5 1441.8,2292.5 1443.1,2308.9 1444.4,2300.1 1445.7,2311.6 1447.0,2314.6 1448.3,2317.8 1449.6,2328.6 1450.9,2327.3 1452.2,2326.3 1453.5,2323.7 1454.8,2330.9 1456.1,2350.5 1457.4,2335.2 1458.7,2332.9 1460.0,2328.4 1461.3,2332.5 1462.6,2323.0 1463.9,2329.7 1465.2,2330.7 1466.5,2333.4 1467.8,2347.1 1469.1,2334.6 1470.4,2336.2 1471.7,2342.7 1473.0,2336.2 1474.3,2336.8 1475.5,2341.3 1476.8,2338.2 1478.1,2337.1 1479.4,2329.5 1480.7,2325.3 1482.0,2304.3 1483.3,2282.0 1485.2,2043.4 1485.9,2190.1 1487.2,2276.2 1488.5,2300.0 1489.8,2314.0 1491.1,2319.1 1492.4,2319.3 1493.7,2309.9 1495.0,2322.8 1496.3,2306.8 1497.6,2312.5 1498.9,2288.3 1499.6,2272.8 1501.5,2304.8 1502.8,2306.0 1504.1,2306.6 1505.4,2319.3 1506.7,2313.6 1508.0,2315.3 1509.3,2323.9 1510.6,2313.3 1511.9,2316.0 1513.2,2303.3 1514.5,2318.0 1515.8,2305.2 1517.1,2319.9 1518.4,2307.6 1519.7,2317.5 1521.0,2319.8 1522.3,2319.6 1523.6,2320.9 1524.9,2319.8 1526.2,2319.7 1527.5,2333.4 1528.8,2340.3 1530.1,2349.3 1531.4,2336.5 1532.7,2330.2 1534.0,2332.7 1535.3,2334.5 1536.6,2337.5 1537.9,2340.2 1539.2,2340.4 1540.5,2338.8 1541.8,2353.4 1543.1,2341.3 1544.4,2356.1 1545.7,2350.9 1546.9,2355.8 1548.2,2356.5 1549.5,2362.6 1550.8,2365.4 1552.1,2362.3 1553.4,2369.4 1554.7,2351.3 1556.0,2368.4 1557.3,2369.6 1558.6,2368.8 1559.9,2371.5 1561.2,2379.1 1562.5,2366.2 1563.8,2362.6 1565.1,2372.5 1566.4,2363.4 1567.7,2369.7 1569.0,2363.1 1570.3,2361.4 1571.6,2360.6 1572.9,2359.9 1574.2,2363.0 1575.5,2343.8 1577.1,2297.6 1578.1,2335.2 1579.4,2351.0 1580.7,2361.7 1582.0,2366.9 1583.3,2351.1 1584.6,2345.9 1585.9,2306.0 1587.6,2065.7 1588.5,2203.7 1589.8,2211.5 1591.1,2029.7 1592.0,1797.8 1593.7,2160.8 1595.0,2243.7 1596.3,2265.2 1597.6,2222.8 1598.9,2094.7 1600.2,1797.8 1600.9,1797.8 1602.8,2017.7 1604.6,1821.2 1605.4,2089.6 1606.7,2256.7 1608.0,2301.1 1609.3,2318.6 1610.6,2330.7 1611.9,2333.8 1613.2,2336.1 1614.5,2339.3 1615.8,2342.7 1617.1,2346.3 1618.3,2324.9 1619.6,2293.5 1620.9,2319.2 1622.2,2342.9 1623.5,2348.8 1624.8,2343.6 1626.1,2345.6 1627.4,2353.2 1628.7,2352.3 1630.0,2361.8 1631.3,2355.0 1632.6,2363.8 1633.9,2360.5 1635.2,2360.9 1636.5,2363.3 1637.8,2373.1 1639.1,2366.0 1640.4,2359.6 1641.7,2362.0 1643.0,2363.9 1644.3,2360.4 1645.6,2361.2 1646.9,2362.4 1648.2,2373.8 1649.5,2370.7 1650.8,2374.1 1652.1,2378.0 1653.4,2381.6 1654.7,2372.8 1656.0,2375.0 1657.3,2355.1 1658.6,2363.7 1659.9,2353.6 1661.2,2330.5 1662.5,2262.6 1663.8,2135.4 1665.1,1797.8 1666.1,1797.8 1667.7,1868.7 1669.0,1933.2 1670.3,1797.8 1671.2,1797.8 1672.9,1885.2 1674.2,2200.3 1675.5,2320.3 1676.8,2360.3 1678.1,2381.0 1679.4,2396.0 1680.7,2380.6 1682.0,2368.9 1683.3,2371.7 1684.6,2381.3 1685.9,2371.4 1687.2,2374.0 1688.5,2369.7 1689.7,2370.9 1691.0,2378.1 1692.3,2374.4 1693.6,2387.1 1694.9,2370.3 1696.2,2375.4 1697.5,2369.9 1698.8,2369.7 1700.1,2377.0 1701.4,2375.7 1702.7,2379.3 1704.0,2385.5 1705.3,2373.8 1706.6,2371.5 1707.9,2377.9 1709.2,2366.9 1710.5,2371.6 1711.8,2371.1 1713.1,2379.5 1714.4,2386.6 1715.7,2373.4 1717.0,2375.7 1718.3,2381.0 1719.6,2383.9 1720.9,2384.0 1722.2,2384.0 1723.5,2386.7 1724.8,2395.4 1726.1,2378.8 1727.4,2390.3 1728.7,2379.9 1730.0,2370.2 1731.3,2347.2 1732.6,2309.8 1733.9,2141.4 1735.0,1797.8 1736.5,2200.8 1737.8,2308.1 1739.1,2356.5 1740.4,2385.2 1741.7,2372.8 1743.0,2371.2 1744.3,2374.4 1745.6,2385.5 1746.9,2383.7 1748.2,2382.0 1749.5,2394.2 1750.8,2388.1 1752.1,2388.2 1753.4,2375.6 1754.7,2388.5 1756.0,2375.9 1757.3,2384.8 1758.6,2394.5 1759.9,2372.2 1761.1,2390.4 1762.4,2381.2 1763.7,2374.9 1765.0,2387.7 1766.3,2391.6 1767.6,2378.4 1768.9,2383.9 1770.2,2391.2 1771.5,2390.2 1772.8,2386.2 1774.1,2378.3 1775.4,2385.3 1776.7,2379.6 1778.0,2373.7 1779.3,2375.6 1780.6,2374.4 1781.9,2375.4 1783.2,2391.4 1784.5,2374.9 1785.8,2379.8 1787.1,2382.1 1788.4,2387.4 1789.7,2390.0 1791.0,2387.0 1792.3,2380.5 1793.6,2386.8 1794.9,2384.5 1796.2,2383.1 1797.5,2375.5 1798.8,2380.7 1800.1,2379.6 1801.4,2370.9 1802.7,2380.1 1804.0,2374.5 1805.3,2383.8 1806.6,2375.5 1807.9,2376.5 1809.2,2376.2 1810.5,2379.9 1811.8,2383.1 1813.1,2379.0 1814.4,2379.9 1815.7,2371.3 1817.0,2372.0 1818.3,2384.1 1819.6,2373.7 1820.9,2380.0 1822.2,2374.6 1823.5,2380.0 1824.8,2385.2 1826.1,2367.6 1827.4,2367.4 1828.7,2373.6 1830.0,2374.0 1831.3,2362.9 1832.5,2363.2 1833.8,2348.9 1835.1,2332.7 1836.4,2317.4 1837.7,2317.4 1839.0,2296.9 1840.3,2287.6 1841.6,2291.9 1842.9,2297.3 1844.2,2281.3 1845.5,2281.1 1846.8,2269.5 1848.1,2273.1 1849.4,2275.2 1850.7,2268.3 1852.0,2282.3 1853.3,2273.4 1854.6,2274.3 1855.9,2260.8 1857.2,2265.8 1858.5,2286.4 1859.8,2260.6 1861.1,2272.9 1862.4,2261.7 1863.7,2266.0 1865.0,2256.1 1866.3,2241.4 1867.6,2210.4 1869.5,2006.5 1870.2,2117.5 1871.5,2205.6 1872.8,2232.9 1874.1,2237.2 1875.4,2246.7 1876.7,2232.6 1878.0,2240.6 1879.3,2237.4 1880.6,2236.6 1881.9,2243.4 1883.2,2243.4 1884.5,2231.6 1885.8,2221.4 1887.1,2179.2 1887.9,2101.9 1889.7,2229.9 1891.0,2237.3 1892.3,2242.6 1893.6,2245.7 1894.9,2252.5 1896.2,2263.8 1897.5,2253.8 1898.8,2269.8 1900.1,2267.2 1901.4,2284.4 1902.7,2275.7 1903.9,2289.3 1905.2,2283.2 1906.5,2283.8 1907.8,2292.4 1909.1,2310.8 1910.4,2314.4 1911.7,2318.6 1913.0,2314.3 1914.3,2320.3 1915.6,2325.1 1916.9,2327.4 1918.2,2328.2 1919.5,2329.0 1920.8,2318.6 1922.1,2321.1 1923.4,2307.0 1924.7,2299.6 1926.0,2256.4 1927.3,2158.7 1928.6,1908.8 1929.9,1797.8 1931.2,1822.9 1932.5,1933.6 1934.1,1797.8 1935.1,1913.6 1936.4,2193.7" fill="none" stroke="#1f77b4" stroke-width="3.0" stroke-linejoin="round"/>
<g fill="#1f77b4"><circle cx="1075.0" cy="2456.9" r="5.3"/><circle cx="1115.0" cy="2356.5" r="5.3"/><circle cx="1145.0" cy="2429.1" r="5.3"/><circle cx="1290.5" cy="2392.8" r="5.3"/><circle cx="1353.0" cy="1867.1" r="5.3"/><circle cx="1413.5" cy="2368.4" r="5.3"/><circle cx="1478.0" cy="2337.3" r="5.3"/><circle cx="1535.3" cy="2334.6" r="5.3"/><circle cx="1593.4" cy="1659.2" r="5.3"/><circle cx="1649.6" cy="2371.0" r="5.3"/><circle cx="1705.8" cy="2373.0" r="5.3"/><circle cx="1760.0" cy="2374.3" r="5.3"/><circle cx="1814.5" cy="2379.1" r="5.3"/><circle cx="1867.6" cy="2001.1" r="5.3"/><circle cx="1918.2" cy="2328.2" r="5.3"/></g>
<polyline points="1048.4,2454.9 1049.7,2456.8 1051.0,2457.4 1052.3,2456.7 1053.6,2454.0 1054.9,2455.9 1056.2,2456.9 1057.5,2456.1 1058.8,2455.8 1060.1,2456.2 1061.4,2458.4 1062.7,2455.8 1064.0,2456.1 1065.3,2454.2 1066.6,2454.6 1068.4,2434.2 1069.2,2448.7 1070.5,2456.0 1071.8,2454.2 1073.1,2457.1 1074.4,2456.4 1075.7,2457.3 1077.0,2455.9 1078.3,2456.1 1079.6,2456.1 1080.9,2456.7 1082.2,2459.5 1083.5,2459.5 1084.8,2457.3 1086.1,2458.5 1087.4,2456.8 1089.3,2457.0 1090.0,2458.9 1091.3,2458.3 1092.6,2458.3 1093.9,2458.0 1095.2,2457.1 1096.5,2455.9 1097.8,2455.0 1099.1,2457.6 1100.4,2456.9 1101.7,2454.3 1103.0,2454.8 1104.3,2455.1 1105.6,2457.4 1106.9,2454.9 1108.2,2452.0 1109.5,2449.5 1111.2,2423.9 1112.1,2439.7 1113.4,2437.9 1114.7,2419.1 1115.5,2377.5 1117.3,2437.0 1118.5,2445.5 1119.8,2448.1 1121.1,2448.6 1122.4,2449.1 1123.7,2448.2 1125.0,2450.8 1126.3,2448.4 1127.6,2447.4 1128.9,2443.9 1130.2,2441.1 1131.5,2423.2 1132.5,2368.0 1134.1,2434.1 1135.4,2442.4 1136.7,2446.1 1138.0,2446.8 1139.3,2446.7 1140.6,2446.0 1141.9,2448.0 1143.2,2445.4 1144.5,2447.4 1145.8,2437.8 1147.1,2439.0 1148.4,2446.0 1149.7,2446.4 1151.0,2433.3 1152.3,2440.1 1153.6,2439.8 1154.9,2443.2 1156.2,2441.5 1157.5,2437.1 1158.8,2437.3 1160.1,2442.5 1161.4,2433.5 1162.7,2436.6 1164.0,2441.0 1165.3,2432.5 1166.6,2436.6 1167.9,2432.0 1169.2,2436.8 1170.5,2432.4 1171.8,2439.8 1173.1,2431.0 1174.4,2438.0 1175.7,2430.5 1177.0,2440.8 1178.3,2430.1 1179.6,2426.2 1180.9,2426.5 1182.2,2423.0 1183.5,2431.5 1184.8,2420.2 1186.1,2419.3 1187.4,2430.0 1188.7,2427.7 1189.9,2426.2 1191.2,2423.3 1192.5,2421.8 1193.8,2432.5 1195.1,2420.1 1196.4,2423.6 1197.7,2426.6 1199.0,2418.7 1200.3,2423.9 1201.6,2417.9 1202.9,2420.4 1204.2,2423.8 1205.5,2417.8 1206.8,2419.3 1208.1,2424.6 1209.4,2429.1 1210.7,2424.7 1212.0,2420.0 1213.3,2423.5 1214.6,2415.4 1215.9,2421.6 1217.2,2422.6 1218.5,2422.5 1219.8,2428.4 1221.1,2426.0 1222.4,2428.9 1223.7,2436.5 1225.0,2434.9 1226.3,2425.4 1227.6,2430.9 1228.9,2430.3 1230.2,2435.5 1231.5,2431.5 1232.8,2425.5 1234.1,2427.9 1235.4,2429.9 1236.7,2421.2 1238.0,2427.2 1239.3,2427.9 1240.6,2421.5 1241.9,2432.7 1243.2,2423.0 1244.5,2429.3 1245.8,2427.6 1247.1,2426.7 1248.4,2423.0 1249.7,2423.2 1251.0,2422.6 1252.3,2423.1 1253.6,2418.5 1254.9,2417.5 1256.2,2421.7 1257.5,2421.7 1258.8,2426.4 1260.1,2429.5 1261.3,2422.9 1262.6,2425.3 1263.9,2422.2 1265.2,2433.2 1266.5,2415.2 1267.8,2431.3 1269.1,2426.4 1270.4,2422.9 1271.7,2432.9 1273.0,2429.9 1274.3,2436.2 1275.6,2434.2 1276.9,2436.6 1278.2,2428.7 1279.5,2428.3 1280.8,2431.2 1282.1,2424.1 1283.4,2422.8 1284.7,2427.6 1286.0,2427.7 1287.3,2427.1 1288.6,2427.0 1289.9,2419.1 1291.2,2422.6 1292.5,2424.2 1293.8,2423.0 1295.1,2419.1 1296.4,2422.1 1297.7,2418.5 1299.0,2419.1 1300.3,2412.7 1301.6,2412.7 1302.9,2422.3 1304.2,2416.5 1305.5,2412.2 1306.8,2416.1 1308.1,2410.1 1309.4,2411.2 1310.7,2409.3 1312.0,2411.0 1313.3,2408.7 1314.6,2406.9 1315.9,2414.1 1317.2,2410.9 1318.5,2410.5 1319.8,2398.7 1321.1,2403.3 1322.4,2402.2 1323.7,2402.9 1325.0,2406.9 1326.3,2409.0 1327.6,2403.8 1328.9,2409.9 1330.2,2403.2 1331.5,2410.0 1332.7,2411.6 1334.0,2414.0 1335.3,2414.5 1336.6,2412.6 1337.9,2405.1 1339.2,2400.2 1340.5,2412.6 1341.8,2405.1 1343.1,2401.1 1344.4,2405.0 1345.7,2400.6 1347.0,2395.5 1348.3,2397.0 1349.6,2371.5 1350.9,2342.7 1352.2,2246.8 1353.0,2104.2 1354.8,2334.6 1356.1,2361.8 1357.4,2384.8 1358.7,2389.0 1360.0,2398.1 1361.3,2396.7 1362.6,2400.7 1363.9,2400.9 1365.2,2404.5 1366.5,2404.6 1367.8,2399.9 1369.1,2399.0 1370.4,2400.4 1371.7,2405.2 1373.0,2401.3 1374.3,2412.9 1375.6,2399.0 1376.9,2403.1 1378.2,2401.9 1379.5,2398.5 1380.8,2405.7 1382.1,2400.8 1383.4,2407.2 1384.7,2403.9 1386.0,2408.4 1387.3,2406.3 1388.6,2402.3 1389.9,2411.5 1391.2,2412.0 1392.5,2411.5 1393.8,2408.9 1395.1,2398.5 1396.4,2411.3 1397.5,2416.7 1399.0,2410.5 1400.3,2413.7 1401.6,2409.0 1402.9,2406.1 1404.1,2409.4 1405.4,2407.6 1406.7,2411.8 1408.0,2402.9 1409.3,2406.0 1410.6,2398.9 1411.9,2399.3 1413.2,2407.2 1414.5,2405.3 1415.8,2403.7 1417.1,2400.9 1418.4,2409.3 1419.7,2401.2 1421.0,2391.6 1422.3,2397.5 1423.6,2394.0 1424.9,2391.8 1426.2,2393.0 1427.5,2380.3 1428.8,2378.4 1430.1,2373.4 1431.4,2364.7 1432.7,2356.4 1434.0,2356.4 1435.3,2330.9 1437.3,2310.1 1437.9,2310.2 1439.2,2330.5 1440.5,2343.5 1441.8,2343.5 1443.1,2351.9 1444.4,2356.0 1445.7,2357.9 1447.0,2357.6 1448.3,2358.6 1449.6,2371.2 1450.9,2368.8 1452.2,2369.6 1453.5,2368.7 1454.8,2369.2 1456.1,2380.0 1457.4,2368.6 1458.7,2376.1 1460.0,2374.6 1461.3,2378.6 1462.6,2378.8 1463.9,2370.5 1465.2,2376.9 1466.5,2376.8 1467.8,2372.1 1469.1,2370.2 1470.4,2383.4 1471.7,2378.3 1473.0,2377.7 1474.3,2370.3 1475.5,2367.5 1476.8,2377.1 1478.1,2374.5 1479.4,2369.3 1480.7,2363.0 1482.0,2359.5 1483.3,2332.9 1485.2,2203.2 1485.9,2292.8 1487.2,2342.1 1488.5,2352.6 1489.8,2356.5 1491.1,2370.7 1492.4,2368.9 1493.7,2360.5 1495.0,2371.4 1496.3,2351.3 1497.6,2342.1 1498.9,2342.0 1499.6,2316.4 1501.5,2343.3 1502.8,2343.2 1504.1,2350.8 1505.4,2354.4 1506.7,2353.5 1508.0,2350.2 1509.3,2352.9 1510.6,2352.9 1511.9,2358.2 1513.2,2350.0 1514.5,2353.4 1515.8,2347.7 1517.1,2356.7 1518.4,2358.5 1519.7,2362.2 1521.0,2358.2 1522.3,2363.4 1523.6,2366.8 1524.9,2359.0 1526.2,2359.7 1527.5,2370.1 1528.8,2373.8 1530.1,2365.8 1531.4,2374.0 1532.7,2359.6 1534.0,2371.8 1535.3,2367.7 1536.6,2377.1 1537.9,2372.7 1539.2,2369.8 1540.5,2374.0 1541.8,2379.5 1543.1,2369.0 1544.4,2377.4 1545.7,2382.9 1546.9,2385.9 1548.2,2386.1 1549.5,2381.1 1550.8,2391.2 1552.1,2389.5 1553.4,2394.5 1554.7,2387.6 1556.0,2393.6 1557.3,2389.0 1558.6,2389.7 1559.9,2393.8 1561.2,2388.1 1562.5,2386.6 1563.8,2394.5 1565.1,2386.4 1566.4,2374.3 1567.7,2389.2 1569.0,2385.3 1570.3,2393.5 1571.6,2386.3 1572.9,2390.1 1574.2,2383.4 1575.5,2383.1 1577.1,2368.4 1578.1,2373.9 1579.4,2385.2 1580.7,2389.6 1582.0,2384.1 1583.3,2384.7 1584.6,2369.4 1585.9,2347.5 1587.6,2204.4 1588.5,2287.9 1589.8,2295.8 1591.1,2169.7 1592.0,1868.1 1593.7,2259.2 1595.0,2313.2 1596.3,2319.5 1597.6,2298.4 1598.9,2219.4 1600.2,1974.6 1600.9,1797.8 1602.8,2171.2 1604.6,2103.9 1605.4,2234.8 1606.7,2309.4 1608.0,2331.5 1609.3,2346.5 1610.6,2349.8 1611.9,2353.6 1613.2,2353.8 1614.5,2352.5 1615.8,2362.4 1617.1,2356.4 1618.3,2347.2 1619.6,2319.7 1620.9,2344.7 1622.2,2363.7 1623.5,2369.6 1624.8,2370.2 1626.1,2382.9 1627.4,2383.4 1628.7,2383.4 1630.0,2382.7 1631.3,2382.6 1632.6,2386.5 1633.9,2378.0 1635.2,2388.6 1636.5,2387.2 1637.8,2382.5 1639.1,2384.2 1640.4,2387.9 1641.7,2386.7 1643.0,2385.2 1644.3,2389.4 1645.6,2388.0 1646.9,2395.5 1648.2,2392.6 1649.5,2400.4 1650.8,2398.1 1652.1,2399.5 1653.4,2389.7 1654.7,2396.0 1656.0,2391.4 1657.3,2393.0 1658.6,2383.9 1659.9,2374.0 1661.2,2358.0 1662.5,2314.0 1663.8,2233.0 1665.1,1932.0 1666.1,1797.8 1667.7,2059.2 1669.0,2093.0 1670.3,1797.8 1671.2,1797.8 1672.9,2061.3 1674.2,2253.9 1675.5,2329.3 1676.8,2365.8 1678.1,2379.1 1679.4,2388.8 1680.7,2388.4 1682.0,2386.5 1683.3,2393.1 1684.6,2397.7 1685.9,2397.3 1687.2,2394.0 1688.5,2404.7 1689.7,2392.4 1691.0,2393.1 1692.3,2404.5 1693.6,2389.3 1694.9,2400.4 1696.2,2394.2 1697.5,2387.9 1698.8,2398.9 1700.1,2399.1 1701.4,2395.5 1702.7,2394.6 1704.0,2390.1 1705.3,2390.9 1706.6,2390.0 1707.9,2389.2 1709.2,2387.2 1710.5,2391.1 1711.8,2387.7 1713.1,2390.5 1714.4,2396.1 1715.7,2385.9 1717.0,2399.9 1718.3,2392.9 1719.6,2400.2 1720.9,2396.8 1722.2,2397.2 1723.5,2396.7 1724.8,2395.0 1726.1,2404.4 1727.4,2388.7 1728.7,2397.0 1730.0,2396.0 1731.3,2385.9 1732.6,2340.3 1733.9,2246.8 1735.0,1904.8 1736.5,2286.6 1737.8,2354.2 1739.1,2382.5 1740.4,2394.4 1741.7,2397.6 1743.0,2396.7 1744.3,2401.6 1745.6,2407.7 1746.9,2400.1 1748.2,2410.6 1749.5,2406.9 1750.8,2399.2 1752.1,2403.7 1753.4,2404.0 1754.7,2404.8 1756.0,2401.2 1757.3,2405.8 1758.6,2413.8 1759.9,2405.0 1761.1,2418.7 1762.4,2414.7 1763.7,2399.9 1765.0,2402.3 1766.3,2408.6 1767.6,2407.1 1768.9,2406.6 1770.2,2402.9 1771.5,2410.3 1772.8,2410.9 1774.1,2409.9 1775.4,2406.8 1776.7,2405.9 1778.0,2408.2 1779.3,2403.2 1780.6,2410.1 1781.9,2405.9 1783.2,2408.0 1784.5,2408.9 1785.8,2399.4 1787.1,2405.4 1788.4,2407.8 1789.7,2403.2 1791.0,2407.1 1792.3,2400.2 1793.6,2398.7 1794.9,2397.6 1796.2,2405.8 1797.5,2401.7 1798.8,2393.2 1800.1,2401.2 1801.4,2394.8 1802.7,2393.3 1804.0,2404.9 1805.3,2393.9 1806.6,2395.4 1807.9,2394.6 1809.2,2391.3 1810.5,2396.3 1811.8,2397.9 1813.1,2395.7 1814.4,2399.6 1815.7,2396.2 1817.0,2406.4 1818.3,2391.1 1819.6,2400.4 1820.9,2396.0 1822.2,2396.9 1823.5,2397.8 1824.8,2397.5 1826.1,2396.3 1827.4,2401.8 1828.7,2395.8 1830.0,2387.2 1831.3,2394.8 1832.5,2393.5 1833.8,2374.1 1835.1,2370.7 1836.4,2362.1 1837.7,2361.5 1839.0,2353.3 1840.3,2344.1 1841.6,2341.5 1842.9,2343.0 1844.2,2347.4 1845.5,2343.3 1846.8,2345.2 1848.1,2331.4 1849.4,2338.2 1850.7,2336.1 1852.0,2332.9 1853.3,2332.8 1854.6,2329.4 1855.9,2332.7 1857.2,2335.2 1858.5,2321.5 1859.8,2331.1 1861.1,2329.5 1862.4,2329.8 1863.7,2327.1 1865.0,2321.6 1866.3,2311.9 1867.6,2301.5 1869.5,2185.5 1870.2,2254.6 1871.5,2290.0 1872.8,2312.9 1874.1,2311.7 1875.4,2310.4 1876.7,2318.6 1878.0,2311.8 1879.3,2310.5 1880.6,2313.4 1881.9,2310.4 1883.2,2304.7 1884.5,2306.9 1885.8,2311.1 1887.1,2312.1 1887.9,2310.6 1889.7,2309.8 1891.0,2313.5 1892.3,2315.5 1893.6,2313.8 1894.9,2328.2 1896.2,2329.4 1897.5,2335.0 1898.8,2325.1 1900.1,2340.4 1901.4,2334.0 1902.7,2333.3 1903.9,2344.6 1905.2,2344.1 1906.5,2345.0 1907.8,2344.0 1909.1,2356.0 1910.4,2351.4 1911.7,2352.6 1913.0,2357.4 1914.3,2359.6 1915.6,2357.1 1916.9,2362.7 1918.2,2364.5 1919.5,2365.6 1920.8,2358.2 1922.1,2356.1 1923.4,2342.1 1924.7,2328.5 1926.0,2291.4 1927.3,2222.2 1928.6,2012.8 1929.9,1797.8 1931.2,1948.2 1932.5,2022.0 1934.1,1797.8 1935.1,1999.2 1936.4,2235.7" fill="none" stroke="#ff7f0e" stroke-width="3.0" stroke-linejoin="round"/>
<g fill="#ff7f0e"><rect x="1069.7" y="2451.5" width="10.6" height="10.6"/><rect x="1109.7" y="2396.1" width="10.6" height="10.6"/><rect x="1139.7" y="2438.5" width="10.6" height="10.6"/><rect x="1285.2" y="2415.4" width="10.6" height="10.6"/><rect x="1347.7" y="2099.3" width="10.6" height="10.6"/><rect x="1408.2" y="2401.5" width="10.6" height="10.6"/><rect x="1472.7" y="2369.5" width="10.6" height="10.6"/><rect x="1530.0" y="2362.6" width="10.6" height="10.6"/><rect x="1588.1" y="1972.7" width="10.6" height="10.6"/><rect x="1644.3" y="2395.0" width="10.6" height="10.6"/><rect x="1700.5" y="2385.3" width="10.6" height="10.6"/><rect x="1754.7" y="2401.3" width="10.6" height="10.6"/><rect x="1809.2" y="2394.0" width="10.6" height="10.6"/><rect x="1862.3" y="2181.5" width="10.6" height="10.6"/><rect x="1912.9" y="2359.2" width="10.6" height="10.6"/></g>
</g>
<rect x="1046.5" y="1936.4" width="892.5" height="554.5" fill="none" stroke="#000" stroke-width="8.4"/>
<path d="M1127.6 2490.9 v20 M1289.9 2490.9 v20 M1452.2 2490.9 v20 M1614.5 2490.9 v20 M1776.7 2490.9 v20 M1939.0 2490.9 v20" stroke="#000" stroke-width="4.2" fill="none"/>
<text x="1095.4" y="2560.4" font-size="43.5">460</text>
<text x="1257.7" y="2560.4" font-size="43.5">480</text>
<text x="1419.1" y="2560.4" font-size="43.5">500</text>
<text x="1581.4" y="2560.4" font-size="43.5">520</text>
<text x="1743.7" y="2560.4" font-size="43.5">540</text>
<text x="1905.9" y="2560.4" font-size="43.5">560</text>
<text transform="translate(1062.8,2379.8) scale(0.9891,1)" font-size="37">Ba</text>
<text transform="translate(1371.8,2194.4) scale(0.9917,1)" font-size="42">Ba</text>
<text transform="translate(1870.8,2083.1) scale(0.9784,1)" font-size="42">Ba</text>
</svg>
</body></html>
